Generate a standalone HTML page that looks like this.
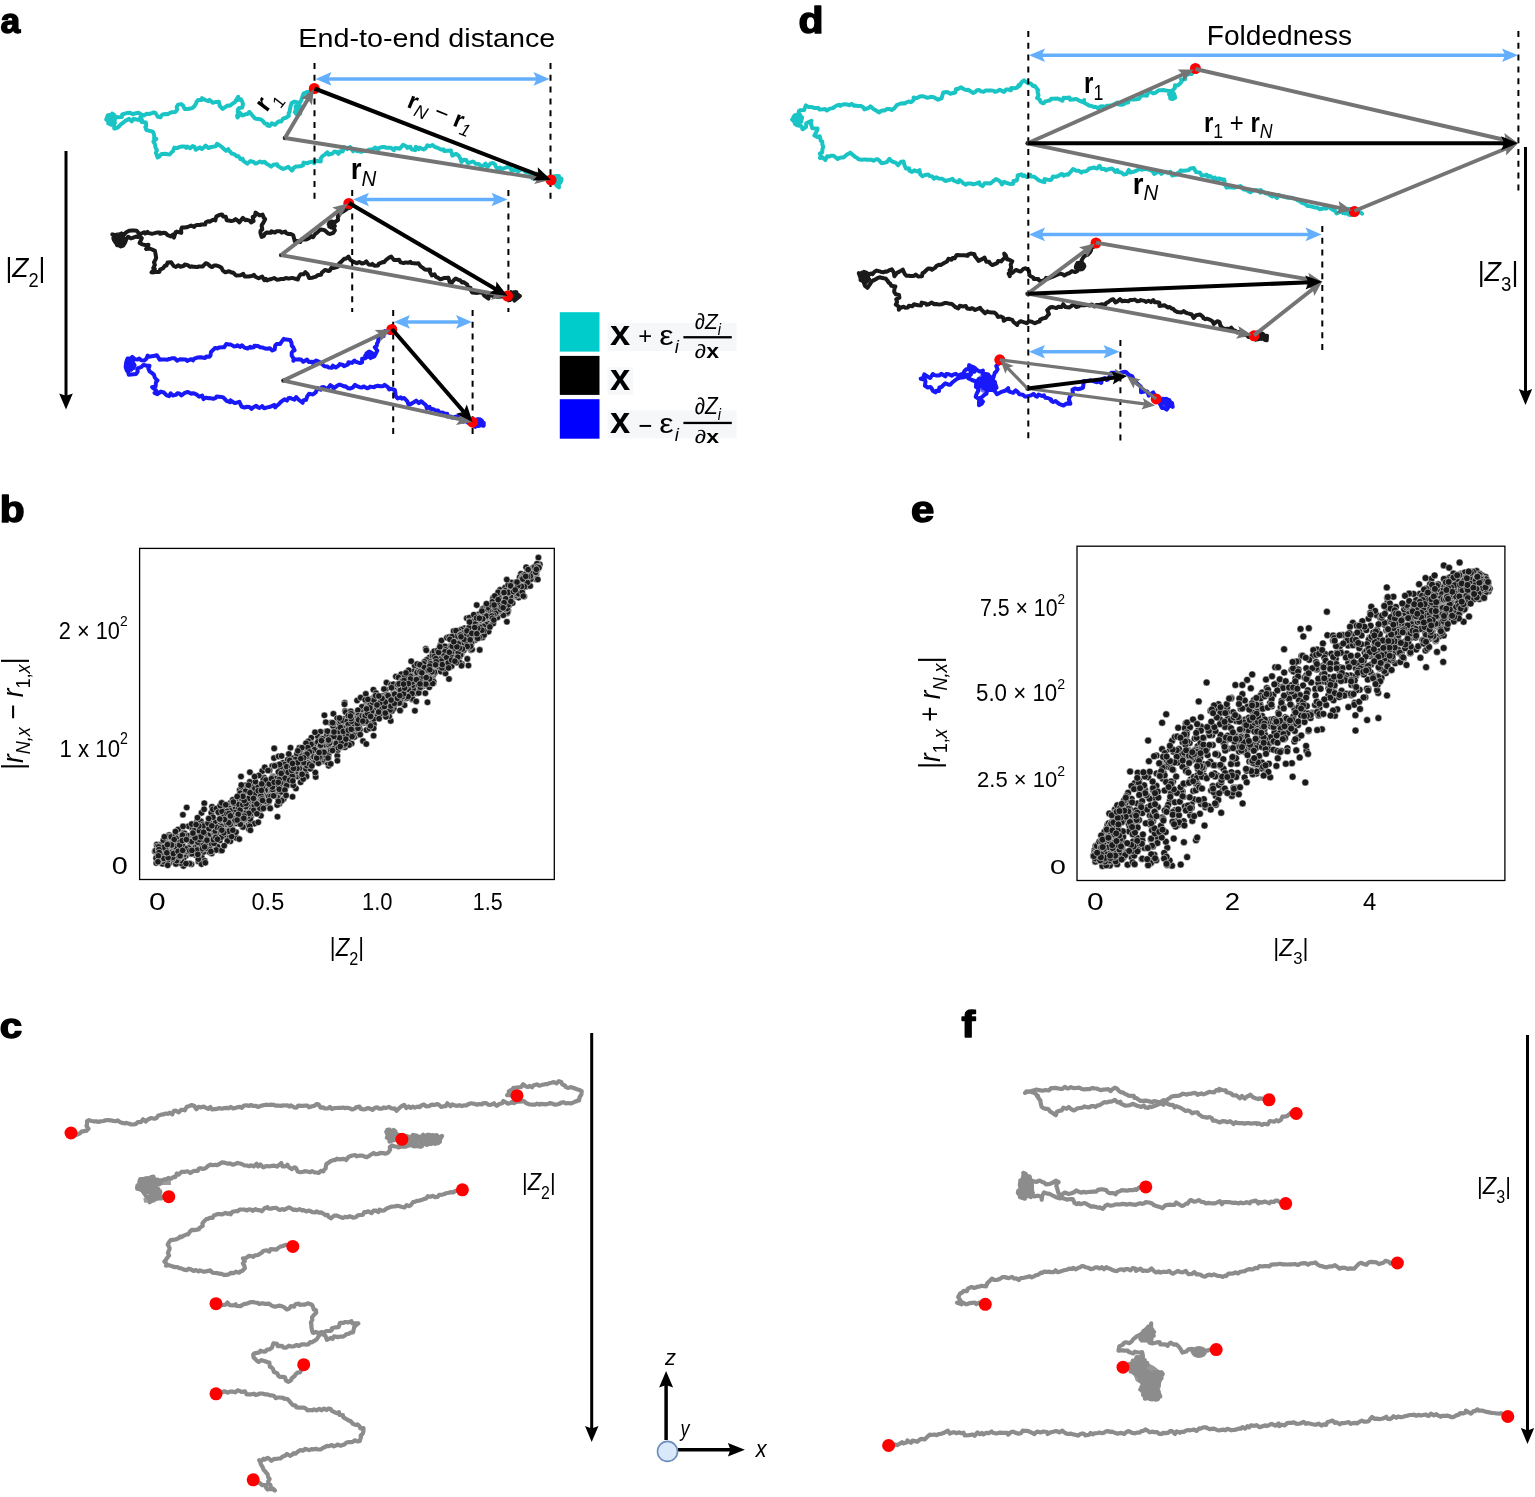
<!DOCTYPE html>
<html><head><meta charset="utf-8"><title>Figure</title>
<style>html,body{margin:0;padding:0;background:#fff;}body{width:1535px;height:1497px;overflow:hidden;}svg{display:block;}</style>
</head><body><svg width="1535" height="1497" viewBox="0 0 1535 1497" font-family="'Liberation Sans', Arial, sans-serif"><path d="M314,88 312.9,90.5 310.5,91.7 307.5,91.9 305.9,92.6 303.5,93.6 302.5,96.2 301.9,98.5 300.7,101.6 299.7,102.9 294.5,101.6 291.7,103 290.8,105.5 290.4,107.1 289.9,109.7 289.6,111.5 288.6,113.7 288.8,115.9 286,117.7 283.9,118.2 282.8,118.9 281.3,121.6 279.2,121.2 277.2,122.5 275.2,124.8 271.8,123.3 269.8,125.9 267.2,125.5 267.2,123.7 264.8,123.5 263.1,121.2 261.1,119.4 258.2,119 256,118.8 254.5,118.1 251.8,114.8 249.3,111.9 247.3,114.1 245.4,114.3 242.6,115.5 239.8,112.7 240.1,114.3 237.5,117.5 237.1,115.9 238,113.2 237.7,110.3 238.6,108.3 242.2,107.6 243,104.1 242.2,101.5 240.9,99.3 238.2,99.9 238.2,96.7 236.5,99.5 234.7,102.4 233,103.2 229.9,105.8 227.4,105.5 225.3,107.1 222.6,108.9 219.7,105.8 218.9,101.8 215.3,102.1 212.7,102.7 209.6,99.9 208.4,101.2 205.3,100 202,98.2 201.8,99.9 198.2,99.9 196.7,101.5 196,103.5 194.6,106 192.6,107.8 190.8,108.5 187.4,108.9 184.8,109 183,105.5 181.2,104.1 178.1,104.6 176.7,106.8 177.2,109.5 175.3,112.1 172.1,112.2 169.5,113.1 167.7,114.2 165.6,114 162.4,114.4 160.8,116.4 160.6,117.2 157.8,116.8 155.6,113.2 153.7,112.4 151.9,113.2 149.1,114 146.7,113.7 143.8,115.6 142,114.7 139.7,113.5 138.5,112.8 134.8,113.5 132.8,114.2 130.1,112.7 127.4,112.9 124.9,113.6 122.2,114.5 121.8,117 118.1,117.2 115.6,116.7 113.5,117.8 111.2,115.9 109.4,117.8 107.7,115.4 106.2,119.6 108.8,121.4 108.2,123.3 111.1,124.8 114.2,125 114.2,128.5 114.9,128.6 117.9,127.4 118.8,126.6 120.4,124.7 123.6,122.4 125.2,120.9 126.8,120.2 129.1,118.8 131.7,121.4 133.6,118.8 136.8,119.6 139.4,120 140.3,117.4 141.9,119.7 141.7,122.1 145.9,122.6 146.2,126 145.3,126.9 146.4,130 150.9,131.1 153,131.9 153.7,133.6 154.3,136 154.1,138.9 156.4,139 153.4,141.5 155.1,144.6 155.4,147.2 156.9,150.4 155.9,152.8 157.6,157.5 159.5,156.4 161,154.3 164.8,153.7 167.6,154.3 169.7,154.4 171.1,152.8 172.9,151.2 174.4,147.6 177.1,148.1 179.4,147 181.3,146.6 184.8,146.6 186.2,147.9 187.1,146.6 190.1,148.3 192.7,146.1 194.6,146.9 195.8,149.8 199.8,147.4 201.7,149 203.4,147.9 205.6,145.6 208.6,148.1 211.4,146.9 214.3,146.5 215.8,146.2 217,143.8 220.2,145.7 222.1,147.3 225.9,150.7 228.2,149.2 229,150.9 230.3,151.7 231.5,153.5 234.2,154.1 236.6,156.2 238.6,156.3 240.5,159.2 242.6,158.7 243.3,160.8 247.3,163.7 248.4,162.8 250.4,161.1 253.7,162 255.1,163.5 256.8,163.3 260,161.5 262,162.5 264.5,161.8 266.8,164 269.4,165.3 271.2,166.6 273.3,164.8 277.2,164.3 277.5,165.7 280.5,167.6 283.3,169 285.3,168.2 288.3,166.8 292,170.5 294.1,167.5 295.9,166.6 297.4,166.4 300.2,166.3 303,165.3 303.5,162.6 307.5,163.3 308.6,162.5 311.3,161.9 314.6,161.2 314.2,163.2 315.5,160.8 320.8,161.4 320.7,158.7 322.2,156.4 324.5,154.8 327.4,152.4 328.7,154.7 332.6,153.5 334.4,151.5 336.8,152 338.4,153.8 340,151.3 342.7,151.4 343.9,147.1 347.2,149.1 350.3,147 353,151.3 354.4,149.6 356.8,151 360.4,151.5 361.4,151.8 363.3,151 367.2,151 368.4,149.8 371.2,149.5 372.3,149.9 375.1,147.5 378.3,149.5 379.1,147.9 382.6,147 384.3,146.9 386,147.7 388.9,147.7 391,147.7 393.9,150.2 395.1,148.1 397.9,148.2 399.7,148.7 403.1,144.7 406.4,146.5 407.3,147.9 410.4,146.7 411.5,149.2 415.3,150.1 415.8,146.7 418.8,149.1 419.5,147.6 423.6,149.5 425.7,148.3 427.4,145.2 429.7,146.3 432.5,145 434.6,146.8 436.7,147.5 438.8,148.4 440.9,149.5 443.7,149.6 444.2,151.1 447.5,150.8 450.9,150.5 452,154 452.3,155.6 456.1,153.8 458.7,155.7 460,157.9 461.4,161.9 463.7,159.8 466.3,160.1 467.8,163.1 469,162.9 472.7,161.5 474.2,162.3 475.7,163.8 478.7,163.9 481.3,166.6 484.6,164.7 485.5,163.6 487.3,167.1 490.7,163.4 493,162.9 495,164.6 495.6,166.1 497.5,169 500,167.6 501.8,169.1 506,167.5 508,167 510.7,168.1 511.3,170.4 513.6,170.4 515.5,169.2 518.2,171.4 521.1,169.3 523.2,169.5 525.4,172 526.8,172.4 529.5,172.9 531.8,174.9 532.4,178.3 535.2,177.2 538.7,175.5 540,176.7 542.2,177.3 545,176.6 547.7,178.8 548.1,181.7 552.7,180.7 556.1,180.6 557.3,179.3 557.8,180.5 558.6,182.6 559,187.4 556.9,185.9 554.8,182.4 552,182" fill="none" stroke="#1ac4c4" stroke-width="4.0" stroke-linejoin="round" stroke-linecap="round"/><path d="M348.8,202.9 350.3,207.5 347.5,208.4 345.7,209.8 342.7,211.8 341.5,212.4 338.8,214.9 337.9,216.4 338,220 335.9,221.5 333.7,223 330.9,223.2 329.5,224.3 331.5,227.3 333.2,227 334.9,230.4 333.2,232.8 330.2,234 328.2,233.4 325,230.5 322.6,229.7 320.6,229.4 317.4,232.4 317.5,232.3 315.2,234 313.1,237.2 311.2,236.1 309.8,237.8 307.4,239 305.7,239.5 301.5,239.5 300.3,242 297.7,241.1 294.8,241.3 294.5,240 293.2,235.3 290.8,234 288.5,234 286.2,233.2 285.2,231.6 281.7,232.7 280.2,231.2 276.8,231.2 274.9,232.5 271.5,231.3 271.2,232.7 266.8,232.4 264.8,233.9 263.7,236.1 261.6,236.9 260.4,232.8 260.5,230.8 262.3,229.4 261.7,226.2 261.8,224.9 263.4,222.7 265.2,219.1 263.6,217.5 262.6,214.6 259.5,215.4 255.6,212.5 254.8,216.1 252.7,216.9 253.6,221.1 251.1,222.4 249.6,220.6 246.3,219.8 245.3,220.2 242.9,217.8 239.4,222.4 237.4,220.4 235.6,219.1 233.4,220.6 231.4,221 226.7,220.3 225.8,216.8 223.2,216.4 222,214.4 219.3,214.9 216.3,216.6 215.3,220.4 213.1,219.7 209.6,221.8 208,221.2 205.8,222.2 205.2,224.6 201.4,224.5 200,225 196.7,225.1 195.6,225.4 194.2,227 191.1,225.5 187.7,227 185.1,227.5 181.9,227.4 181.1,229.6 181.3,232.9 176.7,231.6 175.6,232.3 173.9,237.6 172.8,234.6 170.9,236.4 167.6,235.2 165.9,233.3 163.7,232.7 160.1,233.7 160.1,232.6 156.8,232.6 153.7,233.4 152,233.7 148.6,233.1 147.5,231.9 145.2,233.5 144.2,232.2 139.9,234.3 139.1,233.6 136.7,230.7 134.3,230.6 131.9,230.6 129.1,230.8 126.3,232.2 124.6,234.1 122.9,234.1 120.1,237.7 116.7,236 116.1,235.3 112.3,234.4 114.6,236.2 116.1,240.2 115.4,241.4 117.1,245.3 118.5,245.3 120.8,246.4 123.3,245.5 125,242.7 126.4,239.1 128.2,236.8 130.8,238.4 132.7,237.8 136,236.5 137.7,237.1 139.4,236.3 141.8,238.1 139.6,243 142.4,244.4 146,245.2 148.5,244.8 146.1,248.9 149.8,248.6 152.1,249.5 154.9,250.9 155.5,253.9 156.2,257.8 155.3,260.1 154,262.3 154.9,264.9 153.3,268 154.8,269 151.5,272.3 153.7,272.4 156.4,271.9 159.4,271.9 160.1,269.6 163.1,268.2 164.9,265.8 166.5,265.5 167.6,262.4 171.2,262.3 173.7,266 175.9,267 178.1,265.2 180.5,266.7 184.1,265.7 184.8,264.4 187.7,265.1 190.2,266.9 191.8,266.3 193.3,266.8 197.3,267.1 199,266.4 201,266.6 202.8,266.4 205.6,263.2 207.8,264 210.2,266.2 212,267.1 214.3,265.4 216,265.4 219.7,266.7 221.5,267.8 222.8,270.5 225,272.2 225.5,272.3 229.1,271.3 231.3,272.4 233,272.5 235.7,275.2 236.3,275.5 240.6,275.3 243.3,273.9 244.7,276.4 248.2,276.4 248.9,276.5 252.7,275.8 253.9,274.8 255.4,276.7 258.6,278.3 262.2,276.6 264.4,280.2 265.9,278.9 267.1,280.4 269.2,279.5 271.6,279 274.1,278 277.2,279.7 278.8,279.5 281.1,279 283.8,279 285.7,278 288.4,278.4 289.8,278.4 292.1,277.9 297.9,279.5 298.3,277.9 299.9,275.3 300.7,274.3 303.5,274.3 305.4,272.2 307.6,274.2 309.1,278 312.4,277.7 316.1,276.6 317.6,275.3 319.2,274.9 320.9,274.8 322,272.4 324.9,269.9 328.5,271 329.9,270.5 331.4,267.7 334.1,267.9 337.8,266.8 337.6,266.4 339.2,263.6 340.9,262.1 344.1,258.8 345.9,258.7 348.5,256.6 350.3,259.9 352.7,261.4 355.5,262.6 356.8,263.2 359.2,261.9 361.9,263.5 364.3,263 366.3,261.4 368.5,264.4 371.5,264.7 372.4,263.9 374.5,265.7 378.1,265.4 378.6,263.9 382.7,262.1 384.1,262.2 385.9,260 389.4,257.4 391.3,256.6 394,260.1 396.2,259.9 399.1,259.8 400.5,262.4 403.7,263.1 405.7,262.4 408,262.8 410.4,261.9 411.5,263.1 416.5,263.6 418.5,263.3 419.2,264.4 420.6,266.4 423,267.9 424.9,269.6 426.7,269.8 430.1,269.5 429.8,271.8 431.9,275.5 434.6,274.3 435.8,276.7 438.2,277.9 440.2,279.3 442.4,278.7 443.7,278.1 448.4,277.8 449.8,282.3 450.9,284 453.4,280.6 455.7,278.5 458.7,280.1 460.1,280.2 462,282.5 463.6,282.1 467.3,284.7 467.9,287.6 470.5,287.7 470.9,290.3 472.2,292.5 475.1,292.7 477.5,292.9 480.7,292.3 482.9,293.2 484.3,295.7 488.5,298.7 488.7,293.7 492.2,295.8 493.5,292.9 496.5,294 497.1,296.7 501.7,296.6 502.8,294.1 504.4,296.5 507.8,298.6 510.5,294.2 512,293.8 515,294.1 516.7,295.8 514.5,300.6 519.9,296 516.4,295.2 514.1,298.1 511.8,297.8 510,300" fill="none" stroke="#1a1a1a" stroke-width="4.0" stroke-linejoin="round" stroke-linecap="round"/><path d="M391.8,329 389.2,329.6 389.7,332.9 385,331.1 383.8,333.2 383.6,336 380.6,337 378.5,337.6 378.1,341.7 377,343.5 376.7,346.1 374.8,347.2 377.3,350.6 374.4,356.4 371.1,356.1 370,356.6 367.3,356.1 365.2,358.3 362.1,358.7 362.1,362.3 360,363.1 355.4,361.7 354.5,360.5 352.1,362.9 348.4,362.2 348.1,364.3 344,366.1 343,365 339.8,364.1 339,365.4 335.8,367.5 332.8,365.7 332,367.7 328.9,367.6 327.2,366.5 324.5,366.2 323.9,365.7 319.6,362 318.2,361.4 316.3,360.4 312.6,362.9 312.1,361.7 308.7,361.9 307.1,359.5 303.3,361.8 301.4,359.8 298.8,359.2 298.3,359.3 293.7,359.7 293.4,360.8 293.7,358.6 291.7,355.7 291.7,352.7 293.3,350.7 294.6,350.3 293,346.8 291.8,345.9 291.5,342.9 290.1,339.9 284.4,339.2 283.9,338.8 281.5,341.9 280.2,343.9 276.6,344 275.2,345.6 274.7,349.4 272.3,350.5 269.8,348.3 267.4,348.8 265,348.5 262.2,347.4 260.2,347.2 257.9,345.9 254.4,345.7 253.8,347.3 250.5,347.7 250.1,346.9 247.6,348.5 244.4,347.6 241.9,345.3 240,346.9 237.4,345.3 237.2,346.1 233.9,346.4 230.5,344.4 229.2,344.5 226.2,344.1 224.1,347.3 222.7,347.3 219.5,347.4 217.3,348.4 215,347.9 213.9,349.1 211,352 210.4,355.7 209.2,356.8 206.3,356.6 205.1,358 200.5,357.3 197.2,357.6 195.8,358.1 194.3,358.6 192.9,360.4 191.2,359.2 187.2,360.9 186,359.6 183.8,359.6 180.6,359.2 178.5,359.8 177,360.7 174.6,358.2 172.4,358.2 168.6,359.3 169.1,359 166.8,359.8 164.7,359.4 161.7,359.4 159.7,359.8 156.9,355.2 154.6,355.8 153.4,356.1 148.9,356.8 147.7,355.5 146.4,358.7 144.3,360.6 141.2,360.2 139.2,358.5 137.6,359.4 135,359.2 132.3,356.9 130.6,358.6 127.6,358.4 126.7,360.7 126.4,362.8 126.2,365.5 126.7,370.4 128.2,372.1 128.7,374.7 136,373.9 136.8,373 137.7,371.5 137.2,369 138,368.1 141.2,367.1 143.4,364.9 146.9,365.8 149.5,365.7 148.4,368.7 149.6,371.4 152.1,373.2 153.9,374.6 154.7,377.2 156,379.3 157.5,380.3 156,382.3 155.6,386.3 152.1,387.1 156,390.3 157.1,392 154.5,392.9 157.4,394.2 159.2,392.9 160.8,391.6 163.8,392.5 166.7,395.4 169,396.2 170.7,393.3 172.7,395.5 175.9,394.9 177.3,393.3 179.3,393.5 181.5,395.4 184.3,393.2 185.9,392.5 188,391.9 191.3,393.7 193,393.3 195,393.8 196.7,394.6 199.2,396.7 202.2,395.6 203.5,399.1 206,397.6 208,398.2 210,398.1 213.3,398.8 215.8,397.8 216.6,396.5 221.3,396.9 223.2,397.4 225.3,399.5 226.5,400.8 230.1,402.2 230.5,400.3 234.3,402.9 235.7,402.9 239.4,401.8 240.8,404.9 241.5,406.5 244.6,407.6 246.4,406.7 249.4,407 251.4,408.9 253.5,407.2 256.2,405.7 258.1,407.4 259.5,408 262.2,406 264.1,408.3 267.2,407.4 269.2,407 271.9,406.1 274.1,404.9 275.2,407.3 276.3,406.1 279,404 280.4,402.4 282.3,400.8 284.4,399.3 286.9,400.6 288.4,398.2 289.8,397.8 294.4,399.6 296.1,397 298.1,399.2 302.6,402.8 303.6,400.3 306.1,399.8 307.2,396.4 309,393.8 312.1,394.4 313,394.3 315.7,392.4 317.5,388.1 320.8,389.6 321.9,387.2 323.9,387.1 327.3,389.2 330.3,385.1 332.9,386.9 333.4,388.6 336.4,386.3 339.1,384.6 340.9,385 344.2,386.4 345.6,386.2 348,388.3 349.9,388.5 352.7,387.6 355,384.9 356.4,385.9 359.6,387.2 362.1,387.4 363.5,386.4 367.2,388.3 369.5,387.3 370.1,386.6 374.3,387.3 375,386.5 377.7,385.7 380.2,386.3 383,386.2 384.6,384.9 387.9,387.2 389.2,389.5 390.4,388.7 394.8,390 395.3,392.4 395.7,396.1 397.7,398.5 400.7,397.3 401.9,398.7 404.2,398 407.3,401.3 408.7,405 410,404.4 412.9,402.8 416.2,400.6 418.8,403.1 421.3,401.2 423.5,403.2 426,405.3 426.7,408.1 429.6,406.9 430.2,408.8 433.4,409.3 435.6,410.6 438.1,410.5 439.4,412.9 442.6,412.6 444.6,413.5 447.2,413.7 447.2,416.4 450.4,416.4 451.9,417.6 454,417.2 457.8,416.2 459.7,418 461.9,418.8 463.4,421.6 466.6,420.7 467,421.9 469.5,423.7 473.5,422 474.7,420.5 477.3,420.1 480.1,419.6 479.8,420.8 482.3,425.3 483.5,425.8 481.4,425.1 479.7,425.4 478.2,425.9 475,425" fill="none" stroke="#1818f8" stroke-width="4.0" stroke-linejoin="round" stroke-linecap="round"/><path d="M563,180 L562.8,181.2 L562.1,182.2 L560.9,183.2 L559.5,183.9 L557.8,184.3 L556,184.5 L554.2,184.3 L552.5,183.9 L551.1,183.2 L549.9,182.2 L549.2,181.2 L549,180 L549.2,178.8 L549.9,177.8 L551.1,176.8 L552.5,176.1 L554.2,175.7 L556,175.5 L557.8,175.7 L559.5,176.1 L560.9,176.8 L562.1,177.8 L562.8,178.8 Z" fill="#1ac4c4" fill-opacity="0.6" stroke="none"/><path d="M556,180 554.2,178.4 553.7,176 552.3,177.9 549.9,178.3 552.2,177.7 554.6,177.1 552.2,177.7 550,178.5 552.2,179.3 553.4,177.2 555.4,175.9 557.8,175.8 558.5,178 556.3,179 554,178.2 553.5,180.6 555.7,181.4 557.5,179.8 559.7,178.8 557.3,178.7 555.1,177.7 556.2,179.8 554,178.9 554.7,176.6 557,177.2 559.1,176 558.1,178.2 555.8,177.4 557.7,175.9 555.4,176.5 557.5,177.6 559.3,179.2 561.6,179.7 559.7,178.2 557.3,178.1 555.2,177.1 554.4,179.4 556.7,178.7 554.6,177.7 557,177.6 559.4,177.7 561.7,178.4 561.5,180.8 560.4,182.9 558,183.2 558.8,180.9 559.3,178.6 558.2,176.5 555.9,177.2 553.6,176.6 553.5,179 555.8,179.8" fill="none" stroke="#1ac4c4" stroke-width="3.6" stroke-linejoin="round" stroke-linecap="round"/><path d="M117,119 L116.8,120.6 L116.3,122 L115.5,123.2 L114.5,124.2 L113.3,124.8 L112,125 L110.7,124.8 L109.5,124.2 L108.5,123.2 L107.7,122 L107.2,120.6 L107,119 L107.2,117.4 L107.7,116 L108.5,114.8 L109.5,113.8 L110.7,113.2 L112,113 L113.3,113.2 L114.5,113.8 L115.5,114.8 L116.3,116 L116.8,117.4 Z" fill="#1ac4c4" fill-opacity="0.6" stroke="none"/><path d="M112,119 109.6,118.9 108.3,116.9 109.3,114.8 109.2,117.2 111,115.5 112.1,113.4 114.2,114.6 113.7,117 111.3,116.9 109.1,117.7 109.6,115.3 110.8,117.4 110.5,119.8 110.1,122.1 112.4,121.5 114.5,120.4 112.5,119 112.3,116.6 114.7,117.2 114.2,119.5 113.1,121.7 111.1,122.9 112.6,121.1 114.3,119.4 112,120.2 109.6,120.2 107.6,119 109.4,120.5 111.8,120.3 112.2,117.9 111,115.8 108.6,116.2 108.7,118.6 109.7,120.8 110.7,122.9 113.1,122.8 114.4,120.8 115.4,118.6 115.4,116.2 113.5,117.6 111.1,117.7 111.3,120.1 112.8,122 113.3,124.4 111.6,122.7 113.3,124.4 115.2,123 113.9,120.9 112.4,119.1 111.4,116.9 110.1,114.9" fill="none" stroke="#1ac4c4" stroke-width="3.6" stroke-linejoin="round" stroke-linecap="round"/><path d="M302,110 L301.9,111.6 L301.5,113 L300.8,114.2 L300,115.2 L299,115.8 L298,116 L297,115.8 L296,115.2 L295.2,114.2 L294.5,113 L294.1,111.6 L294,110 L294.1,108.4 L294.5,107 L295.2,105.8 L296,104.8 L297,104.2 L298,104 L299,104.2 L300,104.8 L300.8,105.8 L301.5,107 L301.9,108.4 Z" fill="#1ac4c4" fill-opacity="0.6" stroke="none"/><path d="M298,110 299.9,111.5 300.4,113.8 298.6,112.3 296.2,112.4 297.4,110.3 295.4,109 296,111.4 295.6,113.7 297.5,115.2 298.3,113 298.5,110.6 298.7,108.2 301,108.8 300.3,111.1 299.4,113.3 297.5,114.8 297.1,112.4 298.2,110.3 299,108 301.3,107.7 299,108.3 296.6,108.1 295.4,106 295.6,108.4 296.2,110.8 297.7,112.6 299.8,113.8 298.9,111.6 296.6,110.9 298.9,110.1 300.6,111.7 299.9,109.4 299.8,107 297.6,106 297.7,108.4 296.1,110.1 294.6,112 296.8,112.8 298.2,110.8 300.4,109.9 300.5,107.5 299.9,105.1 297.5,105.6 295.5,106.9" fill="none" stroke="#1ac4c4" stroke-width="3.6" stroke-linejoin="round" stroke-linecap="round"/><path d="M521,296 L520.7,297.2 L519.9,298.2 L518.7,299.2 L517,299.9 L515.1,300.3 L513,300.5 L510.9,300.3 L509,299.9 L507.3,299.2 L506.1,298.2 L505.3,297.2 L505,296 L505.3,294.8 L506.1,293.8 L507.3,292.8 L509,292.1 L510.9,291.7 L513,291.5 L515.1,291.7 L517,292.1 L518.7,292.8 L519.9,293.8 L520.7,294.8 Z" fill="#1a1a1a" fill-opacity="0.6" stroke="none"/><path d="M513,296 515.2,294.9 516.3,292.8 514.5,294.4 514.2,292 516.6,292 514.5,293.2 512.2,293.7 513.4,295.8 513.6,298.2 511.3,298.9 509.1,299.6 507.1,298.2 508.5,296.2 506.8,294.5 508.1,292.6 510.5,293 512.8,292.4 510.6,293.4 509.4,295.4 507.2,296.3 506,294.2 508.3,294.8 510.6,294.2 513,294.8 515.3,295.1 515.8,292.8 515.6,295.1 517.9,295.8 515.7,296.7 514.6,294.5 516.4,293 518.1,294.7 515.7,295.1 513.3,294.7 511,294 508.8,294.8 508,292.6 508.3,295 509.6,296.9 510.2,299.3 508,298.3 506.1,296.9 505.6,294.5 507.7,295.6 506.6,297.7 506.6,295.3 508.4,293.7 509.2,296 507.7,297.9 510.1,297.8 511.5,295.8 510,294 511,291.8 512.4,293.8 514.8,293.9 517.2,294 515.9,291.9" fill="none" stroke="#1a1a1a" stroke-width="3.6" stroke-linejoin="round" stroke-linecap="round"/><path d="M125,238 L124.8,239.6 L124.2,241 L123.2,242.2 L122,243.2 L120.6,243.8 L119,244 L117.4,243.8 L116,243.2 L114.8,242.2 L113.8,241 L113.2,239.6 L113,238 L113.2,236.4 L113.8,235 L114.8,233.8 L116,232.8 L117.4,232.2 L119,232 L120.6,232.2 L122,232.8 L123.2,233.8 L124.2,235 L124.8,236.4 Z" fill="#1a1a1a" fill-opacity="0.6" stroke="none"/><path d="M119,238 120.2,235.9 121.6,237.9 123.1,239.8 123.8,237.5 124.7,239.7 123.3,241.6 120.9,241.6 120.6,239.2 120.5,236.8 118.2,236.3 116.4,234.7 114.6,236.4 113.1,238.2 113.9,240.5 115.6,242.2 118,242.3 120.2,241.3 120,238.9 118,237.7 115.6,237.8 113.3,238.5 114.4,236.4 115.5,238.6 117.8,238.1 119.4,239.9 121.5,241.1 119.2,240.2 117.2,239 116.9,236.6 119.2,237.1 120.7,239 122.5,240.6 121.6,242.8 119.3,242.1 117.2,241.1 114.9,241.9 116.5,240.1 118.6,239 121,238.5 118.9,237.3 117.5,235.3 115.2,234.8 116.3,236.9 118.7,236.8 119.6,234.6 121.5,233.2 121.9,235.5 122.4,237.9 121.7,240.2 123.7,241.4 121.7,242.7 123.3,241 121,241.6 119.4,243.4 118.4,241.2 119.4,239 120.6,237" fill="none" stroke="#1a1a1a" stroke-width="3.6" stroke-linejoin="round" stroke-linecap="round"/><path d="M336,224 L335.9,225 L335.5,226 L334.8,226.8 L334,227.5 L333,227.9 L332,228 L331,227.9 L330,227.5 L329.2,226.8 L328.5,226 L328.1,225 L328,224 L328.1,223 L328.5,222 L329.2,221.2 L330,220.5 L331,220.1 L332,220 L333,220.1 L334,220.5 L334.8,221.2 L335.5,222 L335.9,223 Z" fill="#1a1a1a" fill-opacity="0.6" stroke="none"/><path d="M332,224 334.3,224.5 333.7,226.8 331.4,227.3 332.5,225.2 331.2,223.2 333,224.8 335.1,226 333.7,224.1 332.9,221.8 334.3,223.7 333,225.7 330.6,225.8 328.7,224.3 330.2,226.2 332.2,227.5 331.9,225.1 331,222.9 329.2,224.5 329.5,222.1 328.4,224.3 329.5,222.1 331.8,221.3 334.1,221.9 331.7,221.4 332.2,223.8 334.5,224.5 333.4,226.6 331.2,227.6 329,226.6 330.4,224.6 331.9,222.7 334.3,222.5 332.1,221.4 331.7,223.8 333.7,225.1 331.5,226" fill="none" stroke="#1a1a1a" stroke-width="3.6" stroke-linejoin="round" stroke-linecap="round"/><path d="M485,423 L484.8,424.2 L484.1,425.2 L482.9,426.2 L481.5,426.9 L479.8,427.3 L478,427.5 L476.2,427.3 L474.5,426.9 L473.1,426.2 L471.9,425.2 L471.2,424.2 L471,423 L471.2,421.8 L471.9,420.8 L473.1,419.8 L474.5,419.1 L476.2,418.7 L478,418.5 L479.8,418.7 L481.5,419.1 L482.9,419.8 L484.1,420.8 L484.8,421.8 Z" fill="#1818f8" fill-opacity="0.6" stroke="none"/><path d="M478,423 476.6,425 475.3,427 473.6,425.3 476,425 478.2,426.1 479.5,424.1 481.6,422.9 484,422.9 483.7,425.2 481.6,424.1 479.5,425.4 477.3,426.3 474.9,426 476.8,424.5 479.1,423.8 479.4,421.5 479.4,419.1 479.1,421.4 480.3,423.5 482.4,424.7 480.6,423.1 482.4,421.6 483.8,423.6 482.3,421.7 479.9,421.9 481.9,420.4 479.7,421.5 478.2,423.4 476.2,424.6 474.4,426.2 476.8,425.9 479.2,425.7 479.9,423.4 478.8,421.2 477.3,419.4 475,420.1 472.8,421.1 472.5,423.5 474.9,423.6 477.2,424.2 479.5,423.6 478.6,421.4 479.9,419.3 481.4,421.2 479.7,423 477.4,422.3 475,422.8 473.5,424.7 474.4,422.4 474.9,420.1 477.1,419.1 479.5,419.1" fill="none" stroke="#1818f8" stroke-width="3.6" stroke-linejoin="round" stroke-linecap="round"/><path d="M135,365 L134.8,366.6 L134.3,368 L133.5,369.2 L132.5,370.2 L131.3,370.8 L130,371 L128.7,370.8 L127.5,370.2 L126.5,369.2 L125.7,368 L125.2,366.6 L125,365 L125.2,363.4 L125.7,362 L126.5,360.8 L127.5,359.8 L128.7,359.2 L130,359 L131.3,359.2 L132.5,359.8 L133.5,360.8 L134.3,362 L134.8,363.4 Z" fill="#1818f8" fill-opacity="0.6" stroke="none"/><path d="M130,365 131.6,363.2 132.5,365.4 134.9,365.3 132.7,364.4 132.2,362.1 130.4,360.4 132.3,361.8 131.6,364.1 130.7,366.4 129.3,368.3 127.9,370.3 129.7,368.6 127.8,367.1 126.1,365.5 127.9,367 130.3,366.8 132.3,365.5 134.3,364.2 134.4,366.6 133.3,364.4 132,362.4 132.7,360.1 132.9,362.5 132.1,364.7 129.9,363.6 129.6,361.2 127.3,361.9 127,364.2 128.4,366.1 129.3,368.4 131,370.1 132.7,368.4 132,366.1 130.7,368.1 128.4,367.3 126.9,365.5 126.5,363.1 128.8,362.4 130.9,361.3 133.2,361.6 130.8,361.8 128.6,360.9 126.4,362 125.8,364.3 125.5,366.7 126.3,369 125.4,366.8 127.7,366 129.9,365.2 132,366.4 133.6,368.1" fill="none" stroke="#1818f8" stroke-width="3.6" stroke-linejoin="round" stroke-linecap="round"/><path d="M374,355 L373.8,356 L373.3,357 L372.5,357.8 L371.5,358.5 L370.3,358.9 L369,359 L367.7,358.9 L366.5,358.5 L365.5,357.8 L364.7,357 L364.2,356 L364,355 L364.2,354 L364.7,353 L365.5,352.2 L366.5,351.5 L367.7,351.1 L369,351 L370.3,351.1 L371.5,351.5 L372.5,352.2 L373.3,353 L373.8,354 Z" fill="#1818f8" fill-opacity="0.6" stroke="none"/><path d="M369,355 368.6,352.6 366.3,353.4 367.8,355.2 369.7,356.7 367.3,356.4 364.9,355.8 367.2,355 369.2,356.3 370.6,358.3 370.6,355.9 373,355.6 371.5,353.6 369.2,353 366.8,352.8 367.7,355 369.6,356.5 371.7,357.5 371.1,355.2 369,354 371.3,353.3 373.1,354.9 372.8,357.3 373.5,355 371.6,353.6 369.2,354 366.9,353.4 368.4,351.6 368.9,353.9 370.6,355.6 372.2,357.4 373.8,355.7 371.5,356.4 372.7,354.3 371.3,352.3 369.4,353.7 371.6,354.8 373.4,356.3 373.4,353.9 371.5,352.4 369.3,351.4" fill="none" stroke="#1818f8" stroke-width="3.6" stroke-linejoin="round" stroke-linecap="round"/><line x1="314.5" y1="63" x2="314.5" y2="200" stroke="#000" stroke-width="2" stroke-dasharray="6,5.8"/><line x1="550.5" y1="63" x2="550.5" y2="200" stroke="#000" stroke-width="2" stroke-dasharray="6,5.8"/><line x1="352.2" y1="190" x2="352.2" y2="312" stroke="#000" stroke-width="2" stroke-dasharray="6,5.8"/><line x1="508.4" y1="190" x2="508.4" y2="312" stroke="#000" stroke-width="2" stroke-dasharray="6,5.8"/><line x1="393.2" y1="310" x2="393.2" y2="434" stroke="#000" stroke-width="2" stroke-dasharray="6,5.8"/><line x1="472.6" y1="310" x2="472.6" y2="434" stroke="#000" stroke-width="2" stroke-dasharray="6,5.8"/><line x1="326.7" y1="78.9" x2="538.3" y2="78.9" stroke="#64affd" stroke-width="3.5"/><path d="M549.5,78.9 L533.5,85.7 L536.7,78.9 L533.5,72.1 Z" fill="#64affd"/><path d="M315.5,78.9 L331.5,85.7 L328.3,78.9 L331.5,72.1 Z" fill="#64affd"/><line x1="364.2" y1="199.5" x2="496.3" y2="199.5" stroke="#64affd" stroke-width="3.5"/><path d="M507.5,199.5 L491.5,206.3 L494.7,199.5 L491.5,192.7 Z" fill="#64affd"/><path d="M353,199.5 L369,206.3 L365.8,199.5 L369,192.7 Z" fill="#64affd"/><line x1="405.2" y1="321.9" x2="460.8" y2="321.9" stroke="#64affd" stroke-width="3.5"/><path d="M472,321.9 L456,328.7 L459.2,321.9 L456,315.1 Z" fill="#64affd"/><path d="M394,321.9 L410,328.7 L406.8,321.9 L410,315.1 Z" fill="#64affd"/><circle cx="314.3" cy="88.5" r="5.5" fill="#ff0000"/><circle cx="551" cy="180" r="5.5" fill="#ff0000"/><circle cx="348.8" cy="203.5" r="5.5" fill="#ff0000"/><circle cx="507.5" cy="296" r="5.5" fill="#ff0000"/><circle cx="391.8" cy="329.5" r="5.5" fill="#ff0000"/><circle cx="472.6" cy="422.2" r="5.5" fill="#ff0000"/><circle cx="284.9" cy="138" r="2.2" fill="#222"/><circle cx="281.1" cy="255.1" r="2.2" fill="#222"/><circle cx="283.4" cy="380.6" r="2.2" fill="#222"/><line x1="284.9" y1="138" x2="308.6" y2="98" stroke="#747474" stroke-width="3.9"/><path d="M314,89 L311.9,105.2 L307.9,99.3 L300.8,98.6 Z" fill="#747474"/><line x1="284.9" y1="138" x2="539.6" y2="178.4" stroke="#747474" stroke-width="3.9"/><path d="M550,180 L534.2,184.1 L538.1,178.1 L536.2,171.2 Z" fill="#747474"/><line x1="281.1" y1="255.1" x2="339.7" y2="209.9" stroke="#747474" stroke-width="3.9"/><path d="M348,203.5 L340.1,217.8 L338.5,210.8 L332.2,207.5 Z" fill="#747474"/><line x1="281.1" y1="255.1" x2="496.7" y2="294.1" stroke="#747474" stroke-width="3.9"/><path d="M507,296 L491.1,299.7 L495.2,293.9 L493.4,286.9 Z" fill="#747474"/><line x1="283.4" y1="380.6" x2="381.5" y2="334" stroke="#747474" stroke-width="3.9"/><path d="M391,329.5 L380.2,341.8 L380.2,334.6 L374.7,330.1 Z" fill="#747474"/><line x1="283.4" y1="380.6" x2="461.7" y2="419.7" stroke="#747474" stroke-width="3.9"/><path d="M472,422 L456,425.1 L460.3,419.4 L458.7,412.4 Z" fill="#747474"/><line x1="314.5" y1="88.5" x2="539.9" y2="175.7" stroke="#000" stroke-width="4.1"/><path d="M551,180 L532.6,180.4 L538.3,175.1 L537.7,167.3 Z" fill="#000"/><line x1="349" y1="203" x2="497.2" y2="290" stroke="#000" stroke-width="4.1"/><path d="M507.5,296 L489.3,293.4 L495.8,289.1 L496.4,281.4 Z" fill="#000"/><line x1="392" y1="329" x2="464.8" y2="413" stroke="#000" stroke-width="4.1"/><path d="M472.6,422 L456.2,413.7 L463.7,411.7 L466.8,404.6 Z" fill="#000"/><line x1="66" y1="151" x2="66" y2="398.2" stroke="#000" stroke-width="3"/><path d="M66,409.4 L59.2,393.4 L66,395.8 L72.8,393.4 Z" fill="#000"/><path d="M1195.4,67.3 1192.8,69.1 1193.3,70.5 1191.6,74.1 1190.1,73.9 1185.2,75 1185.1,76.5 1185.1,79.3 1181,79.6 1182,81.1 1180.3,83.3 1177.8,85.4 1174.9,85.2 1174.8,88.3 1173.1,89.7 1172.1,92.1 1169.9,90.9 1167.4,90.8 1166.1,90.6 1163.4,90 1161.8,90.2 1159.1,90.2 1157.4,91.2 1155.5,92.8 1153.1,93.4 1149.6,91.1 1147.7,93.4 1147,95.8 1145.3,95.6 1141.5,95.5 1139.7,97.6 1139.2,98.8 1136.6,99.2 1133.7,99.4 1131.4,99.2 1128.3,99.7 1128.2,102.4 1125.5,102.8 1123.9,104.1 1121.7,104.8 1118.6,104.5 1117.4,102.5 1114.5,104.1 1111.7,105.3 1109.8,105.5 1106.8,105.7 1105.8,107.1 1103.1,106.3 1100.3,106.5 1098,108.3 1095.8,106.8 1093.6,106.9 1091.6,106 1088.9,105.5 1087.7,104.7 1083.8,102.5 1084.1,100.1 1082.2,101.9 1079.8,100.9 1076.4,99 1074.5,99.2 1070.1,99.8 1069.3,97.5 1066,98 1063.6,97.8 1062.4,100.7 1059.2,99.1 1057.7,98.5 1052.9,98.7 1051.1,98.8 1050.2,100.3 1046.6,101.1 1045,101.6 1043.7,103.3 1042.1,103 1040.3,101.6 1039.8,99.6 1037.1,98 1038.5,95.4 1037.5,91.4 1038.2,90.2 1036.4,88 1034.6,85.8 1032.7,85.9 1030.8,83.4 1028.2,83.3 1024,80.4 1022,81.8 1019.7,85.8 1019,84.7 1017,87.8 1013.9,88.2 1011.2,87.9 1010.8,90.3 1007.3,89.4 1006,89.6 1004,92 1003.8,91.9 999.8,89.8 996.3,91.6 994.8,91.8 993.9,90.9 990.9,90.4 988.7,90.4 985.4,90.5 983.6,91.9 981.1,91.4 979.2,90 977,90.3 975.5,91.7 973.3,92.9 970,91 969.1,90.1 968,89.8 966,90 963.6,89 961.1,87.3 957.6,89.1 956,88.9 955.3,92.5 953.2,93 950.3,93.8 947.3,92 943.2,92.6 942.7,94.4 941.5,98.3 938.1,99.7 936.4,98.7 933.8,97.2 930.9,96.8 929.9,97.3 927.4,97.8 925.6,97.1 922.7,96.3 921.4,96.3 919.2,96.8 917,98.1 913.6,97.5 913.7,100 911,102.2 908.6,101.5 906.1,102.5 905,103.4 903.2,103.2 900.8,103.5 896.6,105.1 896,106.3 894.1,108.6 891.7,110 889.9,109 886.9,109 884.5,110.6 882.1,110.4 881,111 878.9,112.5 876.4,110.6 873.8,109.3 872.3,108 870.4,106.4 868.5,108 864.3,109.4 863.6,107.4 861.1,106.1 858.3,106.1 855.5,105.5 854.1,105.8 851.6,103.9 849.4,105.3 847.7,104.6 844.5,104.3 842.8,104.4 840.3,105.9 839.4,104.8 836.5,105.6 834.1,107.1 832.9,108.1 830.1,108.6 826.8,110.5 825.1,108.9 823.1,109.2 819.4,109.6 818.5,108 814.8,108 812.5,107.3 810.5,106.9 808.3,106.9 805.9,105.3 804.1,109.9 800.2,110.2 799,110.9 798.5,113.6 796.4,116 794.5,115.5 792.1,119.7 795.2,119.6 794.8,123.7 796.7,125.1 798.1,125.5 801.2,126 802.6,129.3 806.1,126.8 806.2,123.4 811.5,120.8 810.7,123.6 811.6,125.8 812.4,128.3 817.6,128.5 817,130.7 814.4,135.5 817.3,137 819.8,136.3 820.7,140.6 822.2,141.7 822.5,145 823.3,146.4 822.5,148.8 822.1,152.5 819.8,153.6 821.8,157.7 819.8,157.9 822,157.1 823.7,158.5 825.4,159.9 827.1,156.3 829.8,156.4 830.9,155.7 833.7,155.8 837.6,159 839.3,157.9 841.3,157.6 843.5,157.4 847,154.4 848.5,153.8 850.3,152.6 852.1,154.4 855.2,156.9 857.4,158.1 858.4,159.2 861.7,159.7 864.4,159.5 864.9,159.6 867.9,159.7 871.1,159.7 873.5,160.7 876.4,159.2 877.8,159.3 879.4,160.6 881.6,163.2 884.9,162.6 886.9,162 889.5,158.8 891.4,161 893.3,162 895.7,162.6 898,165.3 901,161.7 903.5,161.5 904.5,165.3 905.9,168.5 909,168.2 909.4,170.6 912.1,171.9 914.3,170.3 917.1,171.5 919.5,170.2 920.3,174.3 922.5,176.4 925,174.9 928.4,174.6 929.8,176.1 932.2,176.4 933.8,178.7 936.2,177.3 938.7,178.5 942.3,178.8 943.1,179.4 945.3,181 948.1,180.3 949.6,179.8 952.5,178.8 953.5,180.5 958.2,182.3 959.3,180 961.4,181.4 963.3,183.2 965.9,184.7 967.6,183.4 970.9,183.5 973.5,184.3 975.8,183.6 979.2,182.4 979.5,184.2 982.6,186.1 984.7,183.2 986.9,183.3 989.9,183.6 991.3,182.9 992.9,181.4 995.9,179.1 997.4,179.6 1000.3,181.6 1001.9,184.4 1003.9,181.9 1006.9,183 1010.6,184.1 1013.3,183.8 1013.4,181 1016.6,180.5 1017.6,177.7 1017.6,175.5 1021.3,174.3 1022.9,176.1 1024.4,175.3 1026.8,177.1 1030.3,174.9 1030.9,176.6 1034.3,176.7 1036.9,178.8 1038.3,179.9 1040.5,181.1 1044.4,182.2 1044.5,179.1 1048,179.8 1051,179.9 1051.9,178.6 1052.9,176.6 1055.9,176.8 1058.5,175.8 1061,174.2 1062.1,173.9 1063.6,175.6 1066.8,174.3 1067.9,174.8 1071.5,170.8 1073,169 1076.4,170.7 1079,170.8 1081.4,172.7 1082.9,171.5 1086,171.3 1088.2,169.9 1088.7,168.7 1094.3,167.5 1094.7,167.9 1097.2,168.6 1099.5,165.8 1101.5,168.9 1104.9,169.1 1106.1,170.4 1108.1,169.2 1112.1,168.6 1112.9,169.1 1115.4,171.9 1117.3,170 1118.6,172.1 1121.4,172.5 1124,174.6 1126.7,173.8 1128.8,169.9 1130.3,172.5 1133.3,171.9 1135.2,171.2 1138.2,169.7 1139.2,169 1141.5,169.7 1144.4,169.1 1145.1,169 1145.9,169.1 1149.8,169.9 1152.5,171.2 1154.2,173.9 1157.6,172.3 1160,171.6 1161.4,173.9 1164.6,171.9 1166.9,172.5 1168.5,172.7 1170.4,171.9 1172.2,175.5 1177.1,174.6 1177.9,172.8 1179.4,173.2 1180.4,170.6 1183.7,170.7 1186,170.6 1188.9,170 1190.3,168.4 1193.8,168 1196,171.9 1198.1,172.2 1199.8,172.4 1201.7,175.4 1205.2,175.2 1206.7,174.7 1207.8,176.8 1210.2,176 1213.1,178.3 1214.9,177.5 1216.4,180.3 1218.8,178.3 1222.7,179.5 1224.3,179.6 1224.8,184.4 1226.6,187.6 1228.1,187.1 1232,187.6 1234.8,187.5 1237.2,186.9 1240.5,186.1 1241.4,186.8 1243.6,189.6 1245.2,189.4 1248.6,191.2 1250.5,192.3 1252.3,190.8 1254.3,190.3 1257.6,190.3 1260.5,192.6 1260.7,189.9 1262.7,191.7 1266.5,193.6 1267.6,193 1269.4,195 1272.3,196.4 1274.1,195.6 1277,197.9 1278.3,195 1281.9,196.3 1282.9,196.6 1285.6,197 1285.8,197.4 1288.3,197.8 1291.7,197.8 1293.4,198.4 1296,199.2 1297.7,200.4 1300.2,201.3 1301.2,202.7 1305.1,203.8 1306.7,205.5 1308.3,206 1311,206.3 1313.4,207 1314.7,207.5 1316.9,207.4 1319.6,209.2 1321.9,208.8 1324.2,208 1326.1,208.7 1328.7,206.5 1331,208.7 1332.8,209.9 1334.5,210.1 1336.6,213.5 1338.9,212.5 1340.5,211.5 1342.2,209 1345,209.4 1346.9,209.1 1350.1,208.9 1352.7,209.3 1355.3,208.6 1356.4,210.5 1360.9,212.6 1362,213.7" fill="none" stroke="#1ac4c4" stroke-width="4.0" stroke-linejoin="round" stroke-linecap="round"/><path d="M1096,242.6 1095.3,244.6 1093.1,247.2 1090.5,246.5 1091.1,250.3 1089.7,252.7 1087.6,254.8 1085.1,255.6 1083.7,256.9 1081.6,260.2 1082.1,263.3 1080,265.2 1078,269.3 1077.4,271 1075.1,272.1 1072,271.1 1069.3,273.2 1067.8,273.5 1064.3,275.5 1063.4,274.6 1059.8,273.3 1058,274.5 1055,275.7 1052.9,276.7 1050.2,277.6 1048.3,278.5 1046.1,277.8 1044.8,279.8 1041.3,281.4 1039.1,280.4 1038.2,278.9 1033.8,279 1033.3,277.5 1030.7,276.3 1029.3,275 1029,270.6 1025.7,268.3 1023.4,268.9 1020.9,271.4 1019,271.2 1016,269.9 1014.2,271.1 1013,272.4 1011.1,273.6 1008.6,273.4 1009.8,276.2 1009.4,273.6 1011,272.6 1009.6,270.3 1011.2,268 1010.7,264.5 1012.3,261.2 1009.3,259.8 1007.1,259.3 1005.8,255.3 1004.2,253.5 1005.1,257.4 1002.8,259.4 1001.2,261.4 998.2,260.9 997.1,263.1 992.3,265.1 990.1,263.5 989.1,261.8 986.3,261.8 984.5,257.5 982.6,258.9 978.5,260.9 976.6,258.3 974.8,256.1 974.5,254.3 970.7,253.5 967.5,254.9 967.7,255.9 964.3,255.2 959.9,255.2 957.6,254.9 956.6,255.2 954.6,258.3 952.6,258 951.6,259.7 948.4,258.8 947,261.5 944,263 942.8,263.8 940.8,264.9 938.9,264.7 936.4,266.1 934.9,267.9 931.9,269.7 931.2,268.8 928.2,268.5 926.2,270.3 923.7,272.7 922.5,273.1 922,276.3 918.1,276.6 915.7,274.5 913.8,276 910.5,276.1 909.7,275.8 906.3,275.8 904.6,273.8 902.8,269.6 899.5,271.6 897.1,272.8 894.4,276.2 893.7,272.4 891.8,269.3 889,270.4 886.5,271.8 885.2,271.4 883.5,272.4 880.6,271.7 876.7,270.6 874.5,271.7 872.5,274.1 870.8,273.4 868.7,274.5 866.4,275 864.5,273.8 862.4,275.2 858.8,273.2 860.7,278.2 860.5,280 863.2,280.8 864.2,283.7 865.1,285.9 867.4,287.8 869.5,284.8 871.5,281.9 873,280.3 873.9,280.3 877.4,278.2 879.7,277.3 881.4,277.7 883.8,278.3 885.5,278.4 887.8,281.1 888.7,282.6 890.1,283.5 891.3,285.8 895.4,286.4 894.4,288.7 894.2,291.9 895.8,294.3 899,295 899.4,297.6 896.2,299.2 897.1,302 895.8,304.6 898.9,306.6 898.8,309.8 900.3,307.8 903.9,306.8 905.4,307.8 908,307.5 908.8,305.8 912.2,306.3 914.1,304.2 915.9,304.8 918.4,305.3 921.1,305.5 921.6,302.6 926.2,303.6 926.6,304.7 928.7,304.3 931.8,302.5 934,304.2 936.4,304 938.1,304.4 941.4,304.2 942,304.2 945.2,302.9 946.3,303 948.4,303.4 951.9,303.9 954.8,306.4 955.4,307.1 958.4,308.4 959.8,305.8 962.7,306.4 965.9,306 967.1,308.5 970.4,308.9 972.1,308.2 972.7,308.4 975.1,310 980.1,307.8 980.9,309.3 982.8,311 985.1,313.3 987.5,311.4 988.3,312.1 991.5,312.4 994.3,312.4 996.7,314.5 997.9,317 1000.8,316.4 1003.2,317.8 1003.8,320.8 1006.4,319.1 1009.2,318.8 1012.2,319.8 1013.5,322 1017.2,324.9 1017.3,323.7 1020.7,321.2 1024.2,322.3 1025.2,322.6 1026.7,323.3 1028.9,321.1 1031.7,321.7 1034.8,323.3 1037.9,321.9 1039.7,321.5 1040.1,319.7 1043.1,318.4 1045.8,317.7 1047.8,315.1 1049,314.2 1047.2,310 1049.5,308.1 1050.4,307.2 1052.9,307.1 1056.4,308.1 1058.4,306.7 1059.6,307 1061.6,306.9 1063.2,304.2 1065.6,307.1 1069.5,307.4 1071.3,306.1 1074,304.2 1076.2,307 1078.9,306.3 1079.6,305.4 1082.7,305.1 1085.6,305.2 1086.5,304.9 1089.8,305.6 1091.6,304.5 1094.8,306.5 1096.3,304.9 1099.6,305.1 1101.3,304.3 1105.2,304.7 1106.2,303.1 1108.4,301.9 1111,300 1113.2,299.2 1115.4,302.4 1117.1,301.6 1120,299.2 1122.2,301.3 1124.6,300.7 1126.2,300.9 1128.3,301.3 1129.9,300.1 1131.9,300.1 1134.5,299.6 1137.3,301.2 1139.3,300.9 1140.7,300.1 1144.3,300.9 1145.9,301.9 1148.5,300.7 1151,302.1 1153.3,300 1154.6,302.2 1157.2,302.2 1159.4,302.8 1159.4,306 1163,305.6 1164.4,305.2 1168,307.5 1169.7,306.9 1171.9,308.8 1173.2,308.8 1174.8,310.7 1177.2,311.9 1181.6,312.5 1183.6,311 1185.3,312.4 1187.7,313.4 1188.9,313.6 1191.7,314.5 1193.7,318 1196.2,315.2 1200.1,314.4 1203.1,317.1 1203.4,318.2 1205.5,319.2 1206.9,318.7 1210.2,319.8 1212.6,321.4 1213.8,324 1217.4,321.2 1219.5,322.1 1220.3,325.3 1222.1,327.7 1224.5,329.1 1227.1,328.8 1229.6,329 1231.3,327.7 1233.2,330.1 1235.5,330.9 1237.2,332.6 1239.3,331.9 1241.7,334.5 1245.5,334.7 1246.7,335.2 1248.1,336.6 1251.7,335.6 1255.1,338.2 1256.3,335.3 1259.8,333 1262.6,333.6 1264.4,335.8 1267,335.7 1266.7,340.3 1265,340.1 1262.1,337.5 1259.8,337.4 1258,339" fill="none" stroke="#1a1a1a" stroke-width="4.0" stroke-linejoin="round" stroke-linecap="round"/><path d="M999.8,359.8 999,362.8 998,364.5 996.2,366 997.6,369.2 996,371.9 994.9,372.7 993.7,376.5 992.7,379.9 992.8,378 992.8,380.9 994.8,381.8 995.3,384 996.5,387.7 995.2,388.5 991.4,387.9 989,389.8 987.2,390 986.4,393.8 984.2,395 982.5,396.7 979.3,398.2 983,401.6 981.7,403.8 979,405.2 979,403 979.2,400.1 978.2,398.5 975.7,396.8 976.4,394.3 978.1,391 978.2,388 975.9,387 976.1,385.1 976.1,381.5 971.9,380 968.6,378.4 967.6,377.5 971,374.3 970.6,371.7 974.5,371.7 972.3,369.9 971,374.2 968,374.7 965,374.7 964,377.3 959.7,377.8 957.4,378.6 954.8,380.5 952,382.7 950.3,384.7 948.6,384.7 945.3,383.3 944.3,384.1 941.5,387 939.4,387.5 938.9,391.1 936.1,390.8 935.4,392.3 932.6,390.7 932,389 930.5,386.9 927.8,387.5 924.9,385.7 925.5,381.5 924.4,377.8 920.7,378.7 922.8,379.2 924.3,374.4 928.9,377.4 930.2,378 932.8,374 934.4,375.1 936.7,375.5 939.4,375.4 941.3,373.8 945.3,376.4 946.4,373.9 948.8,374.2 951.9,375.7 953.2,374.7 955.8,373.8 959.7,376.6 960.4,374.4 963.2,373.9 964.2,371.4 966.1,369.3 968.9,369.3 969.1,365.1 971.4,366.5 974.1,367.4 975.5,368.6 976.9,370 980,371.6 982.9,370.6 982.7,373.1 982.7,373.8 987.3,376 986.9,378.9 986.2,380.4 989.2,382.6 987.8,385.7 986.8,388.7 989.2,389.8 992.3,390 994.7,390.9 996.9,394.2 1000.3,392.4 1001.4,391.8 1005.8,390.5 1008.2,388.2 1008.7,391.3 1013.2,392.8 1015.6,390.4 1018.3,392.6 1019.4,394.3 1022.9,394.7 1024.9,396.5 1026.7,396.4 1031.1,395.4 1033.5,393.9 1035.2,395.7 1037.1,396.7 1038.5,394.5 1041.8,396 1043.9,395.3 1045.5,397.8 1047.7,398 1051.1,399.4 1050.9,400.4 1052.9,402.1 1055.6,401 1057.9,403 1059.6,404.2 1063.5,405.5 1066.3,403.6 1070.4,403.7 1068.9,399.5 1069.9,396.3 1071.2,395.2 1073,393.5 1072.4,389.7 1074.7,388.4 1078,389.2 1080.1,388.8 1083.1,387.6 1083.3,385.3 1083.8,381.1 1085.7,381.2 1089.7,380.5 1090.5,380.3 1093.9,381.4 1097,382.2 1098.9,381.6 1101.3,382.9 1102.1,379.2 1104.9,378.1 1106.7,380 1108.3,379.3 1110.1,375.3 1111.3,372.7 1114.4,372.8 1117.2,377.6 1119.5,373.7 1121.3,372.4 1125.1,371.8 1126.1,372.2 1129.2,375.2 1132.1,376.1 1133.7,379.6 1134.4,380.3 1136.3,382.5 1137.2,383.5 1141,386.7 1141,388.9 1141,392.3 1145.1,391.4 1147.4,391.5 1148.7,395.6 1153.2,392.3 1154.9,395.7 1155.9,398 1158.1,398.1 1160.5,399.8 1163.3,402 1164.2,399.2 1166.3,401.6 1168.1,402.1 1172,402.9 1172.7,406.9 1170.4,404.3 1166.7,409.6 1164.2,408.1 1161.9,408 1160,404" fill="none" stroke="#1818f8" stroke-width="4.0" stroke-linejoin="round" stroke-linecap="round"/><path d="M1359,212 L1358.7,212.9 L1357.8,213.8 L1356.4,214.5 L1354.5,215 L1352.3,215.4 L1350,215.5 L1347.7,215.4 L1345.5,215 L1343.6,214.5 L1342.2,213.8 L1341.3,212.9 L1341,212 L1341.3,211.1 L1342.2,210.2 L1343.6,209.5 L1345.5,209 L1347.7,208.6 L1350,208.5 L1352.3,208.6 L1354.5,209 L1356.4,209.5 L1357.8,210.2 L1358.7,211.1 Z" fill="#1ac4c4" fill-opacity="0.6" stroke="none"/><path d="M1350,212 1352.4,212.3 1354.7,212.9 1356.9,211.9 1355.8,214.1 1353.4,214.1 1355,212.3 1356.9,210.8 1356.1,213.1 1353.9,213.8 1351.6,214.6 1349.8,213.1 1350.4,210.8 1352.8,210.8 1355.1,211.3 1355.3,213.7 1353.1,214.5 1351.1,213.2 1348.7,213.6 1349.8,211.5 1348.7,209.4 1347.1,211.2 1344.8,211.8 1342.9,213.3 1344,211.2 1345.3,209.2 1346.4,211.3 1345.7,213.6 1343.9,212 1341.5,212.1 1343.8,212.8 1345,210.8 1347.3,211.4 1349.3,210.1 1349.4,212.5 1348.2,214.5 1350.5,215.4 1352.7,214.6 1355.1,214.2 1355.3,211.8 1357.7,211.6 1355.3,211.3 1354.5,209.1 1352.1,208.8 1352.5,211.1 1354.4,212.6 1352.1,213.4 1349.8,214 1348.1,212.3 1345.9,211.4 1344.7,213.5 1343.2,211.6 1345.6,212.1" fill="none" stroke="#1ac4c4" stroke-width="3.6" stroke-linejoin="round" stroke-linecap="round"/><path d="M803,119 L802.8,120.3 L802.3,121.5 L801.5,122.5 L800.5,123.3 L799.3,123.8 L798,124 L796.7,123.8 L795.5,123.3 L794.5,122.5 L793.7,121.5 L793.2,120.3 L793,119 L793.2,117.7 L793.7,116.5 L794.5,115.5 L795.5,114.7 L796.7,114.2 L798,114 L799.3,114.2 L800.5,114.7 L801.5,115.5 L802.3,116.5 L802.8,117.7 Z" fill="#1ac4c4" fill-opacity="0.6" stroke="none"/><path d="M798,119 797.8,121.4 798.9,123.5 800.3,121.6 801.1,119.3 802.3,117.3 801.8,119.6 799.8,121 801.6,119.4 801.4,121.8 799.3,122.8 796.9,122.5 794.5,122.4 794.2,120 795.4,117.9 795.9,115.6 796.9,117.7 799.2,118.6 799.8,120.9 801.6,119.3 801.3,116.9 800.3,114.7 800.6,117.1 799.1,119 797.4,120.7 795.8,122.4 793.6,121.3 796,121.4 797.7,123.2 796.8,121 794.6,119.9 795.2,117.6 797.6,117.5 800,118 799.8,115.6 797.7,116.8 797.1,119.1 799.2,120.3 800.5,118.3 798.2,117.5 796.1,118.6 794.1,117.2 795.1,115 796.4,117 797.2,119.3 798.7,121.2" fill="none" stroke="#1ac4c4" stroke-width="3.6" stroke-linejoin="round" stroke-linecap="round"/><path d="M1176,96 L1175.9,97 L1175.5,98 L1174.8,98.8 L1174,99.5 L1173,99.9 L1172,100 L1171,99.9 L1170,99.5 L1169.2,98.8 L1168.5,98 L1168.1,97 L1168,96 L1168.1,95 L1168.5,94 L1169.2,93.2 L1170,92.5 L1171,92.1 L1172,92 L1173,92.1 L1174,92.5 L1174.8,93.2 L1175.5,94 L1175.9,95 Z" fill="#1ac4c4" fill-opacity="0.6" stroke="none"/><path d="M1172,96 1173.4,98 1173.6,95.6 1174.9,97.6 1172.7,96.8 1171,95 1168.7,94.5 1171,95.1 1170.8,92.7 1172.2,94.7 1174.5,94.3 1172.1,94 1172.7,96.3 1174.5,97.9 1174.8,95.5 1172.9,97 1172.4,99.3 1170.1,98.8 1170,96.4 1169.9,94 1171.6,92.3 1173.1,94.1 1173.2,96.5 1173.8,98.8 1171.8,97.5 1171.1,95.2 1172,93 1172,95.4 1170.6,97.3 1173,97.6 1175.4,97.9 1174.8,95.5 1173.9,93.3 1171.6,93.7 1173.9,94.4 1172.6,96.4 1170.4,97.4" fill="none" stroke="#1ac4c4" stroke-width="3.6" stroke-linejoin="round" stroke-linecap="round"/><path d="M1266,336 L1265.7,337 L1264.8,338 L1263.4,338.8 L1261.5,339.5 L1259.3,339.9 L1257,340 L1254.7,339.9 L1252.5,339.5 L1250.6,338.8 L1249.2,338 L1248.3,337 L1248,336 L1248.3,335 L1249.2,334 L1250.6,333.2 L1252.5,332.5 L1254.7,332.1 L1257,332 L1259.3,332.1 L1261.5,332.5 L1263.4,333.2 L1264.8,334 L1265.7,335 Z" fill="#1a1a1a" fill-opacity="0.6" stroke="none"/><path d="M1257,336 1257.2,333.6 1259.1,332.1 1256.7,332.8 1254.7,333.9 1253.8,336.2 1253.8,338.6 1252.1,336.9 1249.7,336.9 1249.5,334.5 1251.1,336.3 1248.8,337.1 1250.6,335.4 1251.6,337.6 1253.9,338.2 1255.7,339.9 1257.5,338.3 1259.8,337.5 1261.5,335.9 1261,333.5 1259.2,335.1 1257.6,333.4 1258.3,335.7 1256,335.2 1254,333.8 1256.1,332.6 1256.3,335 1257.3,337.1 1258.9,339 1261.3,338.7 1263.6,338.3 1265.1,336.3 1263.4,338.1 1261.2,339.1 1262,336.8 1260.6,334.9 1258.3,334.2 1256,334.9 1255.9,332.5 1257.8,334 1259.2,335.9 1256.9,336.6 1258.1,338.7 1255.8,339.5 1255.8,337.1 1258.2,336.8 1259,339 1260.2,336.9 1258.7,335.1 1256.5,333.9 1254.1,333.7 1256.5,334.3 1258.7,333.4 1258.6,335.8 1256.8,337.4 1257.7,339.6 1260,339.1 1257.9,338" fill="none" stroke="#1a1a1a" stroke-width="3.6" stroke-linejoin="round" stroke-linecap="round"/><path d="M870,277 L869.8,278.6 L869.3,280 L868.5,281.2 L867.5,282.2 L866.3,282.8 L865,283 L863.7,282.8 L862.5,282.2 L861.5,281.2 L860.7,280 L860.2,278.6 L860,277 L860.2,275.4 L860.7,274 L861.5,272.8 L862.5,271.8 L863.7,271.2 L865,271 L866.3,271.2 L867.5,271.8 L868.5,272.8 L869.3,274 L869.8,275.4 Z" fill="#1a1a1a" fill-opacity="0.6" stroke="none"/><path d="M865,277 863.2,278.5 862.8,280.9 864.3,279 865.8,277.2 866.8,275 866.3,272.7 864.1,271.7 866.4,272.4 864,272 861.7,272.6 863.7,273.9 865.7,275.3 867.3,277 868.2,279.3 866,280.3 866.1,282.7 864.1,281.4 862.8,279.4 860.8,278.1 860.5,275.7 862.8,276 863.2,278.4 862.5,280.7 861.9,278.4 861.6,276 863,278 865.1,279 865.7,281.3 865.7,278.9 865.3,276.6 866,274.2 868.1,275.4 866.1,276.8 865.7,279.2 863.8,280.6 862.7,278.5 862.2,276.2 862.2,273.8 864.4,272.8 866.8,272.8 868.8,274.2 868.5,276.5 867.1,278.5 869.4,279.2 867.5,280.7 865.7,282.3 863.3,282 865.7,281.9 867.9,281 865.5,281.2 864.7,278.9" fill="none" stroke="#1a1a1a" stroke-width="3.6" stroke-linejoin="round" stroke-linecap="round"/><path d="M1085,266 L1084.8,267 L1084.3,268 L1083.5,268.8 L1082.5,269.5 L1081.3,269.9 L1080,270 L1078.7,269.9 L1077.5,269.5 L1076.5,268.8 L1075.7,268 L1075.2,267 L1075,266 L1075.2,265 L1075.7,264 L1076.5,263.2 L1077.5,262.5 L1078.7,262.1 L1080,262 L1081.3,262.1 L1082.5,262.5 L1083.5,263.2 L1084.3,264 L1084.8,265 Z" fill="#1a1a1a" fill-opacity="0.6" stroke="none"/><path d="M1080,266 1081.1,268.2 1083.3,267.2 1082.2,269.4 1079.9,268.7 1077.5,269.1 1075.9,267.4 1078.2,266.8 1080.4,267.9 1082.3,269.4 1079.9,269.2 1080.5,266.8 1081.8,264.8 1079.4,264.4 1077.4,263.1 1077.2,265.5 1075.9,267.5 1078.2,268.4 1080.3,269.6 1078,268.7 1075.7,268 1076.2,265.6 1077.1,263.4 1078.9,265 1079.8,267.2 1081.9,268.5 1083,266.4 1083.9,264.2 1084.6,266.4 1083.3,268.5 1081.9,266.6 1080.4,264.6 1078.1,264 1076.5,265.8 1077.6,263.7 1079.7,262.5 1077.3,262.8 1077.1,265.2 1075.6,267.1 1076.3,264.8 1077.6,262.8" fill="none" stroke="#1a1a1a" stroke-width="3.6" stroke-linejoin="round" stroke-linecap="round"/><path d="M993,383 L992.7,385.6 L991.9,388 L990.7,390.1 L989,391.7 L987.1,392.7 L985,393 L982.9,392.7 L981,391.7 L979.3,390.1 L978.1,388 L977.3,385.6 L977,383 L977.3,380.4 L978.1,378 L979.3,375.9 L981,374.3 L982.9,373.3 L985,373 L987.1,373.3 L989,374.3 L990.7,375.9 L991.9,378 L992.7,380.4 Z" fill="#1818f8" fill-opacity="0.6" stroke="none"/><path d="M985,383 987.4,383.3 988.2,381 990.5,381.8 992.9,381.9 992.7,384.3 991.7,386.5 990.5,388.6 990.9,386.2 988.7,385.2 988.3,387.6 986.9,385.6 984.8,384.4 982.7,383.4 980.3,383.2 977.9,383 977.3,385.3 978.3,387.4 980.3,386.1 982.5,385.1 984.9,385.1 987.2,384.6 988.3,386.7 988.3,389.1 986.7,390.9 985.4,388.9 983.1,388.2 984.5,386.3 985.4,384.1 984.9,381.7 985.8,379.5 984.1,377.8 983.3,375.6 984.9,373.8 982.5,373.8 984.8,374.6 986.9,375.8 989.3,375.6 987.9,377.6 985.8,378.8 983.9,380.2 981.7,381.3 980.3,383.2 978.1,384.2 980.4,384.8 982.1,386.5 984,388 986.3,387.3 987.8,385.5 990.2,386.1 991.3,388.2 989.8,390 989.4,387.7 988.3,385.5 990.3,384.1 992.7,384.6 990.4,383.8 988.1,384.4 986.7,382.5 987.3,380.2 988.6,378.1 990.8,379.2 990.8,376.8 991.6,379 991.3,381.4 992.7,383.4 992.6,385.8 990.2,385.3 987.8,384.9 986.2,386.7 983.8,386.3 981.6,385.5 981,383.2 981.8,381 981.2,378.6 978.8,378.6 977.4,380.6 977.7,382.9 978.3,385.3 980.6,384.5 983,384.1 985.4,384.2 987.8,384.2 990.1,384 992.5,383.5 990.4,382.4 988,382.5 986.2,380.9 985.6,378.6 987.9,377.9 987.6,375.5 986,373.7 988.3,374.3 988.5,376.7 987.5,378.9 985.1,379.1 984.2,376.9 984.6,374.5 983.4,376.6 982.2,378.7 983.2,380.9 984,383.1 982,384.6" fill="none" stroke="#1818f8" stroke-width="3.6" stroke-linejoin="round" stroke-linecap="round"/><path d="M1171,402 L1170.8,403 L1170.2,404 L1169.2,404.8 L1168,405.5 L1166.6,405.9 L1165,406 L1163.4,405.9 L1162,405.5 L1160.8,404.8 L1159.8,404 L1159.2,403 L1159,402 L1159.2,401 L1159.8,400 L1160.8,399.2 L1162,398.5 L1163.4,398.1 L1165,398 L1166.6,398.1 L1168,398.5 L1169.2,399.2 L1170.2,400 L1170.8,401 Z" fill="#1818f8" fill-opacity="0.6" stroke="none"/><path d="M1165,402 1167.4,402.1 1169.8,402.5 1169.1,400.2 1168.7,402.5 1168.3,400.2 1166.5,401.8 1164.6,400.4 1166.9,400 1169.3,399.9 1170.5,402 1169.5,404.2 1167.2,404.9 1166.6,402.5 1168,400.6 1168.5,403 1168.2,405.3 1165.8,405.3 1168.2,405.2 1167.8,402.9 1169.1,400.8 1167.4,399.1 1165,399 1162.6,398.6 1164.9,399.3 1167,400.5 1168.8,402.1 1169.8,404.3 1168.7,402.2 1166.6,401 1166.5,398.6 1164.2,399.1 1162.6,400.9 1160.2,400.7 1162.3,399.6 1161.1,401.7 1162.7,403.6 1162.8,401.2 1161.4,399.2 1159.8,401 1161.9,402.1 1160.2,403.8 1159.3,401.5 1161,399.8 1159.8,401.9" fill="none" stroke="#1818f8" stroke-width="3.6" stroke-linejoin="round" stroke-linecap="round"/><line x1="1028.3" y1="31" x2="1028.3" y2="441" stroke="#000" stroke-width="2" stroke-dasharray="6,5.8"/><line x1="1518.4" y1="31" x2="1518.4" y2="191" stroke="#000" stroke-width="2" stroke-dasharray="6,5.8"/><line x1="1322.3" y1="226" x2="1322.3" y2="352" stroke="#000" stroke-width="2" stroke-dasharray="6,5.8"/><line x1="1120.4" y1="340" x2="1120.4" y2="441" stroke="#000" stroke-width="2" stroke-dasharray="6,5.8"/><line x1="1040.2" y1="55.3" x2="1506.8" y2="55.3" stroke="#64affd" stroke-width="3.5"/><path d="M1518,55.3 L1502,62.1 L1505.2,55.3 L1502,48.5 Z" fill="#64affd"/><path d="M1029,55.3 L1045,62.1 L1041.8,55.3 L1045,48.5 Z" fill="#64affd"/><line x1="1040.2" y1="234.4" x2="1310.3" y2="234.4" stroke="#64affd" stroke-width="3.5"/><path d="M1321.5,234.4 L1305.5,241.2 L1308.7,234.4 L1305.5,227.6 Z" fill="#64affd"/><path d="M1029,234.4 L1045,241.2 L1041.8,234.4 L1045,227.6 Z" fill="#64affd"/><line x1="1040.2" y1="351.7" x2="1108.3" y2="351.7" stroke="#64affd" stroke-width="3.5"/><path d="M1119.5,351.7 L1103.5,358.5 L1106.7,351.7 L1103.5,344.9 Z" fill="#64affd"/><path d="M1029,351.7 L1045,358.5 L1041.8,351.7 L1045,344.9 Z" fill="#64affd"/><circle cx="1195.4" cy="68.5" r="5.5" fill="#ff0000"/><circle cx="1354.3" cy="211.5" r="5.5" fill="#ff0000"/><circle cx="1096" cy="243" r="5.5" fill="#ff0000"/><circle cx="1254" cy="335.8" r="5.5" fill="#ff0000"/><circle cx="999.8" cy="359.8" r="5.5" fill="#ff0000"/><circle cx="1156.2" cy="398.9" r="5.5" fill="#ff0000"/><circle cx="1027.6" cy="143.3" r="2.2" fill="#222"/><circle cx="1027.5" cy="293.7" r="2.2" fill="#222"/><circle cx="1027.5" cy="388.5" r="2.2" fill="#222"/><line x1="1027.6" y1="143.3" x2="1184.4" y2="73.8" stroke="#747474" stroke-width="3.9"/><path d="M1194,69.5 L1182.9,81.5 L1183,74.4 L1177.7,69.6 Z" fill="#747474"/><line x1="1027.6" y1="143.3" x2="1341.7" y2="208.4" stroke="#747474" stroke-width="3.9"/><path d="M1352,210.5 L1336,213.8 L1340.2,208.1 L1338.6,201.1 Z" fill="#747474"/><line x1="1195.4" y1="69" x2="1507.3" y2="140.5" stroke="#747474" stroke-width="3.9"/><path d="M1517.5,142.8 L1501.4,145.8 L1505.8,140.1 L1504.3,133.1 Z" fill="#747474"/><line x1="1354.3" y1="211" x2="1507.8" y2="147.8" stroke="#747474" stroke-width="3.9"/><path d="M1517.5,143.8 L1506.1,155.5 L1506.4,148.4 L1501.2,143.5 Z" fill="#747474"/><line x1="1027.6" y1="143.3" x2="1506.1" y2="143.3" stroke="#000" stroke-width="4.1"/><path d="M1518,143.3 L1501,150.3 L1504.4,143.3 L1501,136.3 Z" fill="#000"/><line x1="1027.5" y1="293.7" x2="1086.6" y2="249.8" stroke="#747474" stroke-width="3.9"/><path d="M1095,243.5 L1086.8,257.7 L1085.4,250.7 L1079.1,247.2 Z" fill="#747474"/><line x1="1027.5" y1="293.7" x2="1241.7" y2="333.1" stroke="#747474" stroke-width="3.9"/><path d="M1252,335 L1236.1,338.7 L1240.2,332.8 L1238.4,325.9 Z" fill="#747474"/><line x1="1096" y1="242.6" x2="1311.7" y2="279.9" stroke="#747474" stroke-width="3.9"/><path d="M1322,281.7 L1306.1,285.5 L1310.2,279.7 L1308.3,272.7 Z" fill="#747474"/><line x1="1254" y1="335.4" x2="1313.8" y2="288.2" stroke="#747474" stroke-width="3.9"/><path d="M1322,281.7 L1314.3,296.1 L1312.6,289.1 L1306.2,285.9 Z" fill="#747474"/><line x1="1027.5" y1="293.7" x2="1310.4" y2="282.2" stroke="#000" stroke-width="4.1"/><path d="M1322.3,281.7 L1305.6,289.4 L1308.7,282.3 L1305,275.4 Z" fill="#000"/><line x1="1027.5" y1="388.5" x2="1006.8" y2="367.1" stroke="#747474" stroke-width="3.2"/><path d="M1000.5,360.5 L1013.7,365.9 L1007.7,368 L1005.4,373.8 Z" fill="#747474"/><line x1="1027.5" y1="388.5" x2="1146" y2="404.2" stroke="#747474" stroke-width="3.2"/><path d="M1155,405.4 L1141.4,409.4 L1144.7,404 L1142.9,398 Z" fill="#747474"/><line x1="999.8" y1="359.8" x2="1117.9" y2="374.9" stroke="#747474" stroke-width="3.2"/><path d="M1126.9,376.1 L1113.3,380.1 L1116.6,374.8 L1114.7,368.7 Z" fill="#747474"/><line x1="1156.2" y1="398.9" x2="1134.1" y2="381.7" stroke="#747474" stroke-width="3.2"/><path d="M1126.9,376.1 L1140.7,379.5 L1135.1,382.5 L1133.6,388.6 Z" fill="#747474"/><line x1="1027.5" y1="388.5" x2="1116.5" y2="377.4" stroke="#000" stroke-width="3.8"/><path d="M1126.9,376.1 L1112.8,384.4 L1115,377.6 L1111.2,371.5 Z" fill="#000"/><line x1="1525.5" y1="147" x2="1525.5" y2="393.8" stroke="#000" stroke-width="3"/><path d="M1525.5,405 L1518.8,389 L1525.5,391.4 L1532.2,389 Z" fill="#000"/><rect x="559.8" y="312.2" width="39.7" height="39.4" fill="#00cccc"/><rect x="559.8" y="355.9" width="39.7" height="39" fill="#000"/><rect x="559.8" y="399.2" width="39.7" height="39.5" fill="#0000ff"/><rect x="607.6" y="323" width="129" height="27.9" fill="#f6f7f9"/><rect x="607.6" y="367.4" width="25.6" height="27.2" fill="#f6f7f9"/><rect x="607.6" y="410.4" width="129" height="27.9" fill="#f6f7f9"/><path d="M71,1133 73.2,1133.4 75.8,1135 77.4,1134.5 79.7,1133.4 81.7,1131.4 83.9,1131.3 85.2,1130.8 86.2,1130.9 88.5,1128.7 86.5,1126 87.1,1124.1 87,1121.1 88.9,1120.2 91.9,1121 94.1,1121.4 96.3,1121.4 98.6,1121.9 100,1121.4 103.6,1121 105.4,1120.3 107.5,1120 110.4,1120.3 113.3,1120.9 115.6,1121.2 117.8,1120.4 119.7,1122 122,1122.9 125.4,1123.5 126.5,1122.9 129.3,1123.7 130.7,1124.3 133.5,1124.5 136,1123.9 137.7,1122.1 140.8,1122.1 143.1,1119.3 145.9,1121.5 147,1120.1 150.7,1118.1 152,1118.2 154.6,1118.7 156.5,1118 158.1,1115.8 160.5,1114.9 163.1,1114.4 165.7,1113.5 168.1,1113.8 169.7,1112.6 172.2,1114.4 173.9,1110.8 176,1110.7 178.8,1112.4 181,1109.9 183.4,1109.9 184.7,1110.4 186.8,1106.7 189.7,1105.9 191.7,1105 194.3,1105.9 196.3,1109.3 198.5,1106.9 200.9,1107.4 203.6,1106.6 205.6,1107.7 208.2,1108.9 210.3,1107 212.2,1109.5 214.5,1109.1 217.1,1108.9 219.1,1108.1 221.9,1108.7 223.7,1108.2 226.8,1107.9 228.8,1108.3 230.8,1106.9 233.1,1108.4 234.4,1108.2 238.3,1107.1 240.1,1106.8 241.9,1107.8 244,1105.5 246.6,1105.4 249.2,1105.9 251,1105 253.3,1106 256,1105.9 257.8,1106.9 260.7,1105.9 262.2,1105.5 265.2,1104.9 266.3,1104.7 268.4,1105 271.1,1104.6 273.4,1104.8 275.9,1105.7 277.7,1105.5 280.4,1105.9 283.9,1105.4 284.9,1105.5 287.4,1105.4 289.3,1106.5 290.7,1105.4 294,1107.3 296.5,1107.6 298.1,1105.7 301.7,1105.8 302.9,1105.9 305.6,1105.5 307.3,1105.6 309,1107.3 312.2,1106.3 314.7,1105.7 316.8,1104 318.7,1104.6 320.6,1107.6 323.3,1107.4 324.7,1108.5 328.1,1108.3 329.9,1106.9 331.9,1109 334.6,1108.1 336.6,1108 339,1107.8 341.8,1107.8 343.2,1107.5 344.7,1108.1 347,1107.7 349.8,1108.3 352.3,1109.5 355.3,1108.4 355.8,1107.4 359.5,1106.6 360.8,1108.9 363.6,1109.3 365.6,1109.1 367.9,1108 369.4,1108.5 372.5,1109.8 374.8,1107.8 377.1,1107.4 379.1,1108.6 382.1,1108.6 383.7,1107.4 385.7,1108.1 388.9,1106.9 390.6,1107.9 393.2,1108.7 394.7,1108.4 396.5,1110.8 400,1107.5 401.6,1106.1 404.2,1104.8 406.3,1108 408.7,1106.5 410.6,1107.9 412.9,1106.5 414.8,1107.6 417.5,1106.6 419.9,1107.1 421.4,1105.5 423.9,1104.5 426.1,1106.3 429,1106.1 430,1105.5 431.9,1104.6 434.4,1105 437.5,1104.1 439.5,1105.3 441.3,1107 443.9,1106.2 445.7,1106.1 447.3,1103.3 450.5,1106.2 452.2,1104.4 455.8,1105.7 457.3,1105.8 459.3,1105.2 461.8,1106.1 464,1105.4 466.4,1105.5 468.1,1104.3 471.1,1103.3 473.2,1103.7 474.9,1103.9 477.2,1104.7 479,1104 482.1,1104.5 482.7,1103.4 486.2,1103 488.1,1104.6 490.6,1104.8 494,1103.3 494.2,1104 496.8,1105.8 499.8,1103.7 502.2,1103.3 503.4,1101 505.2,1102 507.9,1103.6 510.7,1103 511.7,1102 513.8,1103.1 517.1,1101.5 519.7,1101.7 521.7,1101.4 524.2,1101.1 526,1103 528.4,1104 530,1104.5 533.1,1104.7 535.1,1104.6 537.1,1103.6 539.3,1104.6 540.7,1103.9 543.4,1104.1 545.8,1104.4 548.5,1103.8 550.1,1103 552.5,1103.8 555,1104.7 556.9,1104.4 558.8,1104 561.8,1102.5 563.3,1102.2 565.8,1103.4 568.2,1103 570.8,1103.5 573.1,1102.6 575.7,1101.4 576.9,1101.1 577.6,1100.3 579.1,1100.5 579.4,1097.6 581.4,1094.3 581.7,1091.1 579.3,1090 576.9,1089.3 575.7,1088.8 572.9,1087.7 570.6,1087.1 568.5,1087.9 565.6,1086.9 564.9,1085.5 562.2,1084.3 561.3,1081.9 558.9,1081.2 556.5,1083.3 553.9,1082.1 551.5,1082.8 549.4,1083.2 547.4,1084.2 545,1084.2 542.5,1084.8 539.3,1085.7 537.3,1084.4 533.7,1085.2 532.1,1087.3 529.9,1085.9 528.2,1086.8 526.3,1086.6 523.1,1084.3 521.2,1087 518.3,1087.3 516.3,1087.6 513.4,1087.8 512.4,1089.5 508.8,1091.3 508.8,1094 507.2,1095.2 510.1,1094.9 512,1095.9 513.9,1096.9 517,1095.7" fill="none" stroke="#8c8c8c" stroke-width="4.2" stroke-linejoin="round" stroke-linecap="round"/><path d="M401.9,1139.3 399.6,1138.5 397.9,1137.7 396.1,1137.8 393.6,1135.8 392.2,1134.6 390.1,1133.5 388.1,1131.5 389.9,1130.9 391.9,1131.4 394.4,1133 397,1134.2 399.3,1135.2 401.3,1135 402.6,1136 404.7,1136 407.4,1137.5 410.3,1138 411.6,1138.6 413.7,1138.5 417.2,1137.5 419.3,1137.1 421.4,1138.1 424.3,1137.5 426.3,1137.7 427.5,1139 430.5,1138 432.2,1139.3 434.3,1139.3 437.5,1138.4 438.8,1138.9 442,1135.9 439.9,1137.7 437.5,1139.1 435.8,1139.6 434.1,1142.3 431.6,1143.2 431.1,1142.8 427.4,1144.7 424.8,1142.7 422.9,1143.9 421.8,1146.3 420.5,1146.7 416.6,1145.9 415.1,1146.3 413.7,1146.2 410.7,1144.9 408,1145.6 405.8,1146.7 402.6,1146.6 401.7,1146.4 398.4,1147.5 397.4,1146.6 394.3,1146.3 392,1145.4 389.8,1147.2 390.2,1149.4 389,1151.5 387.7,1152.9 385.1,1153.7 383.3,1153.1 380.2,1152.9 378,1154 375.4,1154.1 373.6,1153 370.4,1155 369.2,1155.9 366.8,1157.2 364.4,1156.4 362,1155.6 359,1155.6 356.8,1156.4 355.3,1155 352.4,1155.5 349.4,1156.5 348.2,1157.3 346.2,1160 344,1158.8 341,1159.2 339.5,1159.4 337,1158.7 335.2,1160.1 333.9,1159.9 330.5,1161.2 328.1,1163 326.5,1163.8 325.8,1166.6 325.6,1168.5 323.4,1170.5 323.4,1171.5 320.8,1170.9 318.7,1172.9 316.4,1172.5 314.6,1172.3 312.1,1171.2 310.3,1172.2 307.4,1171.5 304.7,1171.2 303.3,1171.7 300.2,1172.2 297.6,1171.4 295.8,1167.7 294.2,1167.3 291.9,1169.1 289.2,1167.5 287.3,1164.8 285.2,1166.4 282.4,1166.3 281.3,1163.1 277.9,1165.8 277,1166.6 273.9,1165.6 272.2,1165.9 269.9,1166.3 266.6,1166 263.3,1167.3 262.4,1166.6 260.4,1164.4 258.2,1166.6 256.5,1163.7 253.7,1166.4 251.2,1165.3 249.1,1166.2 246.9,1165.5 244.5,1165.5 242,1164.2 240,1163.6 237.5,1162.9 235.7,1163.8 232.9,1164.7 229.9,1163.4 229,1163.6 227.3,1163.6 224.5,1162.7 221.7,1162.4 219.5,1164 217.1,1165.2 215.5,1164.7 212.5,1165.2 210.4,1164.6 207.4,1166.4 205.5,1168.2 203,1168.9 200.3,1168.2 198.8,1168.8 197.7,1171 194.7,1170.8 193,1171.2 190.3,1173.1 187.5,1171.3 185.3,1171.8 184,1171.9 181.4,1171.9 178.5,1174.7 176.8,1173.5 175.4,1177.1 173.2,1177.2 171.3,1178.7 168.4,1177.9 166.4,1179.3 164.8,1179.3 161.9,1180.4 158.9,1180.3 157.5,1179.6 155.6,1179.9 152.1,1180.4 150.2,1179.1 147.7,1179.6 146.1,1179.2 144,1179.2 140.3,1179.2 139.4,1181.6 140.3,1183.5 137.9,1186.2 137.3,1188.8 139.2,1188.8 142.2,1190.5 143.3,1192 144.7,1194.1 146.6,1196.7 148.4,1197.3 148.8,1198.5 152.3,1199.2 154.7,1198.5 157.3,1198.6 159,1198.2 161.6,1198.3 163.3,1196.4 165.4,1195 168.8,1196.7" fill="none" stroke="#8c8c8c" stroke-width="4.2" stroke-linejoin="round" stroke-linecap="round"/><path d="M462.4,1189.8 460.8,1189.1 457.2,1190.9 455.3,1190.9 453.5,1192.4 451.2,1192.1 448.8,1192.8 446.1,1193.3 443.8,1194.2 442.4,1194.6 439.2,1194.9 437.6,1196.8 435,1197.1 432.8,1195.9 430.2,1196.8 427.8,1196.2 426.3,1198.4 424.3,1198.9 422.2,1199.7 419.6,1200.6 416.9,1200.9 414.3,1202 413,1202.1 410.9,1205.1 409,1206.1 406.6,1205.1 404.4,1207.5 402.2,1207 398.7,1206 397.6,1205.9 394.8,1206.4 393.2,1206.5 390.6,1206.9 387.5,1208.2 386.1,1208.9 384.3,1210.4 382,1210.7 379.5,1209.6 378.5,1212 375.4,1210.5 373.6,1210.7 371.6,1213.1 368.4,1211.3 365.9,1212.3 364.3,1212 362.8,1214.8 360.1,1215 357.7,1215.4 355.7,1217.3 353.5,1217.7 351.8,1217 349.5,1216.2 348,1217.1 345,1216.9 342.9,1218 340,1216.9 339.1,1216.6 337.1,1215.7 334.3,1215.5 330.9,1218.3 328.4,1216.8 327.7,1214.9 325.5,1215.1 323.4,1213.8 321.3,1212.4 318.9,1212.7 316.6,1211.3 315.3,1212.4 312.3,1212.2 310,1210.9 308.3,1210.7 306.3,1211.4 303.5,1210.1 302,1210.5 299.5,1209.1 297,1210.2 294.9,1209.6 293.2,1209.9 290.7,1208.1 289,1207.3 286.5,1208.6 284.1,1209.8 282.7,1209 279.8,1209.9 278.4,1209.4 276.1,1207.8 273.3,1208 271,1208.6 267.8,1208.3 267.4,1207.1 264.4,1208.3 261.7,1211.3 259.5,1210 258.5,1210.4 255.6,1209.2 252.6,1210.8 251.7,1209.9 248.9,1209.3 247,1210.4 245,1209.7 241.3,1209.5 239.9,1209.5 237.5,1211.3 236.4,1211 232.5,1211.8 230.7,1214.2 229.7,1213.2 227.5,1213.8 225.4,1212.9 222.4,1214.4 220,1214.2 217.9,1214 215.1,1215 213.9,1215.2 212.8,1217.8 209.5,1217.9 207.8,1219 206.5,1218.9 203.9,1221.4 202.5,1223.3 202.7,1226 199.2,1228 199.1,1229.1 196.8,1229.7 194.2,1230.1 191.9,1229.8 189.8,1231.8 188.1,1234.4 186.8,1234.4 183.8,1235.6 181.2,1237.2 180.2,1236.5 178.6,1238.2 175.5,1239.5 174.4,1239.7 170.6,1240.2 169.4,1241.6 167.7,1244.5 169.4,1247.6 169.6,1249 168.7,1250.9 167.9,1253 169.1,1255.4 167.6,1257.3 165.6,1260.2 164.4,1261.5 166.8,1264.2 166.1,1265.7 167.5,1265.2 169.8,1265.4 172.2,1266.4 175.1,1267.1 177.4,1267 179.4,1268.2 181.2,1268.4 183.4,1269.4 186.5,1270.2 188.7,1268.7 191.3,1269.6 193.6,1271 195.8,1270 198.4,1271.4 200,1270.4 203.3,1271.6 204.3,1271.7 208.3,1270.9 210.1,1270.3 212.2,1272.4 214.2,1273 217.6,1273.2 218.7,1273.6 222,1273.9 223.4,1274.9 226.4,1274.9 229,1274.2 231,1272.8 233.6,1273.2 235.9,1271.6 237.4,1272.2 239.1,1272.7 240.5,1271.4 242.2,1271 244.9,1268.2 244.3,1265.6 242.9,1263.3 244.7,1261.1 243,1258.4 244.9,1258.7 247,1257.3 248.8,1255.9 251.1,1256.1 253.2,1256.9 255,1255.4 258,1255 260,1253.7 261.6,1252.9 263.3,1251 266.6,1250.3 269.2,1251.6 270.6,1249.1 274.2,1249.3 276.4,1249.6 278.4,1247.9 280.2,1246.6 282.9,1246 285.6,1244.8 287.9,1245 289.8,1246.6 292.8,1246.4" fill="none" stroke="#8c8c8c" stroke-width="4.2" stroke-linejoin="round" stroke-linecap="round"/><path d="M216,1303.7 219,1304.8 220.8,1305.3 223.3,1305 225.7,1304.6 227.5,1302.5 229.7,1305.2 233.3,1305.4 235.6,1304.3 236.5,1305.9 240.5,1306.1 242.1,1305.1 244.5,1303.9 246.1,1303.9 249.1,1302.8 251.1,1302.1 253.9,1302.2 254.9,1302.5 257.8,1302.9 259.3,1304 262.5,1303.2 265.2,1303.9 265.7,1303.8 269.1,1303.7 271.7,1305.6 274.2,1306.7 276.8,1306.4 278.8,1305.6 281.5,1306.1 283.6,1306.9 286.9,1309.5 289.2,1308.6 290.9,1306.2 294.2,1306.6 295.3,1304.3 298.7,1303.5 299.8,1304.8 302.6,1304.5 304.5,1304.7 307.7,1303.4 310,1304 312.1,1304.9 312.8,1306.4 313.8,1309.5 315.9,1310.1 316.2,1312.7 313.7,1315.2 312,1317.3 312.3,1320 310.9,1322.4 311.4,1325 311.4,1327.3 312.6,1332.6 313.9,1332.8 316.2,1331.9 318,1333.2 321.7,1332 323.9,1332.7 326,1331.1 329.9,1331 331.9,1330 331.8,1328.2 335.7,1327.3 338.4,1327.2 339,1326.1 339.9,1322.9 343.5,1322.8 345.2,1322 347.9,1322.4 351.5,1321.2 352.4,1323.4 355.5,1323.4 358.4,1323.4 355.8,1325.4 354.2,1327.2 353.6,1329.9 353,1332.4 350.3,1332.7 349.2,1333.6 346.1,1334.2 344.9,1335.7 342.8,1336.7 340.5,1336.5 337.9,1337.1 334.1,1336.3 332.6,1338.8 330.9,1337.9 326.9,1339.9 325.4,1335.7 322.1,1334.2 320,1333.7 318.7,1336.2 316.8,1339.2 314.2,1340.9 311.6,1342.5 310.1,1342.1 308.3,1344.5 305.8,1344.6 304.3,1344.3 301.7,1344.4 299.1,1346 296.8,1345 293.8,1346.3 291.2,1346.5 288.9,1345.7 286.3,1347.6 283.6,1347.6 282.1,1345.9 277.7,1346.1 277.1,1343.9 273.4,1343.4 271.9,1347.7 269.3,1349.5 267.2,1349.5 265.4,1351.5 264.2,1351.7 260.5,1350.7 259.4,1352.4 256.9,1352.9 254.4,1353.4 253.2,1354.6 253.6,1357.4 255,1358.8 257,1360.9 258.6,1361.8 261.5,1360.2 264.3,1361 267.8,1362.3 269.4,1362.6 269.8,1366.6 271.6,1367.5 272.9,1368.7 274,1372.1 277.2,1373.2 278.4,1375.9 280,1376.9 283,1376.9 285,1377.4 285.9,1380.5 288.5,1381.8 289.5,1381.2 291.2,1380 291.6,1378.4 294.6,1376 295.7,1374.3 297.3,1372.6 299.7,1372.5 301.7,1369.6 301.7,1366.8 303.9,1364.9" fill="none" stroke="#8c8c8c" stroke-width="4.2" stroke-linejoin="round" stroke-linecap="round"/><path d="M216,1393.8 218.1,1392.3 220.9,1392.7 224.4,1391.3 226.9,1392.3 227.7,1392.7 229.9,1391.6 232.5,1391.6 235.2,1392.3 237.7,1390.3 239.9,1391.1 241.8,1392 245,1391.4 246.5,1394.3 248.3,1394.4 251.4,1394.3 253.9,1393.7 255.8,1395.1 258.3,1394.3 259.9,1393.5 262.1,1393.5 264.8,1394.3 266.9,1394.3 269.9,1395.3 271.4,1395.3 274.1,1396.1 275.6,1398.1 277.8,1397.5 279.7,1397.5 283.3,1397.9 283.8,1398.7 287.6,1399.1 289.2,1400.9 290.9,1403 292.9,1405.1 295.4,1405.4 296.1,1407.1 298.5,1407.6 300.9,1407.7 303.9,1407.5 306.2,1408.8 307.5,1410.3 310.5,1410 312.5,1410.3 314,1409.4 316.5,1410.3 319.2,1408.8 321.5,1410.3 324,1408.6 326.5,1410 328.6,1408.5 330.6,1409.1 331.9,1410.9 333.9,1411.9 336.6,1413.2 339,1412.1 339.6,1415 343,1415.1 343.1,1417.1 344.7,1418.2 347.8,1419.8 349.2,1420.8 350.6,1421.1 352.9,1423.9 355.9,1425 357.4,1424.3 359.7,1426.6 360.4,1428.5 363.5,1428.2 363.4,1431.2 362.7,1433.8 360.7,1435.4 360.9,1437.2 359.8,1441 357.8,1441.5 354.7,1440.3 352.8,1441.9 350.8,1442.1 349.1,1442.1 346.5,1442.5 344.4,1444.4 341.9,1445.2 340.7,1445.7 337.5,1444.5 336.4,1445.4 333.9,1446.4 331.9,1445.1 328.6,1446.2 326.7,1445.9 325.1,1447 322.9,1447.9 320.9,1449.4 318.2,1449.5 315.9,1448.9 313.6,1449.3 311.6,1449.1 309.2,1450.1 308.1,1449.7 305,1448.9 303.3,1450.6 300.4,1450.1 298.2,1451.3 295.6,1453.6 293.5,1453.2 291.8,1454.9 290,1455.8 287,1454 284.4,1456.1 282.6,1456.6 280.5,1458.5 278.4,1458.5 276.2,1459 274.1,1458.9 271.3,1460.8 269.4,1459 267.6,1457.8 264.6,1459.7 263.6,1458.8 261.3,1460.8 259.2,1460.2 260.2,1461.9 260.8,1464.2 262.6,1467.1 263.6,1469.8 265.1,1471.3 265.8,1472.3 267.6,1474.2 268.1,1477.1 269.6,1479.1 268.2,1481.3 268.4,1483.7 270.4,1484.9 271,1487.8 273.4,1488.9 274.9,1490.5 272.6,1489.1 269.8,1488.9 267.5,1489.4 266,1487.4 265.8,1485 261.9,1485.1 260.4,1483.6 256.7,1481.2 255.1,1480.9 253.2,1479.8" fill="none" stroke="#8c8c8c" stroke-width="4.2" stroke-linejoin="round" stroke-linecap="round"/><path d="M1129,1364 L1136,1357 L1143,1355 L1146,1362 L1153.8,1366 L1163.2,1373.2 L1161.6,1379.4 L1158.5,1384.9 L1160,1390.4 L1161.6,1395.1 L1158.5,1399.7 L1145.2,1399.7 L1141.3,1394.3 L1138.9,1388.8 L1141.3,1384.1 L1135.8,1381 L1133.5,1374.7 L1129,1370 Z" fill="#8c8c8c" fill-opacity="0.9" stroke="none"/><path d="M1146.5,1378.8 1148.2,1377.2 1150.6,1377.3 1152.6,1378.6 1154.8,1377.7 1156.7,1379.2 1157.1,1381.6 1156,1383.6 1153.7,1384.4 1152,1382.7 1154.4,1382.4 1156.2,1380.8 1158.1,1379.4 1159.2,1381.5 1157.1,1382.6 1154.9,1383.7 1152.5,1383.7 1153.4,1386 1155.8,1386.5 1156.6,1384.2 1157,1381.8 1155.7,1379.8 1157.7,1378.4 1158.5,1376.2 1160.6,1377.3 1158.7,1378.8 1156.8,1380.2 1157.3,1382.6 1157,1385 1155.8,1387.1 1154.1,1388.8 1151.8,1389.3 1150.5,1391.3 1149.9,1393.6 1150.8,1395.8 1152.9,1394.6 1155.2,1394.2 1156.9,1392.5 1158.4,1390.6 1158.9,1393 1158.8,1395.4 1158.5,1397.8 1156.3,1398.6 1154.7,1396.7 1156.9,1395.7 1158.3,1393.8 1159.9,1395.5 1157.9,1396.8 1155.8,1395.5 1155.2,1393.2 1157.3,1392 1157.5,1389.6 1157,1387.2 1154.6,1386.9 1155.2,1389.2 1155.9,1391.5 1153.6,1392.2 1152,1390.4 1149.6,1390.2 1148.8,1388 1146.9,1386.5 1145.5,1384.5 1146,1382.2 1145.6,1379.8 1143.5,1378.7 1142.5,1376.5 1141.2,1374.5 1139,1373.5 1137.8,1371.4 1136.2,1369.6 1135.4,1367.4 1133.1,1366.8 1131.7,1364.8 1129.3,1364.7 1131.2,1366.2 1132.7,1364.3 1134.7,1363 1136.9,1364.1 1138.7,1362.6 1140.7,1361.3 1140.5,1358.9 1140.3,1356.5 1142.7,1356.3 1142.8,1358.7 1140.5,1359.3 1138.1,1359.5 1135.7,1359.2 1136.8,1357.1 1136.6,1359.5 1138.9,1360.1 1138.4,1362.5 1136.4,1363.8 1134.5,1362.5 1132.7,1360.8 1132.7,1363.2 1135.1,1363 1137.5,1362.6 1139.9,1362.9 1142.2,1362.4 1144.6,1362.4 1144.7,1360 1142.4,1359.3 1142.3,1357 1143.2,1359.2 1140.9,1359.8 1139.5,1357.8 1141.9,1357.6 1140.7,1359.7 1138.5,1358.7 1136.3,1357.6 1138.7,1357.4 1138.7,1359.8 1140.3,1361.6 1140.8,1363.9 1138.7,1365 1140.9,1365.9 1138.7,1367 1138.8,1369.4 1141,1370.3 1141.5,1372.7 1141,1375 1138.7,1375.4 1136.5,1374.3 1134.9,1372.6 1133,1371.1 1130.6,1371.4 1131,1369 1133,1367.7 1135.2,1368.7 1137.3,1369.9 1139.6,1370.7 1141.1,1372.6 1141.1,1375 1141.7,1377.3 1139.4,1376.8 1139.8,1374.4 1142,1373.5 1143.3,1375.6 1141.7,1377.3 1143.1,1379.3 1140.8,1378.5 1139.7,1380.6 1141,1378.5 1143,1377.2 1145.3,1376.4 1142.9,1376.6 1141.1,1375 1139.8,1372.9 1138.6,1375 1136.5,1374 1134.2,1373.2 1132.3,1371.8 1133.2,1369.6 1134.4,1367.5 1133.9,1365.2 1132.1,1363.5 1129.7,1363.8 1129.5,1366.2 1131.5,1367.5 1133.6,1366.2 1135.9,1366.7 1138.3,1366.4 1140.5,1365.5 1142.9,1365.7 1145,1366.8 1146.9,1365.4 1147.3,1363 1145,1362.3 1143.6,1364.2 1141.7,1365.7 1140.8,1367.9 1142.1,1369.9 1144.3,1369 1145.9,1370.8 1148.1,1371.7 1150.1,1373.1 1152.2,1374.2 1154.3,1373 1156.7,1372.7 1159.1,1372.6 1159.9,1374.9 1159.4,1377.2 1161.5,1378.3 1161.4,1375.9 1162.8,1374 1161.3,1372.1 1160,1374.1 1158.3,1375.8 1157.9,1378.2 1157.3,1380.5 1159.4,1381.8 1157,1382.3 1154.8,1381.3 1152.4,1381.6 1152.9,1379.2 1155.2,1379.1 1154.8,1376.7 1154.7,1374.3 1154.2,1372 1156.4,1372.7 1158.8,1372.1 1157.1,1373.8 1157.4,1376.2 1157.2,1378.6 1158.4,1380.7 1156.4,1379.3 1154.3,1380.4 1155,1382.7 1156.6,1384.5 1158.8,1383.6 1158.4,1381.3 1160.3,1379.8 1158.9,1381.8 1158.9,1384.2 1158.7,1386.6 1156.4,1385.9 1154.1,1385.3 1151.9,1386.3 1151.8,1388.7 1150.5,1390.6 1149.5,1392.8 1147.8,1394.5 1149.6,1396.1 1151.8,1396.9 1154.1,1397.8 1155.6,1399.7 1157.9,1399.2 1158.3,1396.9 1159.6,1394.8 1157.2,1394.7 1154.8,1394.5 1153,1396.1 1150.9,1394.9 1150.9,1392.5 1153.2,1392.8 1155.2,1394.2 1157,1395.8 1158.2,1397.8 1155.9,1398.2 1153.7,1399.2 1151.3,1399.3 1149.1,1398.4 1146.7,1398 1145.2,1396.2 1143.1,1395 1145.2,1396.2 1145.7,1398.6 1146,1396.2 1148.3,1396.9 1149.6,1398.9 1149.8,1396.5 1147.6,1395.6 1145.3,1396.3 1144.9,1398.6 1146.6,1396.9 1147.9,1394.9 1150.3,1394.4 1152.5,1395.1 1154.7,1394.1 1154.9,1391.7 1152.7,1392.6 1150.6,1391.4 1148.2,1391 1147,1388.9 1145.7,1386.9 1143.5,1388 1142.5,1390.2 1140.2,1389.5 1142.6,1389.2 1141.4,1387.1 1142.6,1385 1142.5,1382.6 1140.9,1380.7 1142.5,1378.9 1143,1376.6 1145.3,1375.9 1147.1,1374.4 1149.4,1373.7 1151.1,1375.3 1150.4,1377.6 1150.1,1380 1152.1,1378.7 1153,1380.9 1154.9,1382.4 1153.8,1384.6 1154.6,1386.9 1156.1,1388.7 1157.4,1390.8 1158.6,1392.8 1156.2,1393 1156.6,1395.3 1158,1397.2 1160.3,1396.5 1157.9,1396.1 1155.7,1396.8 1153.4,1397.8 1151.2,1396.9 1150,1399 1148.5,1397.1 1146.5,1395.8 1144.1,1395.8 1143.9,1393.4 1145.4,1391.5 1146.1,1389.2 1146.2,1386.8 1147.4,1384.7 1145,1384.2 1142.6,1384.1 1141.7,1381.9 1144,1381.2 1146.1,1380.1 1145.4,1377.7 1143.6,1376.2 1144.6,1374 1146.1,1375.9 1147.8,1377.5 1149.6,1375.9 1151.6,1374.7 1154,1375.3 1154.8,1377.6 1154.8,1380 1153.4,1378 1152,1376 1153.8,1377.6 1156.1,1376.9 1157,1379.1 1155.4,1380.8 1153,1380.7 1151.2,1382.3 1149.5,1384" fill="none" stroke="#8c8c8c" stroke-width="4.2" stroke-linejoin="round" stroke-linecap="round"/><path d="M1139,1339 L1150,1323 L1155,1330 L1153,1342 L1144,1343 Z" fill="#8c8c8c" fill-opacity="0.55" stroke="none"/><path d="M1148.2,1335.4 1150,1333.8 1152.4,1333.8 1153.8,1335.7 1151.5,1335 1149.3,1335.8 1147,1336.4 1146.7,1334 1144.4,1333.7 1146.8,1333.6 1149,1334.5 1149.1,1332.1 1147.2,1330.7 1145.5,1332.4 1144.1,1334.4 1144.4,1336.8 1142,1337.2 1140.3,1338.8 1141.9,1340.6 1144.2,1339.9 1146.6,1340 1148.8,1341 1148.1,1338.7 1146.8,1336.7 1144.5,1336 1144.1,1338.3 1142.8,1340.4 1144.4,1338.6 1146.3,1337.1 1148.4,1335.9 1150.4,1337.2 1149.9,1339.5 1147.7,1338.5 1145.3,1338.6 1145.7,1336.2 1145.8,1333.8 1143.7,1332.8 1145.3,1334.6 1146.3,1332.4 1147.3,1330.2 1149.4,1331.2 1149.5,1333.6 1151.2,1335.3 1150.4,1337.5 1150.9,1339.9 1150.7,1342.2 1149.2,1340.3 1149.2,1337.9 1148.7,1335.6 1147.1,1333.8 1146.9,1331.4 1146.1,1329.1 1145.3,1331.4 1146.6,1333.4 1148.6,1334.7 1149.3,1332.4 1151.7,1332.2 1154.1,1332.1 1152.5,1330.3 1150.4,1329.2 1150.6,1326.8 1148.2,1326.5 1147,1328.6 1145.7,1330.6 1143.8,1332.1 1144.9,1334.2 1144.6,1336.6 1144.4,1339 1142.2,1339.9 1142.2,1337.5 1142.9,1335.2 1145.1,1334.4 1146.8,1332.7 1147.3,1330.3 1148.9,1328.5 1150.3,1326.6 1150.1,1329 1152.4,1329.7 1151.9,1332 1149.9,1333.4 1148,1332.1 1146.2,1330.4 1146.2,1332.8" fill="none" stroke="#8c8c8c" stroke-width="4.2" stroke-linejoin="round" stroke-linecap="round"/><ellipse cx="1199" cy="1352" rx="8" ry="6" fill="#8c8c8c"/><path d="M1017.8,1192.2 L1021.7,1172.7 L1029.5,1176.6 L1033.5,1184.4 L1032.5,1197.1 L1024.7,1199.1 L1017.8,1196.2 Z" fill="#8c8c8c" fill-opacity="0.85" stroke="none"/><path d="M1025.4,1188.3 1027.1,1186.7 1029.5,1186.8 1031.5,1188.1 1030.9,1185.8 1031.9,1183.6 1029.6,1182.9 1027.3,1183.6 1025,1184.3 1024.8,1181.9 1022.4,1181.5 1020.3,1180.4 1022.5,1179.6 1023.7,1177.5 1025.9,1178.5 1028.3,1178.2 1028.3,1180.6 1029.2,1182.8 1029.5,1185.2 1029.8,1187.6 1030,1190 1032.2,1190.8 1031.4,1188.5 1032,1186.2 1030.8,1184.2 1029,1182.6 1026.6,1182.5 1026.8,1184.9 1026.1,1187.2 1026.9,1189.4 1027.8,1191.6 1025.5,1191 1023.4,1189.9 1021.4,1188.5 1021.7,1186.1 1024,1185.6 1024,1188 1025.1,1190.1 1022.8,1190.8 1020.6,1191.7 1020.6,1194.1 1022.5,1195.6 1022.1,1197.9 1019.9,1197 1020.5,1194.7 1021.1,1192.3 1023.4,1193 1023.9,1195.3 1025.9,1196.7 1024.4,1198.6 1023,1196.7 1022.9,1194.3 1022.5,1191.9 1020.9,1190.2 1020.6,1187.8 1019.9,1185.5 1020,1183.1 1022.4,1182.8 1023.6,1184.9 1024.7,1187 1024.6,1189.4 1027,1189.2 1029.4,1189.3 1031.6,1188.4 1029.5,1189.5 1027.5,1188.2 1025.5,1189.6 1023.4,1190.8 1023.5,1193.2 1023.4,1195.6 1022.6,1197.8 1024.8,1198.7 1024.5,1196.3 1023.1,1194.4 1022.8,1192 1022.4,1189.6 1022,1187.3 1020.7,1185.2 1020.5,1187.6 1022.8,1188.3 1022.3,1190.6 1020.3,1192 1018.3,1190.6 1017.9,1193 1019.6,1194.7 1021.1,1192.9 1022.6,1191 1024.4,1189.5 1025.8,1187.5 1027.6,1185.9 1025.9,1184.1 1026.7,1181.8 1027,1179.4 1027.5,1177.1 1026.2,1179.1 1023.8,1178.5 1023.7,1176.1 1024.6,1178.3 1026.7,1179.3 1028.6,1180.8 1030.1,1182.8 1028.7,1184.8 1026.7,1186 1024.5,1186.9 1023.2,1184.9 1021.6,1183.1 1021,1185.4 1023.4,1185.1 1024.3,1182.9 1025.9,1181 1028.2,1180.3 1028.6,1182.7 1030.5,1184.2 1031.4,1186.4 1029.5,1187.9 1031.9,1188.3 1030,1189.8 1030.5,1192.1 1032.8,1192.7 1031.7,1194.8 1030.9,1197.1 1029.4,1195.2" fill="none" stroke="#8c8c8c" stroke-width="4.2" stroke-linejoin="round" stroke-linecap="round"/><path d="M135.4,1184.5 L140.6,1179.8 L146.9,1176.7 L155.2,1176.7 L156.3,1179.8 L170.9,1179.8 L170.9,1185 L156.3,1185 L156.3,1188.1 L161,1190.7 L161,1197.5 L154.2,1202.7 L144.3,1202.7 L143.2,1198.6 L151.1,1194.4 L148.4,1192.3 L139.1,1191.3 L135.4,1188.1 Z" fill="#8c8c8c" fill-opacity="0.85" stroke="none"/><path d="M151.5,1188.5 153.2,1186.9 155.6,1187 157.1,1188.9 157,1191.3 155.4,1193 153,1193.2 151.8,1191.2 154.2,1191.5 156.3,1190.4 158.4,1189.3 159.1,1191.6 156.9,1192.7 154.8,1193.8 152.4,1193.9 153.3,1196.1 155.6,1196.6 156.5,1194.4 156.8,1192 155.6,1189.9 157.7,1191 160.1,1191.1 158,1192.3 159.5,1194.2 160.1,1196.5 159,1194.4 160.4,1192.4 158,1192.3 158.6,1190 156.6,1191.2 154.5,1190 153.9,1187.6 156,1186.4 156.2,1184 155.7,1181.7 153.3,1181.3 153.9,1183.7 154.6,1186 152.3,1186.6 150.7,1184.8 148.3,1184.7 147.5,1182.4 145.6,1180.9 144.2,1179 146.5,1178.3 144.4,1179.4 142.8,1181.3 145,1182.2 145.1,1184.6 144.8,1187 143.6,1189.1 145.8,1190 147.8,1191.3 150.1,1191.8 147.7,1191.8 145.4,1191.5 143.1,1190.7 143.4,1188.3 144,1186 143,1183.8 143.4,1181.4 143.8,1179.1 146.1,1178.3 148.3,1179 150.7,1178.5 152.5,1176.9 152.3,1179.3 154.6,1180 154.1,1182.3 152.1,1183.7 150.1,1182.4 148.4,1180.7 146,1180.6 143.6,1181 142.5,1183.1 144.7,1184 147,1184.7 149.1,1186 151.4,1186.7 153.5,1187.7 154.6,1185.6 156.6,1184.2 158.9,1184.4 161.1,1183.2 158.9,1182.3 156.8,1181 154.5,1181.4 152.2,1180.6 150,1181.5 147.6,1181.8 145.2,1181.6 144.6,1179.3 147,1179.1 149.4,1178.7 151.2,1177.1 153.5,1176.7 151.6,1178.2 154,1178.7 152.1,1180.1 152.5,1182.4 154.9,1183 155.8,1185.2 155.8,1187.6 153.5,1188.4 151.2,1187.7 149.3,1186.3 147.2,1185.2 144.9,1185.9 142.6,1185.2 142.7,1187.6 143.2,1189.9 145.5,1189.2 147.4,1190.7 149.1,1192.4 151.1,1193.7 152.1,1195.9 151.5,1198.3 151.5,1200.7 149.4,1199.6 150.4,1197.4 152.8,1197.1 153.5,1199.4 151.5,1200.7 149.7,1202.3 150.9,1200.2 152.9,1198.9 155.2,1198.1 152.8,1198.3 151,1196.6 148.7,1197.1 150.8,1196 150.6,1193.6 152.2,1191.8 153.9,1190.2 154.1,1187.8 152.9,1185.7 150.6,1185.2 152.3,1183.5 154.4,1182.5 156.8,1182 157.4,1184.3 155.6,1182.7 153.4,1181.9 151.3,1180.7 148.9,1180.6 147.7,1182.6 145.4,1183.4 143.4,1184.7 141.9,1186.6 139.7,1187.5 137.3,1187.5 139.6,1186.8 139.7,1184.4 140.5,1182.2 141.2,1179.9 143.6,1180 145.7,1181.1 147.8,1182.4 147.2,1184.7 145.5,1186.3 146.6,1188.5 148.1,1190.3 149.9,1191.9 151.9,1193.3 153.7,1191.8 151.9,1190.2 149.8,1189 148.2,1187.2 146,1188.2 145.6,1185.9 146.6,1183.7 146.3,1181.3 148.5,1182 149.3,1179.8 147.6,1178 145.3,1178.8 144,1180.8 142.3,1182.5 142,1184.9 141.4,1187.2 143.4,1188.5 143.9,1190.8 146.2,1191.6 148.2,1190.3 150.6,1190.4 152.7,1189.3" fill="none" stroke="#8c8c8c" stroke-width="4.2" stroke-linejoin="round" stroke-linecap="round"/><path d="M402,1135 L420,1134.5 L443.5,1135 L443,1139 L438,1144 L420,1145 L404,1145 Z" fill="#8c8c8c" fill-opacity="0.85" stroke="none"/><path d="M424.4,1139.6 426.1,1138 428.5,1138.1 430.5,1139.4 432.7,1138.5 434.6,1140 435,1142.4 436.6,1140.5 437.1,1142.9 439.1,1141.6 438.3,1139.3 438.2,1136.9 436.7,1135.1 434.3,1135.7 433.5,1137.9 435.6,1139.1 437.9,1139.8 440.1,1138.8 437.8,1139.5 435.5,1140.2 433.2,1140.8 432.7,1143.1 431.9,1140.9 432.5,1138.6 431.3,1136.5 429.5,1134.9 427.1,1134.8 427.2,1137.2 426.5,1139.5 427.4,1141.7 428.3,1143.9 426,1143.3 423.9,1142.2 421.9,1140.8 422.1,1138.4 424.5,1137.9 424.4,1140.3 425.6,1142.4 423.3,1143.1 421.1,1144 420.9,1141.6 422.5,1139.8 424.7,1140.7 426.8,1139.6 428.3,1137.7 427.2,1135.6 425.7,1137.5 424.2,1139.4 422.4,1137.9 422.9,1135.5 424.5,1137.3 425.5,1139.5 424.6,1141.7 424.6,1144.1 423.1,1142.2 420.8,1141.4 419.5,1139.4 417.7,1137.8 416.7,1135.6 414.4,1135.2 412.7,1136.9 414.8,1138 414.6,1140.4 414.2,1142.8 412.7,1144.7 412,1142.4 413.8,1140.9 412.2,1139 411.4,1136.8 413,1135 411.7,1137 410.4,1139 408.5,1140.5 406.6,1139 405,1137.2 402.6,1136.9 403.7,1139 405.9,1140.1 405.3,1142.4 404.3,1144.6 404.1,1142.3 405,1140.1 405.2,1137.7 407.2,1136.3 407.7,1138.6 410.1,1138.6 410.3,1141 408.9,1142.9 406.6,1142.2 404.4,1141.1 404.4,1143.5 406.8,1143.3 409.1,1142.9 411.5,1143.1 413.9,1142.7 416.3,1142.7 416.4,1140.3 418.5,1139.2 420.4,1137.8 422.4,1136.4 424.8,1136.7 426.9,1135.6 425.6,1137.6 423.3,1137 423.1,1134.7 424,1136.9 426.2,1137.9 428,1139.4 429.5,1141.3 428.2,1143.3 426.1,1144.6 427.4,1142.6 427.6,1140.2 426.5,1138 428.5,1136.7 430.5,1135.5 432.9,1135.2 432.9,1137.6 434.5,1139.5 435,1141.8 432.9,1142.9 435.1,1143.8 434.1,1141.6 435.3,1139.5 437.2,1138.1 439.2,1139.4 440,1141.7 438.2,1143.2 435.8,1143.4 433.4,1143.1 431,1143.3 428.9,1142.3 427.8,1140.1 426.2,1138.3 428.6,1137.8 429.2,1140.1 427.6,1141.9 425.5,1140.6 426.3,1138.3 424.2,1137.1 426.6,1136.9 428.9,1137.5 430.4,1139.4 430.9,1141.7 430.9,1144.1 431.6,1141.8 433.7,1140.7 436,1140.2 434.5,1138.4" fill="none" stroke="#8c8c8c" stroke-width="4.2" stroke-linejoin="round" stroke-linecap="round"/><path d="M386,1129.5 L396,1129.5 L397,1140 L389,1142 L386,1137 Z" fill="#8c8c8c" fill-opacity="0.55" stroke="none"/><path d="M390.8,1135.6 392.6,1134 395,1134 396.4,1135.9 396.4,1138.3 394.7,1140.1 392.4,1140.3 391.1,1138.3 393.5,1138.5 395.6,1137.4 394,1139.2 391.9,1140.3 389.8,1139.2 389.5,1141.6 391.7,1140.7 392.9,1138.7 395,1139.7 393.3,1138 392.2,1135.9 391.1,1133.8 390,1131.6 387.6,1131.6 387.1,1134 388.1,1136.2 389.2,1138.3 386.8,1137.8 388.5,1136.1 389.8,1134.1 388.6,1132 386.2,1131.8 388.6,1132.1 389.7,1129.9 387.3,1129.8 386.6,1132.1 387.3,1129.8 389.7,1129.6 387.8,1131 387.8,1133.4 390.1,1134.2 390.7,1136.5 392.3,1138.3 394.6,1139 394.9,1136.6 394.3,1134.3 393,1132.3 393.6,1130 395.5,1131.5 395.1,1133.8 394.5,1131.5 392.3,1132.5 393.2,1134.7 391.7,1136.6 390.5,1138.7 389.3,1140.7 391.7,1140.5 394,1140.1 395.8,1138.5 393.9,1139.8 392,1138.3" fill="none" stroke="#8c8c8c" stroke-width="4.2" stroke-linejoin="round" stroke-linecap="round"/><circle cx="71" cy="1133" r="6.5" fill="#ff0000"/><circle cx="517" cy="1095.7" r="6.5" fill="#ff0000"/><circle cx="401.9" cy="1139.3" r="6.5" fill="#ff0000"/><circle cx="168.8" cy="1196.7" r="6.5" fill="#ff0000"/><circle cx="462.4" cy="1189.8" r="6.5" fill="#ff0000"/><circle cx="292.8" cy="1246.4" r="6.5" fill="#ff0000"/><circle cx="216" cy="1303.7" r="6.5" fill="#ff0000"/><circle cx="303.7" cy="1364.7" r="6.5" fill="#ff0000"/><circle cx="216" cy="1393.8" r="6.5" fill="#ff0000"/><circle cx="253.2" cy="1479.8" r="6.5" fill="#ff0000"/><line x1="591.7" y1="1033" x2="591.7" y2="1430.8" stroke="#000" stroke-width="3"/><path d="M591.7,1442 L585,1426 L591.7,1428.4 L598.5,1426 Z" fill="#000"/><path d="M1269,1099.8 1267,1099.2 1264.1,1099.4 1262.4,1098.6 1259.6,1098.3 1258.2,1099.1 1255.5,1098.2 1253,1097.3 1250.4,1094.7 1249.4,1095.5 1247,1096.5 1244.7,1098.6 1242,1096 1240,1098.3 1236.4,1095.4 1235.5,1095.3 1233,1095.5 1231.6,1093.8 1228.9,1092.8 1226.3,1092.2 1225.8,1090.4 1221.8,1090 1219.2,1088.9 1219,1090.7 1216.3,1090 1214.2,1092.5 1211.8,1092.2 1209.6,1091.8 1206.3,1093.2 1205.7,1093.6 1203.5,1094.4 1201.4,1093.4 1197.5,1094.8 1197.4,1093.7 1193.9,1092.9 1191.6,1093.6 1189,1093.8 1186.9,1094.6 1184.7,1094 1182.9,1093.7 1179.9,1095.4 1177.5,1096 1176.1,1095.9 1174,1096.1 1171.5,1096.5 1170,1097.9 1168,1099 1166.3,1100.6 1163.3,1100.2 1160.8,1101.7 1158.4,1102.4 1157.5,1101.8 1154.3,1101 1152.7,1102.1 1150.2,1101.6 1147.3,1100.9 1145.7,1100.6 1143.1,1100.8 1140.2,1100.8 1139.1,1099.9 1136.3,1098 1134.5,1098 1133.8,1095.8 1129.8,1095.9 1128.1,1095.5 1126.7,1094.6 1124.5,1093.6 1122.8,1092.3 1121,1092.4 1118.9,1090.8 1116.8,1088.4 1114.8,1087.7 1112.1,1089.5 1110.7,1091 1108.2,1089.1 1104.9,1089.5 1103,1089.6 1100.6,1090.2 1098.6,1089.3 1096.3,1088.5 1094.4,1088.5 1092.5,1087.9 1089.2,1089.2 1087.4,1089.2 1084,1089.3 1081.8,1089 1079.6,1087.7 1077.4,1087.8 1075.4,1088 1074.1,1088.2 1070.9,1087.2 1068.5,1088.4 1067,1088.4 1064.8,1086.8 1062.4,1088.8 1059.9,1088.8 1057.8,1088.4 1056.1,1087.9 1052.5,1088.2 1051,1088.2 1048.8,1090.5 1045.5,1090 1045.6,1089.9 1042.8,1090.7 1040.5,1090.4 1037.4,1089.8 1036.4,1089.6 1034.1,1090.4 1031.2,1091.1 1028.9,1091.6 1027.2,1091.9 1025,1092.9 1026.6,1091.3 1030.1,1091.6 1032.7,1092.5 1034.2,1092.7 1036.2,1094.2 1037.4,1096.7 1037.8,1095.7 1038.7,1098.5 1040.4,1100.4 1040.6,1102.7 1041.5,1106.6 1043.2,1108 1045.5,1108.8 1047.5,1108.8 1048.6,1109.4 1050.2,1111.6 1051.8,1112.5 1055.9,1115.2 1056.9,1111.7 1060.4,1110.6 1061.7,1110.4 1063.3,1107.7 1066.7,1108.7 1068.7,1107 1071.2,1109.1 1073.6,1110.5 1074.9,1110 1077.5,1108.3 1080,1108 1082.3,1107.7 1084.5,1106.4 1086.3,1107.1 1089.1,1107.4 1091.4,1106.1 1093.4,1106 1095.3,1106.9 1097.8,1105.3 1099.8,1105.1 1101.8,1103.8 1104.2,1102.1 1106.9,1102.5 1108.9,1101.7 1110.6,1101.7 1113.1,1100.9 1115,1099.8 1117.4,1102.4 1120.4,1101.7 1120.6,1103.6 1122.8,1104.5 1125.2,1105.7 1128.4,1105.5 1130.2,1105 1133.2,1103.8 1133.7,1104.3 1137,1105.7 1139.1,1106.2 1141.2,1106.9 1143.7,1105.5 1145.5,1107.5 1148.1,1108 1149.7,1106.6 1151.5,1107.1 1155,1105.7 1156.9,1105.1 1158.6,1104.4 1161,1103.3 1163.3,1104.7 1165.5,1102 1167.8,1104.1 1170.6,1105 1172.9,1104.9 1174.7,1107.4 1176.2,1106.1 1179.5,1107.4 1181.2,1108.2 1183.4,1109.5 1185.7,1111.1 1187.6,1110.4 1189.7,1111 1192.1,1113.3 1194.3,1112.5 1197.6,1112.3 1198.9,1114.5 1201.5,1116 1202.2,1116.7 1204.7,1117.1 1207.2,1117.6 1209.5,1117 1211.8,1118.2 1212.9,1120.6 1215.3,1120.6 1218.5,1121.9 1219.5,1122.5 1222.5,1121.1 1225,1121.3 1227.4,1122.2 1230.1,1121.2 1231.9,1122.4 1233.6,1124 1235.6,1122.2 1238.3,1123.2 1241.2,1123.1 1242.3,1123 1244.3,1123.7 1246.8,1123.1 1248.8,1123 1251.3,1123.7 1253.3,1123.3 1256.2,1123 1256.8,1124.1 1258.9,1123.3 1262,1125 1264,1123.8 1267.8,1124.5 1269.4,1121.4 1270.3,1121 1274.2,1121.7 1276.5,1120.1 1278.3,1121.4 1280.9,1119.9 1282.4,1116.7 1284.4,1116.6 1287,1116.2 1289.5,1114.1 1291.1,1112.6 1293.8,1113.1 1296.2,1113.5" fill="none" stroke="#8c8c8c" stroke-width="4.2" stroke-linejoin="round" stroke-linecap="round"/><path d="M1146.3,1186.4 1143.6,1185 1141,1186.9 1139.4,1187.3 1136.4,1189.8 1135.6,1189.1 1132.9,1190.2 1129.4,1190 1127.8,1190.6 1124.2,1190.3 1121.8,1190.2 1120,1191.1 1117.1,1192.3 1115.7,1194.3 1113.3,1193 1109.6,1193.1 1107.6,1192.2 1106.2,1190.1 1102.3,1189.3 1100.7,1189.4 1098,1189.9 1096,1191.7 1093.2,1191.6 1090.5,1191.8 1088.2,1192 1086,1192.4 1083.1,1191.9 1081.4,1192.7 1078.3,1191.6 1076.1,1190.5 1074,1192.3 1071.6,1193.3 1068.7,1194 1065.3,1192.7 1064.5,1192.6 1060.9,1195.7 1058.7,1193.5 1057.8,1191 1057.5,1189.2 1056.4,1186.3 1056.7,1183.5 1058.6,1182.2 1055.8,1180.7 1052.3,1182.9 1050.1,1183.8 1045.8,1184.3 1044.3,1182.8 1041.8,1181.8 1039.6,1180.5 1036.2,1182 1034,1181.3 1031.9,1181.3 1030.1,1178.7 1029.7,1176.6 1027.1,1176.1 1025.6,1174 1023.4,1172.9 1025.4,1175.1 1026.7,1177.2 1028.4,1179.4 1029,1182.2 1029,1183.8 1028.4,1186.4 1029.4,1190.6 1026.2,1189.5 1024.9,1190.1 1022.5,1190.8 1021.3,1190.2 1021.8,1193 1021.8,1195.3 1024.5,1194.9 1025.7,1195.3 1029.1,1195.7 1032.4,1195.9 1034.7,1196.4 1036.8,1195.8 1038.8,1195.9 1042,1197.3 1041.7,1199.7 1041.9,1196.2 1044.1,1192.4 1047.2,1193.6 1049.5,1193.9 1051.6,1195 1054.4,1196.4 1056.1,1197.2 1059.4,1198.4 1062,1197.9 1065.4,1199 1066.9,1199.6 1069.7,1199.2 1072.6,1199 1073.8,1201.1 1074.4,1202.9 1076.7,1204.1 1078.7,1203.1 1080.4,1204.2 1084.4,1203 1086,1203.7 1088.5,1205.1 1091,1206.6 1093,1206.4 1095.7,1206.8 1097.8,1207.6 1099.8,1207.4 1102.8,1208.9 1105.6,1205.6 1107.5,1204.7 1110.7,1205.7 1113.5,1205.2 1114.7,1204.5 1117.5,1204.3 1119.8,1204.5 1122.6,1203.9 1124.9,1204.1 1127.1,1204.6 1129.3,1203.9 1131.9,1204.3 1135.7,1204.8 1138.7,1203.6 1140.1,1203.3 1142.5,1203.9 1144.4,1203.2 1145.6,1202.2 1149.1,1202.5 1152.2,1203.6 1153.2,1204.7 1155.6,1205.7 1157.1,1206.2 1159.9,1207.1 1162.4,1208.1 1164.1,1206.5 1165.9,1205.1 1169.9,1204.7 1171.7,1204.9 1174.5,1204.9 1176.2,1202.4 1178.2,1203.9 1181.5,1205.8 1183.4,1205.6 1186.2,1203.6 1187.5,1203.7 1189.6,1200.8 1190.8,1200 1194,1201.6 1195.9,1201.5 1198.7,1200 1201.6,1201.9 1203.7,1202.1 1206,1203.5 1208.2,1202.9 1210.2,1203.2 1212.7,1203.3 1215,1203.3 1216.8,1202.6 1219.9,1201.2 1221.8,1204.2 1223.4,1202 1226.6,1202.1 1229.1,1202 1231.7,1202.7 1233.5,1202.8 1235.6,1202.7 1238.8,1203.4 1240.8,1202.5 1242.7,1203.2 1244.9,1202.9 1246.6,1202.1 1249.8,1203.4 1250.6,1201.8 1253.6,1201.1 1255.9,1200.6 1258.3,1203.5 1259.6,1202 1261.2,1202.6 1264.9,1201.6 1266.5,1202.1 1269.5,1203.3 1270.8,1201.7 1274.3,1202 1275.5,1200.6 1277.6,1200.7 1279.3,1201.7 1282.5,1204.1 1285.7,1203.6" fill="none" stroke="#8c8c8c" stroke-width="4.2" stroke-linejoin="round" stroke-linecap="round"/><path d="M1397.4,1263 1395.7,1263.3 1393.4,1262.5 1390.7,1263.7 1388.7,1261.8 1385.5,1260.8 1383.4,1262.7 1381.6,1263.2 1378.9,1264.1 1376.5,1262.4 1374.1,1262.2 1370.9,1261.9 1369.5,1262.1 1368,1262.9 1366.4,1264.8 1363.8,1264 1361.2,1262.8 1359,1263.6 1356.8,1265.9 1354.3,1268.6 1352.6,1268.6 1350.2,1268.3 1348.1,1268.9 1346,1268.2 1344.2,1267.7 1341.7,1267.8 1339.6,1268.7 1336.8,1266.4 1335,1265.2 1332.5,1266.3 1331.2,1266.3 1328.5,1266.6 1326.7,1267.4 1323.9,1266.9 1322.2,1266.2 1320.1,1265.9 1317.5,1264.5 1315.5,1262.4 1313.4,1263 1310,1263.4 1308,1264.7 1306.2,1263.4 1304.3,1263.1 1301.5,1263.4 1300.2,1263.8 1297.7,1265 1294.9,1264.1 1293.8,1264.2 1291,1264.3 1289.6,1264.3 1287.9,1264.5 1284.4,1264.4 1282.7,1264.4 1279.9,1263.8 1277.2,1264.3 1276,1264.3 1274.2,1264.3 1271.3,1264.6 1269.3,1266.3 1266.6,1266.1 1264.4,1266.1 1262.2,1266.5 1259.5,1266 1257.7,1268.3 1255.2,1267.9 1253.1,1269.3 1251.2,1269.4 1249,1269.1 1246.6,1270 1244.7,1271.1 1242.2,1271.5 1239.8,1272 1237.9,1273.5 1235.4,1272.4 1233.4,1273.4 1230.9,1273.7 1228.4,1273.5 1226.4,1276 1225.4,1275.6 1222.7,1276.9 1220.8,1276.1 1218.2,1276 1215.9,1275.2 1213.9,1274.3 1211.5,1275.4 1209.7,1274.6 1207.6,1275.1 1204.8,1276.7 1202.4,1276 1200.6,1274.8 1198.2,1274.2 1196.4,1274.5 1194.5,1272.1 1191.7,1273.9 1188.6,1274.2 1187.1,1272.8 1185.8,1270.9 1182.6,1272.3 1180.1,1272 1177.7,1270.9 1176,1272 1173,1273.7 1171.1,1272.9 1169.2,1270.8 1167.3,1272 1164.6,1271.9 1162.4,1271.9 1160.5,1272.6 1158.9,1271.6 1155.7,1272.4 1153.5,1270.7 1151.5,1268.5 1148.7,1270.7 1147.3,1270.9 1144.1,1270.5 1142.8,1271 1140.4,1268.6 1136,1270.9 1135.8,1268.8 1132.8,1268 1130.5,1270.4 1128,1269.1 1125.4,1269 1124.2,1270.3 1121.5,1269.3 1119,1269.8 1117,1271.1 1115.6,1271 1112.3,1269.9 1111.2,1269.2 1107.8,1268 1106.2,1267.2 1104,1269.3 1101.7,1267.1 1099.7,1268.5 1096.9,1267.3 1095.5,1267.4 1093.2,1268.6 1090.7,1269.1 1088.1,1267.7 1085.8,1267.3 1084.4,1266.6 1082.1,1265.9 1079.6,1267.5 1078.5,1267.7 1075.9,1269.3 1073.2,1267.8 1071.9,1269 1069.1,1268.6 1066.6,1269.8 1064.1,1270.3 1062.8,1270.6 1059.6,1271.8 1057.7,1272.2 1055.5,1270.3 1053.9,1272.1 1050.3,1272.2 1049.3,1271.6 1047.3,1271.9 1044.2,1271.7 1042.1,1272.8 1040.9,1272.7 1038.8,1274.4 1036,1275.2 1034.4,1276.1 1031.7,1277.3 1029.4,1276.3 1027.4,1276.9 1026.1,1277.2 1022.9,1278 1020.8,1278 1018.8,1280.1 1016.2,1278.3 1014.2,1278.7 1012,1276.9 1008.8,1278.1 1007.8,1277.9 1004.6,1277.1 1002.7,1277.1 999.7,1279 998.7,1279.4 996.4,1280 994.1,1279.9 992,1278.6 989.1,1281.4 987.4,1283.1 986,1286.3 984.1,1286.2 981.3,1285.7 980.1,1286.4 977.1,1286.9 974.2,1287.9 971.7,1287 970.1,1287.5 967.9,1288.7 966.9,1291.1 963.8,1290.9 962,1292.6 960,1293.7 958.2,1297.1 960.3,1300.1 958.6,1302.2 957,1302.7 958.8,1303.3 961.5,1304.3 962.8,1302.5 965.7,1304.1 967.3,1304.1 969.4,1303.2 972.1,1302.8 974.8,1302.5 976.2,1304 979.6,1302.5 981.7,1303.7 982.7,1302.4 985.3,1304.3" fill="none" stroke="#8c8c8c" stroke-width="4.2" stroke-linejoin="round" stroke-linecap="round"/><path d="M1217.1,1349.7 1215.1,1350.5 1212.6,1350.9 1209.9,1349.7 1208.2,1350.4 1204.6,1350.9 1202.8,1351 1200.1,1351.1 1198,1352.4 1195.7,1353.1 1192.6,1351.5 1192.3,1348.8 1188.3,1349.3 1186.3,1351.5 1182.4,1352.6 1180.5,1348.9 1178.7,1346.5 1176.2,1344.3 1173.5,1344.6 1170.9,1342.7 1169.2,1343.6 1167.7,1345.9 1165.1,1344.3 1160.4,1344.5 1159.9,1342.4 1157.8,1342.2 1155.3,1342.8 1152.4,1343.4 1149.5,1342.8 1151.4,1339.4 1151.4,1336.8 1150.6,1334.8 1149.4,1332.7 1150.3,1330 1151.4,1328.6 1151,1326.6 1151.2,1323.4 1150.2,1327.9 1149.2,1328.7 1145.8,1330.1 1143.6,1330.7 1142.3,1333.4 1138.9,1335.4 1137.3,1336 1135.2,1337.7 1133.5,1338.9 1131.6,1341.6 1129.2,1343.2 1126.1,1342.3 1124.1,1342.8 1122.8,1344.7 1119.3,1346.4 1118.5,1350.7 1121.6,1350.4 1122.5,1350.3 1124.8,1350.6 1127.8,1350.6 1129,1352.1 1133.3,1353.5 1134.9,1351.7 1137.9,1352.5 1140,1352.5 1142.1,1352.1 1142.9,1355.8 1141.4,1356.3 1139.8,1359.3 1139.5,1360.1 1138.5,1363.1 1138.5,1365.2 1134.7,1366.8 1133.8,1367.1 1130.6,1367.7 1127.5,1368.4 1126.6,1367.4 1123.7,1367.3" fill="none" stroke="#8c8c8c" stroke-width="4.2" stroke-linejoin="round" stroke-linecap="round"/><path d="M888.6,1445.5 890.7,1445.5 892.5,1446 895,1444.4 897.1,1445.1 899.2,1444.1 902,1442.2 903.1,1443.5 906.9,1442.3 907.4,1440.4 911,1442.8 912.5,1440.6 914.9,1441.1 917.1,1441.8 919.3,1440 921.1,1438.8 924.9,1439.3 926.2,1437.9 927.8,1436.3 929.8,1434.6 931.5,1435 934.4,1434.5 936.6,1435.1 939.1,1434 940.5,1434 944.1,1432.7 944.7,1432.3 947.9,1430.7 949.8,1433.5 952.7,1432.4 954.6,1432.4 956.2,1433.2 959.3,1432.4 961,1433.2 963.5,1432.7 964.7,1435.4 969,1435.1 971.4,1434.7 972.8,1434.5 974.6,1435.8 977.5,1432.4 979.9,1434.2 981.9,1433 983.4,1434.4 986.3,1432.8 988.6,1433.3 991.6,1431.5 991.7,1432.3 995.9,1433.5 997.2,1433.3 999.9,1432.6 1002.3,1432.8 1003.9,1432.8 1007.3,1432.9 1008.1,1434.6 1011,1432.1 1013.1,1431.7 1015.7,1432.9 1018.7,1433.7 1021.2,1432.9 1022.7,1430.6 1024.3,1430.9 1026.9,1430.8 1029.3,1431.6 1031.6,1432.7 1034.4,1434 1036.2,1432.2 1037.3,1431.5 1040.4,1432.5 1042.3,1431.9 1043.2,1431.5 1047.1,1432 1047.6,1434 1051.2,1432.1 1053.3,1431.7 1056,1431 1057.5,1431.5 1059.3,1432.4 1062.4,1430.7 1064.1,1432.2 1066.4,1433.6 1069.2,1433.9 1071.1,1433.7 1073,1434.4 1076.2,1435 1077.9,1435.6 1080.5,1434 1082.5,1433.4 1084.5,1434.2 1085.4,1435.4 1089.2,1434.8 1090.6,1432.9 1092.7,1434.4 1094.2,1433.4 1098.2,1433 1099.4,1432.5 1102.1,1433.2 1104.5,1432.4 1105.9,1431.4 1108.3,1431.1 1110.6,1432.1 1112.1,1431.6 1115.6,1433.1 1117.7,1433.7 1119.8,1433.1 1121.3,1432.9 1124.3,1434 1126.3,1432.1 1128.2,1431.1 1129.4,1431.5 1132.2,1432.9 1135,1433.3 1137.5,1432.6 1140.1,1432.4 1141.3,1431.1 1143.5,1430.9 1145.4,1429.5 1147.6,1430.6 1149.8,1432.3 1152.7,1431.6 1154.2,1432.2 1157.1,1432 1159,1433.8 1162.3,1433.8 1163,1432.9 1166.2,1433.1 1168.4,1432.6 1170,1431.1 1171.9,1431.2 1175,1433.9 1176.6,1431.4 1180,1432.7 1181.3,1431.8 1183.7,1432 1185.6,1430.7 1188.3,1430 1189.4,1430.4 1191.6,1430 1193.7,1429.5 1196.5,1430.9 1199.1,1428.4 1200.5,1428.7 1203.3,1427.4 1206.1,1427.4 1207.8,1428.4 1209.9,1429.2 1211.3,1428.8 1214.1,1428.6 1216.3,1429.6 1218.1,1430.3 1220.3,1430.1 1223.3,1429.6 1225.3,1430.3 1227.2,1428.8 1228.8,1429.3 1231.5,1430.3 1234.6,1429.8 1235.6,1429.7 1238.4,1428.7 1240.8,1428.6 1242.5,1427.1 1245.2,1428.6 1247.4,1426.1 1249.1,1427.4 1250.9,1425.3 1254.4,1425.9 1256.4,1425.1 1257.4,1425.7 1259.6,1427.2 1263.4,1425.9 1265.4,1425.3 1266.4,1426.1 1268.5,1425.4 1271.6,1423.8 1274.7,1425.4 1275.3,1425.7 1278.6,1423.5 1279.3,1426.2 1282.1,1424.7 1284.8,1425.4 1287.1,1423 1289.1,1422.9 1291.2,1422.8 1293.9,1422.4 1296.2,1423.7 1298.3,1423.8 1300.2,1423.5 1303.6,1421.8 1305.7,1423.8 1307.4,1423.2 1309.5,1423.5 1312.5,1424.2 1314.7,1424.6 1316.4,1424.6 1318.5,1423.6 1321.4,1425.6 1323.5,1424.4 1326.1,1424.9 1327.5,1422 1329.8,1421.5 1332.5,1420.6 1335,1422.9 1336.4,1422.3 1339.8,1424.3 1341.4,1423.1 1343.9,1423.1 1345.9,1422.7 1348.7,1422.1 1350.8,1423.9 1353,1423.1 1355.5,1422.9 1356.9,1423.5 1359.3,1421.9 1361.9,1420.7 1364,1421.7 1366.3,1421.7 1368.5,1421.2 1370.1,1419.2 1372,1417 1374.4,1418.8 1376.5,1418.7 1379.7,1419.1 1381.4,1418.8 1383.3,1418.4 1386.3,1416.8 1387.3,1418.6 1390.2,1419.1 1391.8,1418 1393.6,1416.2 1396.3,1417.8 1398.2,1416.5 1400.8,1417.3 1403.6,1416.7 1404.7,1416.2 1407.7,1415.6 1409.8,1415 1412,1415 1414.1,1414.7 1416.4,1415.7 1418.3,1414.9 1421,1415.5 1423.3,1415 1425.8,1414.5 1426.9,1415.4 1428.9,1415.9 1430.9,1413.7 1433.9,1415.3 1436.3,1414.1 1437.8,1415.4 1441,1416.7 1441.6,1415.9 1444.9,1415.9 1447.8,1415.7 1449.5,1416.3 1451.6,1417.2 1453.2,1417.2 1456.3,1415.4 1458.6,1414.8 1460,1413.2 1462.9,1413.4 1465.7,1412.4 1465.8,1410.6 1468.3,1412.1 1471.1,1413.7 1473.4,1411.1 1474.8,1411.2 1477.5,1409.3 1479,1410.7 1482.6,1410.7 1484.5,1411.3 1486.6,1411.9 1489.3,1412.3 1490.9,1412.9 1493.8,1413 1496.8,1413.5 1499.7,1413.6 1501,1413.2 1503.5,1414.6 1505.3,1414.7 1507.8,1416.5" fill="none" stroke="#8c8c8c" stroke-width="4.2" stroke-linejoin="round" stroke-linecap="round"/><circle cx="1269" cy="1099.8" r="6.5" fill="#ff0000"/><circle cx="1296.2" cy="1113.5" r="6.5" fill="#ff0000"/><circle cx="1145.8" cy="1186.9" r="6.5" fill="#ff0000"/><circle cx="1285.7" cy="1203.6" r="6.5" fill="#ff0000"/><circle cx="1397.4" cy="1263" r="6.5" fill="#ff0000"/><circle cx="985.3" cy="1304.3" r="6.5" fill="#ff0000"/><circle cx="1216.2" cy="1349.6" r="6.5" fill="#ff0000"/><circle cx="1123" cy="1367.2" r="6.5" fill="#ff0000"/><circle cx="888.6" cy="1445.5" r="6.5" fill="#ff0000"/><circle cx="1507.8" cy="1416.5" r="6.5" fill="#ff0000"/><line x1="1527.5" y1="1035" x2="1527.5" y2="1432.8" stroke="#000" stroke-width="3"/><path d="M1527.5,1444 L1520.8,1428 L1527.5,1430.4 L1534.2,1428 Z" fill="#000"/><line x1="666.1" y1="1440" x2="666.1" y2="1382.5" stroke="#000" stroke-width="3.5"/><path d="M666.1,1371 L673.1,1387.5 L666.1,1385 L659.1,1387.5 Z" fill="#000"/><line x1="678" y1="1449.8" x2="733" y2="1449.8" stroke="#000" stroke-width="3.5"/><path d="M744.9,1449.8 L727.9,1456.6 L730.4,1449.8 L727.9,1443 Z" fill="#000"/><circle cx="667.5" cy="1451.4" r="10" fill="#dae8fc" stroke="#6c8ebf" stroke-width="1.6"/><g fill="#1a1a1a" stroke="#fff" stroke-width="0.5"><circle cx="453.4" cy="641.3" r="3.3"/><circle cx="191.8" cy="828.3" r="3.3"/><circle cx="205.8" cy="827.1" r="3.3"/><circle cx="401.7" cy="700.1" r="3.3"/><circle cx="368.4" cy="705.7" r="3.3"/><circle cx="446.2" cy="649.3" r="3.3"/><circle cx="454.5" cy="646.2" r="3.3"/><circle cx="214.7" cy="835.3" r="3.3"/><circle cx="281.9" cy="771.2" r="3.3"/><circle cx="206.4" cy="826.7" r="3.3"/><circle cx="323.7" cy="752.3" r="3.3"/><circle cx="304.6" cy="762.6" r="3.3"/><circle cx="233.2" cy="817.6" r="3.3"/><circle cx="425.4" cy="669.8" r="3.3"/><circle cx="210.5" cy="852.5" r="3.3"/><circle cx="373.1" cy="708.4" r="3.3"/><circle cx="369.7" cy="719.9" r="3.3"/><circle cx="237.1" cy="810" r="3.3"/><circle cx="179" cy="851.7" r="3.3"/><circle cx="369" cy="714.9" r="3.3"/><circle cx="467.4" cy="632.7" r="3.3"/><circle cx="432.7" cy="670.8" r="3.3"/><circle cx="214.2" cy="836.1" r="3.3"/><circle cx="270" cy="787.1" r="3.3"/><circle cx="200.3" cy="827.3" r="3.3"/><circle cx="258.6" cy="813.1" r="3.3"/><circle cx="327.8" cy="741.3" r="3.3"/><circle cx="330.8" cy="722.9" r="3.3"/><circle cx="223.2" cy="806.6" r="3.3"/><circle cx="321.3" cy="748" r="3.3"/><circle cx="189.7" cy="845.9" r="3.3"/><circle cx="281.1" cy="782.7" r="3.3"/><circle cx="220" cy="814.5" r="3.3"/><circle cx="381.3" cy="702.5" r="3.3"/><circle cx="458.7" cy="655.8" r="3.3"/><circle cx="515.5" cy="585.6" r="3.3"/><circle cx="282.9" cy="773.7" r="3.3"/><circle cx="471.4" cy="635.7" r="3.3"/><circle cx="197.9" cy="834.9" r="3.3"/><circle cx="433.9" cy="666.2" r="3.3"/><circle cx="246.3" cy="795.3" r="3.3"/><circle cx="474.7" cy="640.3" r="3.3"/><circle cx="266.8" cy="789.4" r="3.3"/><circle cx="217.8" cy="821.7" r="3.3"/><circle cx="497.4" cy="617.5" r="3.3"/><circle cx="354.3" cy="735.2" r="3.3"/><circle cx="299.3" cy="769.4" r="3.3"/><circle cx="516.5" cy="583.7" r="3.3"/><circle cx="213.6" cy="825.8" r="3.3"/><circle cx="274.8" cy="792" r="3.3"/><circle cx="211.2" cy="837.2" r="3.3"/><circle cx="414.7" cy="665.6" r="3.3"/><circle cx="379.5" cy="699.3" r="3.3"/><circle cx="439.5" cy="661.4" r="3.3"/><circle cx="308.8" cy="753.8" r="3.3"/><circle cx="521.8" cy="584.3" r="3.3"/><circle cx="368.7" cy="715.6" r="3.3"/><circle cx="315.7" cy="776.9" r="3.3"/><circle cx="464.4" cy="628.2" r="3.3"/><circle cx="195.7" cy="832" r="3.3"/><circle cx="361.5" cy="711.2" r="3.3"/><circle cx="312.3" cy="743.8" r="3.3"/><circle cx="328.7" cy="765.8" r="3.3"/><circle cx="468.4" cy="665.5" r="3.3"/><circle cx="211.7" cy="853.4" r="3.3"/><circle cx="508.6" cy="599.9" r="3.3"/><circle cx="200.5" cy="836.8" r="3.3"/><circle cx="176.6" cy="851.8" r="3.3"/><circle cx="277.1" cy="783.2" r="3.3"/><circle cx="174.2" cy="847.6" r="3.3"/><circle cx="315.7" cy="744" r="3.3"/><circle cx="195.4" cy="855" r="3.3"/><circle cx="192.8" cy="852.3" r="3.3"/><circle cx="462.9" cy="644.9" r="3.3"/><circle cx="209" cy="832.7" r="3.3"/><circle cx="333.5" cy="737.5" r="3.3"/><circle cx="211.3" cy="812.8" r="3.3"/><circle cx="296.7" cy="776.1" r="3.3"/><circle cx="419.2" cy="676.3" r="3.3"/><circle cx="341.9" cy="747.1" r="3.3"/><circle cx="406" cy="695.3" r="3.3"/><circle cx="267.1" cy="802.6" r="3.3"/><circle cx="486.4" cy="620.6" r="3.3"/><circle cx="433.9" cy="671.8" r="3.3"/><circle cx="523.9" cy="581.1" r="3.3"/><circle cx="459.3" cy="635.1" r="3.3"/><circle cx="193" cy="845.9" r="3.3"/><circle cx="334.9" cy="742.6" r="3.3"/><circle cx="345.1" cy="711" r="3.3"/><circle cx="201.7" cy="857" r="3.3"/><circle cx="452.8" cy="658" r="3.3"/><circle cx="447.9" cy="656.5" r="3.3"/><circle cx="215.3" cy="833.8" r="3.3"/><circle cx="302" cy="777.3" r="3.3"/><circle cx="456.2" cy="656.5" r="3.3"/><circle cx="433.2" cy="675.3" r="3.3"/><circle cx="399.5" cy="676.5" r="3.3"/><circle cx="159.5" cy="860.3" r="3.3"/><circle cx="332.1" cy="732.4" r="3.3"/><circle cx="455.3" cy="635.7" r="3.3"/><circle cx="264.9" cy="798.1" r="3.3"/><circle cx="189.9" cy="845.6" r="3.3"/><circle cx="210.4" cy="835.7" r="3.3"/><circle cx="408.2" cy="684.1" r="3.3"/><circle cx="385.7" cy="689.5" r="3.3"/><circle cx="178.1" cy="854.2" r="3.3"/><circle cx="422.6" cy="685.6" r="3.3"/><circle cx="203.9" cy="837" r="3.3"/><circle cx="481.1" cy="619.2" r="3.3"/><circle cx="258.3" cy="805.8" r="3.3"/><circle cx="176.7" cy="837.9" r="3.3"/><circle cx="427.2" cy="678.7" r="3.3"/><circle cx="531.2" cy="572.7" r="3.3"/><circle cx="374.9" cy="712.6" r="3.3"/><circle cx="378.5" cy="717.3" r="3.3"/><circle cx="214.8" cy="830.2" r="3.3"/><circle cx="202.7" cy="839.9" r="3.3"/><circle cx="320.2" cy="752.3" r="3.3"/><circle cx="311.4" cy="737.7" r="3.3"/><circle cx="170.9" cy="846.7" r="3.3"/><circle cx="375" cy="712.5" r="3.3"/><circle cx="406.9" cy="693.7" r="3.3"/><circle cx="321.5" cy="748.1" r="3.3"/><circle cx="438.1" cy="662.7" r="3.3"/><circle cx="354.4" cy="716.4" r="3.3"/><circle cx="346.3" cy="737" r="3.3"/><circle cx="177" cy="844.7" r="3.3"/><circle cx="274.2" cy="748.4" r="3.3"/><circle cx="483.3" cy="632.5" r="3.3"/><circle cx="204.3" cy="803.2" r="3.3"/><circle cx="450.2" cy="646.2" r="3.3"/><circle cx="305.3" cy="762.1" r="3.3"/><circle cx="358" cy="727.9" r="3.3"/><circle cx="536.2" cy="568.2" r="3.3"/><circle cx="211.7" cy="850.9" r="3.3"/><circle cx="444.9" cy="658.5" r="3.3"/><circle cx="223.7" cy="817.2" r="3.3"/><circle cx="265.5" cy="785" r="3.3"/><circle cx="188.5" cy="826.2" r="3.3"/><circle cx="404.8" cy="687.7" r="3.3"/><circle cx="296.8" cy="774.7" r="3.3"/><circle cx="340.7" cy="737.4" r="3.3"/><circle cx="503.1" cy="596.4" r="3.3"/><circle cx="347" cy="724.6" r="3.3"/><circle cx="508.2" cy="598.8" r="3.3"/><circle cx="229.9" cy="817.4" r="3.3"/><circle cx="274" cy="758.1" r="3.3"/><circle cx="426.6" cy="674.7" r="3.3"/><circle cx="336.5" cy="733.2" r="3.3"/><circle cx="525.6" cy="580.7" r="3.3"/><circle cx="436.7" cy="653.1" r="3.3"/><circle cx="529.3" cy="573.6" r="3.3"/><circle cx="442" cy="654" r="3.3"/><circle cx="454" cy="645" r="3.3"/><circle cx="531.8" cy="578.9" r="3.3"/><circle cx="369.5" cy="708.3" r="3.3"/><circle cx="169.1" cy="835.1" r="3.3"/><circle cx="413.8" cy="671.4" r="3.3"/><circle cx="438.6" cy="667.2" r="3.3"/><circle cx="394.5" cy="690" r="3.3"/><circle cx="415" cy="685.4" r="3.3"/><circle cx="414.8" cy="675.6" r="3.3"/><circle cx="482.5" cy="619.8" r="3.3"/><circle cx="261.8" cy="793.2" r="3.3"/><circle cx="289" cy="758.4" r="3.3"/><circle cx="270.1" cy="786" r="3.3"/><circle cx="538.2" cy="563.5" r="3.3"/><circle cx="508.2" cy="610.7" r="3.3"/><circle cx="180.9" cy="856.7" r="3.3"/><circle cx="397.3" cy="703.3" r="3.3"/><circle cx="443.9" cy="649.1" r="3.3"/><circle cx="245.5" cy="785.4" r="3.3"/><circle cx="439.6" cy="666.9" r="3.3"/><circle cx="250.8" cy="815.1" r="3.3"/><circle cx="371.9" cy="715.7" r="3.3"/><circle cx="338" cy="749.5" r="3.3"/><circle cx="226.5" cy="830.6" r="3.3"/><circle cx="522.9" cy="587" r="3.3"/><circle cx="521.3" cy="579.1" r="3.3"/><circle cx="182.2" cy="837.5" r="3.3"/><circle cx="176.6" cy="838.5" r="3.3"/><circle cx="423.2" cy="667.4" r="3.3"/><circle cx="314.5" cy="751.5" r="3.3"/><circle cx="154.9" cy="851.6" r="3.3"/><circle cx="321.1" cy="744.3" r="3.3"/><circle cx="278.6" cy="756.4" r="3.3"/><circle cx="242.3" cy="811.8" r="3.3"/><circle cx="333" cy="745.6" r="3.3"/><circle cx="209.7" cy="840.8" r="3.3"/><circle cx="169" cy="836.6" r="3.3"/><circle cx="374.1" cy="701.3" r="3.3"/><circle cx="482.5" cy="637.4" r="3.3"/><circle cx="482.6" cy="622.3" r="3.3"/><circle cx="386.2" cy="716.7" r="3.3"/><circle cx="279.2" cy="789.4" r="3.3"/><circle cx="314.9" cy="759.8" r="3.3"/><circle cx="287.4" cy="774.4" r="3.3"/><circle cx="427.5" cy="685.8" r="3.3"/><circle cx="382.3" cy="703.8" r="3.3"/><circle cx="222.2" cy="825.5" r="3.3"/><circle cx="162.4" cy="863.7" r="3.3"/><circle cx="498.6" cy="605.5" r="3.3"/><circle cx="261.1" cy="787.3" r="3.3"/><circle cx="411.2" cy="661.2" r="3.3"/><circle cx="243.7" cy="820.4" r="3.3"/><circle cx="369.3" cy="717.5" r="3.3"/><circle cx="372.8" cy="709.7" r="3.3"/><circle cx="353.3" cy="723.1" r="3.3"/><circle cx="311.8" cy="747.5" r="3.3"/><circle cx="416.9" cy="682.1" r="3.3"/><circle cx="230.6" cy="802.8" r="3.3"/><circle cx="493.6" cy="612.9" r="3.3"/><circle cx="434.9" cy="667.2" r="3.3"/><circle cx="501.9" cy="598.2" r="3.3"/><circle cx="236.2" cy="837.9" r="3.3"/><circle cx="300.6" cy="782.3" r="3.3"/><circle cx="277.5" cy="816.7" r="3.3"/><circle cx="387.4" cy="698.6" r="3.3"/><circle cx="300.8" cy="766.6" r="3.3"/><circle cx="417.2" cy="664" r="3.3"/><circle cx="193.2" cy="841.3" r="3.3"/><circle cx="232.8" cy="799.8" r="3.3"/><circle cx="256.1" cy="802.9" r="3.3"/><circle cx="405.9" cy="673.9" r="3.3"/><circle cx="269.1" cy="789" r="3.3"/><circle cx="532" cy="569.1" r="3.3"/><circle cx="206.3" cy="850.1" r="3.3"/><circle cx="479.5" cy="619.3" r="3.3"/><circle cx="252.3" cy="797.3" r="3.3"/><circle cx="437.9" cy="666.6" r="3.3"/><circle cx="446.5" cy="653.5" r="3.3"/><circle cx="202.3" cy="836.1" r="3.3"/><circle cx="480.8" cy="619.7" r="3.3"/><circle cx="251.4" cy="815.8" r="3.3"/><circle cx="359" cy="732.5" r="3.3"/><circle cx="515.9" cy="591.5" r="3.3"/><circle cx="343.7" cy="730.3" r="3.3"/><circle cx="207.6" cy="836.6" r="3.3"/><circle cx="519.9" cy="587.9" r="3.3"/><circle cx="253.2" cy="812.8" r="3.3"/><circle cx="279.4" cy="786.8" r="3.3"/><circle cx="360.1" cy="723.2" r="3.3"/><circle cx="440.5" cy="645" r="3.3"/><circle cx="286.3" cy="767.3" r="3.3"/><circle cx="396.1" cy="696.4" r="3.3"/><circle cx="509.8" cy="590.1" r="3.3"/><circle cx="537.4" cy="569.2" r="3.3"/><circle cx="205.6" cy="833.8" r="3.3"/><circle cx="510.2" cy="590.8" r="3.3"/><circle cx="409.2" cy="675.9" r="3.3"/><circle cx="287.6" cy="777.3" r="3.3"/><circle cx="171.1" cy="836.9" r="3.3"/><circle cx="410.6" cy="693.7" r="3.3"/><circle cx="439.6" cy="660.3" r="3.3"/><circle cx="350.9" cy="727.8" r="3.3"/><circle cx="287.1" cy="770.2" r="3.3"/><circle cx="191.9" cy="850.3" r="3.3"/><circle cx="163.1" cy="841.5" r="3.3"/><circle cx="485.7" cy="612" r="3.3"/><circle cx="261.7" cy="791.5" r="3.3"/><circle cx="502.5" cy="603.4" r="3.3"/><circle cx="521" cy="573.8" r="3.3"/><circle cx="278.2" cy="794.7" r="3.3"/><circle cx="165.9" cy="846.2" r="3.3"/><circle cx="325.1" cy="753.5" r="3.3"/><circle cx="363.8" cy="723" r="3.3"/><circle cx="248.6" cy="796.7" r="3.3"/><circle cx="530.8" cy="570.7" r="3.3"/><circle cx="340.2" cy="720.6" r="3.3"/><circle cx="266.7" cy="792.8" r="3.3"/><circle cx="239.2" cy="805.4" r="3.3"/><circle cx="160.3" cy="845" r="3.3"/><circle cx="208.8" cy="832.3" r="3.3"/><circle cx="539.8" cy="564.5" r="3.3"/><circle cx="393.6" cy="692.2" r="3.3"/><circle cx="209" cy="840.1" r="3.3"/><circle cx="410.8" cy="675.3" r="3.3"/><circle cx="319" cy="743.8" r="3.3"/><circle cx="405.9" cy="683.6" r="3.3"/><circle cx="193.7" cy="847.9" r="3.3"/><circle cx="333.2" cy="747.4" r="3.3"/><circle cx="290.5" cy="779.1" r="3.3"/><circle cx="315.3" cy="760.2" r="3.3"/><circle cx="344.2" cy="729.4" r="3.3"/><circle cx="191.8" cy="838.4" r="3.3"/><circle cx="176" cy="847.6" r="3.3"/><circle cx="169.2" cy="847" r="3.3"/><circle cx="212" cy="806.8" r="3.3"/><circle cx="471" cy="650.1" r="3.3"/><circle cx="254.6" cy="800.5" r="3.3"/><circle cx="333.4" cy="713.8" r="3.3"/><circle cx="443.4" cy="663.4" r="3.3"/><circle cx="224.1" cy="836.3" r="3.3"/><circle cx="208.7" cy="828.1" r="3.3"/><circle cx="489.7" cy="624.6" r="3.3"/><circle cx="239.1" cy="805.9" r="3.3"/><circle cx="374.7" cy="703.4" r="3.3"/><circle cx="164.3" cy="847.1" r="3.3"/><circle cx="254.1" cy="787.3" r="3.3"/><circle cx="371.4" cy="713.7" r="3.3"/><circle cx="277.2" cy="792.9" r="3.3"/><circle cx="156.8" cy="844.6" r="3.3"/><circle cx="222.9" cy="823.4" r="3.3"/><circle cx="516.3" cy="596.8" r="3.3"/><circle cx="229.8" cy="807" r="3.3"/><circle cx="235.2" cy="808.7" r="3.3"/><circle cx="484.6" cy="615" r="3.3"/><circle cx="292.4" cy="773.3" r="3.3"/><circle cx="494.9" cy="603.8" r="3.3"/><circle cx="201.5" cy="812.9" r="3.3"/><circle cx="445.7" cy="668" r="3.3"/><circle cx="172.3" cy="852.9" r="3.3"/><circle cx="375.8" cy="713.2" r="3.3"/><circle cx="346.2" cy="730.5" r="3.3"/><circle cx="206.6" cy="844.6" r="3.3"/><circle cx="487.2" cy="610.3" r="3.3"/><circle cx="319.5" cy="748.7" r="3.3"/><circle cx="307.5" cy="743" r="3.3"/><circle cx="332.2" cy="743.8" r="3.3"/><circle cx="287.9" cy="773.3" r="3.3"/><circle cx="432.5" cy="667.3" r="3.3"/><circle cx="446" cy="655.1" r="3.3"/><circle cx="386.3" cy="708" r="3.3"/><circle cx="306.3" cy="762.6" r="3.3"/><circle cx="170.5" cy="862.3" r="3.3"/><circle cx="441.5" cy="640.5" r="3.3"/><circle cx="158.1" cy="853.8" r="3.3"/><circle cx="298.4" cy="773.8" r="3.3"/><circle cx="453.6" cy="631.1" r="3.3"/><circle cx="524.1" cy="578.6" r="3.3"/><circle cx="493.1" cy="598.2" r="3.3"/><circle cx="373.4" cy="689.7" r="3.3"/><circle cx="298.5" cy="762.2" r="3.3"/><circle cx="478.7" cy="633" r="3.3"/><circle cx="166.4" cy="853" r="3.3"/><circle cx="217" cy="820.8" r="3.3"/><circle cx="169.8" cy="856.8" r="3.3"/><circle cx="208.4" cy="843.4" r="3.3"/><circle cx="520.7" cy="589.9" r="3.3"/><circle cx="186.7" cy="851.4" r="3.3"/><circle cx="319.8" cy="753.1" r="3.3"/><circle cx="535.8" cy="579.3" r="3.3"/><circle cx="272.1" cy="786.7" r="3.3"/><circle cx="477.2" cy="632.7" r="3.3"/><circle cx="360.6" cy="714.9" r="3.3"/><circle cx="327.3" cy="754.5" r="3.3"/><circle cx="229.9" cy="824.5" r="3.3"/><circle cx="489" cy="624.4" r="3.3"/><circle cx="478.9" cy="614.2" r="3.3"/><circle cx="366.5" cy="718.1" r="3.3"/><circle cx="425.8" cy="648.9" r="3.3"/><circle cx="293.4" cy="769.7" r="3.3"/><circle cx="456.2" cy="640.6" r="3.3"/><circle cx="171.3" cy="852.9" r="3.3"/><circle cx="238.4" cy="808.8" r="3.3"/><circle cx="246" cy="801.6" r="3.3"/><circle cx="231.4" cy="826.6" r="3.3"/><circle cx="398" cy="699.8" r="3.3"/><circle cx="486.1" cy="628.1" r="3.3"/><circle cx="242.6" cy="821.5" r="3.3"/><circle cx="452.6" cy="649.7" r="3.3"/><circle cx="407.1" cy="681.5" r="3.3"/><circle cx="431.6" cy="673.2" r="3.3"/><circle cx="197" cy="821.9" r="3.3"/><circle cx="324.4" cy="715.3" r="3.3"/><circle cx="319" cy="754.1" r="3.3"/><circle cx="401.7" cy="695" r="3.3"/><circle cx="500" cy="601.6" r="3.3"/><circle cx="404.1" cy="686.8" r="3.3"/><circle cx="484.3" cy="622.6" r="3.3"/><circle cx="413.8" cy="678" r="3.3"/><circle cx="465.7" cy="639.9" r="3.3"/><circle cx="239.7" cy="790.1" r="3.3"/><circle cx="395.9" cy="676.6" r="3.3"/><circle cx="200.1" cy="823.2" r="3.3"/><circle cx="267.9" cy="797" r="3.3"/><circle cx="425.9" cy="664.7" r="3.3"/><circle cx="212.4" cy="834.2" r="3.3"/><circle cx="365.6" cy="705.9" r="3.3"/><circle cx="454.4" cy="637.8" r="3.3"/><circle cx="470.6" cy="630.8" r="3.3"/><circle cx="335" cy="744.3" r="3.3"/><circle cx="276.8" cy="785.4" r="3.3"/><circle cx="272.2" cy="766.1" r="3.3"/><circle cx="510.3" cy="602.2" r="3.3"/><circle cx="538.4" cy="557.6" r="3.3"/><circle cx="459" cy="655.5" r="3.3"/><circle cx="339.1" cy="742.5" r="3.3"/><circle cx="366.5" cy="704.5" r="3.3"/><circle cx="461.2" cy="629.6" r="3.3"/><circle cx="496.7" cy="613.4" r="3.3"/><circle cx="387.4" cy="698.5" r="3.3"/><circle cx="268.8" cy="793.8" r="3.3"/><circle cx="519" cy="585.5" r="3.3"/><circle cx="229.4" cy="828.5" r="3.3"/><circle cx="504.6" cy="600.7" r="3.3"/><circle cx="246.3" cy="797.9" r="3.3"/><circle cx="320.5" cy="731.7" r="3.3"/><circle cx="450.4" cy="651.2" r="3.3"/><circle cx="158" cy="858.8" r="3.3"/><circle cx="235" cy="812.5" r="3.3"/><circle cx="308.3" cy="741.3" r="3.3"/><circle cx="229.5" cy="812.7" r="3.3"/><circle cx="402.4" cy="685.6" r="3.3"/><circle cx="309.4" cy="757.7" r="3.3"/><circle cx="443.6" cy="666.5" r="3.3"/><circle cx="227.2" cy="837.3" r="3.3"/><circle cx="503.4" cy="599.4" r="3.3"/><circle cx="254.1" cy="801.7" r="3.3"/><circle cx="241.3" cy="786.8" r="3.3"/><circle cx="219.2" cy="828.5" r="3.3"/><circle cx="509" cy="605.5" r="3.3"/><circle cx="174.5" cy="857.4" r="3.3"/><circle cx="448.2" cy="654.7" r="3.3"/><circle cx="434.8" cy="673" r="3.3"/><circle cx="440.8" cy="663.7" r="3.3"/><circle cx="201" cy="821.4" r="3.3"/><circle cx="378.6" cy="705.1" r="3.3"/><circle cx="250.3" cy="809.7" r="3.3"/><circle cx="229" cy="824.9" r="3.3"/><circle cx="507.4" cy="613.1" r="3.3"/><circle cx="337.7" cy="749.7" r="3.3"/><circle cx="491.2" cy="615.9" r="3.3"/><circle cx="531.1" cy="576.3" r="3.3"/><circle cx="284.3" cy="787.5" r="3.3"/><circle cx="164.8" cy="838.7" r="3.3"/><circle cx="345.3" cy="724.3" r="3.3"/><circle cx="167.3" cy="848.4" r="3.3"/><circle cx="442.6" cy="656.4" r="3.3"/><circle cx="241.1" cy="817.1" r="3.3"/><circle cx="243.9" cy="810.1" r="3.3"/><circle cx="401.3" cy="674.2" r="3.3"/><circle cx="328" cy="746.3" r="3.3"/><circle cx="466.8" cy="618.3" r="3.3"/><circle cx="527.9" cy="579.3" r="3.3"/><circle cx="219.4" cy="809.9" r="3.3"/><circle cx="183.4" cy="865.2" r="3.3"/><circle cx="472.9" cy="629.1" r="3.3"/><circle cx="492.4" cy="610.9" r="3.3"/><circle cx="327.2" cy="753.9" r="3.3"/><circle cx="462.6" cy="645.1" r="3.3"/><circle cx="477.7" cy="616.7" r="3.3"/><circle cx="186.7" cy="848.2" r="3.3"/><circle cx="419.3" cy="672.9" r="3.3"/><circle cx="269.3" cy="798.2" r="3.3"/><circle cx="394" cy="696.8" r="3.3"/><circle cx="417.3" cy="671.7" r="3.3"/><circle cx="192" cy="852.7" r="3.3"/><circle cx="246.9" cy="801.5" r="3.3"/><circle cx="337.3" cy="755.7" r="3.3"/><circle cx="345.8" cy="733.7" r="3.3"/><circle cx="182.5" cy="846.8" r="3.3"/><circle cx="343.4" cy="743.1" r="3.3"/><circle cx="225.3" cy="834.5" r="3.3"/><circle cx="321.1" cy="744.7" r="3.3"/><circle cx="373.9" cy="708.8" r="3.3"/><circle cx="395.6" cy="699.1" r="3.3"/><circle cx="446.9" cy="637.7" r="3.3"/><circle cx="443.6" cy="664.5" r="3.3"/><circle cx="265.4" cy="792.1" r="3.3"/><circle cx="536.3" cy="573.9" r="3.3"/><circle cx="486" cy="626.3" r="3.3"/><circle cx="476.5" cy="637.5" r="3.3"/><circle cx="533.3" cy="572.8" r="3.3"/><circle cx="279" cy="786.2" r="3.3"/><circle cx="398.9" cy="690.7" r="3.3"/><circle cx="281.2" cy="778.7" r="3.3"/><circle cx="325.8" cy="722.2" r="3.3"/><circle cx="164.3" cy="855.3" r="3.3"/><circle cx="260.6" cy="803" r="3.3"/><circle cx="162.9" cy="858.1" r="3.3"/><circle cx="327.3" cy="733" r="3.3"/><circle cx="498.7" cy="607.7" r="3.3"/><circle cx="365.9" cy="717.6" r="3.3"/><circle cx="431.8" cy="655.6" r="3.3"/><circle cx="269.4" cy="807.6" r="3.3"/><circle cx="173.7" cy="860.6" r="3.3"/><circle cx="324.4" cy="748.9" r="3.3"/><circle cx="465.6" cy="645.1" r="3.3"/><circle cx="386.5" cy="682.6" r="3.3"/><circle cx="329.1" cy="747.1" r="3.3"/><circle cx="510.4" cy="602.2" r="3.3"/><circle cx="510.4" cy="583.1" r="3.3"/><circle cx="528.1" cy="581.7" r="3.3"/><circle cx="182.9" cy="814.8" r="3.3"/><circle cx="314.3" cy="762" r="3.3"/><circle cx="185.9" cy="855.8" r="3.3"/><circle cx="350.2" cy="715.4" r="3.3"/><circle cx="296.9" cy="774.2" r="3.3"/><circle cx="518.6" cy="597.6" r="3.3"/><circle cx="300" cy="751" r="3.3"/><circle cx="508.7" cy="595.9" r="3.3"/><circle cx="212.8" cy="809.4" r="3.3"/><circle cx="183.5" cy="866" r="3.3"/><circle cx="283.3" cy="770" r="3.3"/><circle cx="326.4" cy="731.2" r="3.3"/><circle cx="494.8" cy="605.6" r="3.3"/><circle cx="419.2" cy="682.2" r="3.3"/><circle cx="324.6" cy="754.1" r="3.3"/><circle cx="169" cy="863" r="3.3"/><circle cx="198.1" cy="843.1" r="3.3"/><circle cx="306.7" cy="752.5" r="3.3"/><circle cx="382.5" cy="701.2" r="3.3"/><circle cx="317.9" cy="736.5" r="3.3"/><circle cx="164.9" cy="857.5" r="3.3"/><circle cx="459.8" cy="645.9" r="3.3"/><circle cx="172.5" cy="842.8" r="3.3"/><circle cx="283.7" cy="799" r="3.3"/><circle cx="480.5" cy="632.7" r="3.3"/><circle cx="338" cy="736.5" r="3.3"/><circle cx="349.5" cy="721.8" r="3.3"/><circle cx="348.4" cy="721" r="3.3"/><circle cx="482.6" cy="609.1" r="3.3"/><circle cx="304.8" cy="754.6" r="3.3"/><circle cx="272.2" cy="783.7" r="3.3"/><circle cx="416.7" cy="688.7" r="3.3"/><circle cx="291.3" cy="778" r="3.3"/><circle cx="294.9" cy="757.9" r="3.3"/><circle cx="499.5" cy="597.1" r="3.3"/><circle cx="203.5" cy="862.3" r="3.3"/><circle cx="464.5" cy="636.4" r="3.3"/><circle cx="429.6" cy="657.5" r="3.3"/><circle cx="355.8" cy="720.9" r="3.3"/><circle cx="161.1" cy="854.8" r="3.3"/><circle cx="197.5" cy="817.7" r="3.3"/><circle cx="227.7" cy="818.5" r="3.3"/><circle cx="280.4" cy="783.9" r="3.3"/><circle cx="445.7" cy="664.9" r="3.3"/><circle cx="359.9" cy="714.7" r="3.3"/><circle cx="479.5" cy="627.9" r="3.3"/><circle cx="463" cy="649.3" r="3.3"/><circle cx="536.1" cy="570.8" r="3.3"/><circle cx="170.5" cy="847" r="3.3"/><circle cx="484.6" cy="615.3" r="3.3"/><circle cx="172.8" cy="856.3" r="3.3"/><circle cx="319" cy="750.2" r="3.3"/><circle cx="318.3" cy="755.1" r="3.3"/><circle cx="256.8" cy="799.7" r="3.3"/><circle cx="372.8" cy="714.9" r="3.3"/><circle cx="526.6" cy="577.8" r="3.3"/><circle cx="210.7" cy="836.6" r="3.3"/><circle cx="382.4" cy="705.4" r="3.3"/><circle cx="371" cy="705.3" r="3.3"/><circle cx="468.4" cy="635" r="3.3"/><circle cx="410.1" cy="679.7" r="3.3"/><circle cx="227.9" cy="825" r="3.3"/><circle cx="326.8" cy="739.6" r="3.3"/><circle cx="343.6" cy="740.7" r="3.3"/><circle cx="511.2" cy="589.8" r="3.3"/><circle cx="329.6" cy="739.5" r="3.3"/><circle cx="253.6" cy="807.1" r="3.3"/><circle cx="404.5" cy="705.2" r="3.3"/><circle cx="519.7" cy="577.3" r="3.3"/><circle cx="279.3" cy="803.8" r="3.3"/><circle cx="179.4" cy="837.4" r="3.3"/><circle cx="231.2" cy="815.5" r="3.3"/><circle cx="288.4" cy="767.9" r="3.3"/><circle cx="380.6" cy="714.9" r="3.3"/><circle cx="460.8" cy="650.6" r="3.3"/><circle cx="533" cy="578.6" r="3.3"/><circle cx="203.8" cy="838.1" r="3.3"/><circle cx="489.1" cy="617.1" r="3.3"/><circle cx="478.8" cy="618.3" r="3.3"/><circle cx="239.3" cy="839.1" r="3.3"/><circle cx="227.1" cy="805.1" r="3.3"/><circle cx="190.9" cy="842.3" r="3.3"/><circle cx="266.6" cy="803.9" r="3.3"/><circle cx="272.2" cy="791.2" r="3.3"/><circle cx="171.5" cy="848" r="3.3"/><circle cx="446.8" cy="661.9" r="3.3"/><circle cx="281.4" cy="784.1" r="3.3"/><circle cx="500.1" cy="589.8" r="3.3"/><circle cx="225.8" cy="828.2" r="3.3"/><circle cx="449.1" cy="637" r="3.3"/><circle cx="181.8" cy="852.5" r="3.3"/><circle cx="533.1" cy="567.9" r="3.3"/><circle cx="347.8" cy="741.8" r="3.3"/><circle cx="209.8" cy="840.2" r="3.3"/><circle cx="298" cy="776.6" r="3.3"/><circle cx="183.6" cy="858.1" r="3.3"/><circle cx="180.9" cy="863.2" r="3.3"/><circle cx="162.3" cy="846.5" r="3.3"/><circle cx="367.9" cy="719.1" r="3.3"/><circle cx="348.6" cy="741.4" r="3.3"/><circle cx="176.3" cy="860" r="3.3"/><circle cx="420.7" cy="676.8" r="3.3"/><circle cx="356.9" cy="726.7" r="3.3"/><circle cx="249.9" cy="772.2" r="3.3"/><circle cx="385.7" cy="703.1" r="3.3"/><circle cx="246.5" cy="811.5" r="3.3"/><circle cx="449" cy="679" r="3.3"/><circle cx="181.5" cy="860.7" r="3.3"/><circle cx="160" cy="857" r="3.3"/><circle cx="229.2" cy="837.8" r="3.3"/><circle cx="458.3" cy="645" r="3.3"/><circle cx="251.9" cy="804.7" r="3.3"/><circle cx="512.6" cy="603" r="3.3"/><circle cx="363" cy="741.1" r="3.3"/><circle cx="357" cy="713.6" r="3.3"/><circle cx="231.5" cy="816" r="3.3"/><circle cx="434" cy="669.9" r="3.3"/><circle cx="444.5" cy="653.1" r="3.3"/><circle cx="277.9" cy="788.6" r="3.3"/><circle cx="408.5" cy="694.5" r="3.3"/><circle cx="216.5" cy="808.5" r="3.3"/><circle cx="374.3" cy="705.7" r="3.3"/><circle cx="380.4" cy="702.1" r="3.3"/><circle cx="459" cy="638" r="3.3"/><circle cx="357.1" cy="700.5" r="3.3"/><circle cx="384" cy="689.1" r="3.3"/><circle cx="383.9" cy="697.2" r="3.3"/><circle cx="488.5" cy="604.5" r="3.3"/><circle cx="177.4" cy="848.7" r="3.3"/><circle cx="516.1" cy="589.3" r="3.3"/><circle cx="285.3" cy="764.9" r="3.3"/><circle cx="464.4" cy="633.1" r="3.3"/><circle cx="508.7" cy="596.9" r="3.3"/><circle cx="236.7" cy="823.4" r="3.3"/><circle cx="417.1" cy="685.9" r="3.3"/><circle cx="176" cy="852.5" r="3.3"/><circle cx="400.2" cy="699.4" r="3.3"/><circle cx="192.9" cy="828.3" r="3.3"/><circle cx="242.4" cy="799.8" r="3.3"/><circle cx="371.3" cy="717.7" r="3.3"/><circle cx="212.9" cy="835" r="3.3"/><circle cx="398.5" cy="677.5" r="3.3"/><circle cx="162.5" cy="863.8" r="3.3"/><circle cx="300.6" cy="762.6" r="3.3"/><circle cx="323.6" cy="761.2" r="3.3"/><circle cx="300.5" cy="773" r="3.3"/><circle cx="268.5" cy="801.9" r="3.3"/><circle cx="520.4" cy="584.2" r="3.3"/><circle cx="257.7" cy="810.8" r="3.3"/><circle cx="416.7" cy="693.3" r="3.3"/><circle cx="307.9" cy="751.4" r="3.3"/><circle cx="537.3" cy="569.7" r="3.3"/><circle cx="472.4" cy="639.1" r="3.3"/><circle cx="486.9" cy="619.1" r="3.3"/><circle cx="231.6" cy="817.6" r="3.3"/><circle cx="219.8" cy="840.5" r="3.3"/><circle cx="497.2" cy="605.5" r="3.3"/><circle cx="506.4" cy="589.7" r="3.3"/><circle cx="520.9" cy="589.4" r="3.3"/><circle cx="446.6" cy="652.4" r="3.3"/><circle cx="245" cy="813.3" r="3.3"/><circle cx="469.4" cy="617.7" r="3.3"/><circle cx="346.8" cy="739.2" r="3.3"/><circle cx="503.2" cy="603.9" r="3.3"/><circle cx="513.3" cy="587.9" r="3.3"/><circle cx="287.9" cy="780" r="3.3"/><circle cx="346.6" cy="732" r="3.3"/><circle cx="321.5" cy="738.6" r="3.3"/><circle cx="232.3" cy="829" r="3.3"/><circle cx="487.9" cy="626.7" r="3.3"/><circle cx="464.1" cy="649.2" r="3.3"/><circle cx="316.1" cy="758.1" r="3.3"/><circle cx="512.1" cy="597" r="3.3"/><circle cx="242.7" cy="826.9" r="3.3"/><circle cx="250" cy="791.8" r="3.3"/><circle cx="183.7" cy="832.8" r="3.3"/><circle cx="326.6" cy="739.8" r="3.3"/><circle cx="349.5" cy="737.8" r="3.3"/><circle cx="287" cy="767.6" r="3.3"/><circle cx="380.6" cy="705.3" r="3.3"/><circle cx="412.2" cy="683.4" r="3.3"/><circle cx="303.2" cy="762.4" r="3.3"/><circle cx="167.7" cy="847.7" r="3.3"/><circle cx="359.1" cy="719.2" r="3.3"/><circle cx="334.9" cy="736.8" r="3.3"/><circle cx="400.3" cy="710.5" r="3.3"/><circle cx="485" cy="613.7" r="3.3"/><circle cx="161.1" cy="844.8" r="3.3"/><circle cx="290.6" cy="762.9" r="3.3"/><circle cx="456.3" cy="648.6" r="3.3"/><circle cx="158.5" cy="848.6" r="3.3"/><circle cx="260.6" cy="801.7" r="3.3"/><circle cx="427.1" cy="676.1" r="3.3"/><circle cx="222.3" cy="821.6" r="3.3"/><circle cx="234.8" cy="816.6" r="3.3"/><circle cx="241.3" cy="785" r="3.3"/><circle cx="494.8" cy="608.7" r="3.3"/><circle cx="413.3" cy="683.9" r="3.3"/><circle cx="195.7" cy="829.2" r="3.3"/><circle cx="323.7" cy="742.6" r="3.3"/><circle cx="218.7" cy="826.6" r="3.3"/><circle cx="444.9" cy="646.4" r="3.3"/><circle cx="254.4" cy="801.4" r="3.3"/><circle cx="400.5" cy="703" r="3.3"/><circle cx="418.9" cy="675.6" r="3.3"/><circle cx="474.8" cy="619.3" r="3.3"/><circle cx="479.8" cy="622" r="3.3"/><circle cx="417.6" cy="679.2" r="3.3"/><circle cx="177.7" cy="853" r="3.3"/><circle cx="281.5" cy="791.9" r="3.3"/><circle cx="172.8" cy="854.8" r="3.3"/><circle cx="368.8" cy="714.1" r="3.3"/><circle cx="510.5" cy="598.5" r="3.3"/><circle cx="523" cy="576.1" r="3.3"/><circle cx="242" cy="802" r="3.3"/><circle cx="329.4" cy="751.5" r="3.3"/><circle cx="405" cy="689.9" r="3.3"/><circle cx="172.5" cy="844.2" r="3.3"/><circle cx="251" cy="794.9" r="3.3"/><circle cx="180.5" cy="847.5" r="3.3"/><circle cx="321.1" cy="743.3" r="3.3"/><circle cx="516.5" cy="587.9" r="3.3"/><circle cx="314.1" cy="749.6" r="3.3"/><circle cx="313.9" cy="762" r="3.3"/><circle cx="510.5" cy="594.6" r="3.3"/><circle cx="163.4" cy="840.3" r="3.3"/><circle cx="309.2" cy="746.2" r="3.3"/><circle cx="192.7" cy="851.3" r="3.3"/><circle cx="239.9" cy="813.9" r="3.3"/><circle cx="206.5" cy="836.5" r="3.3"/><circle cx="390.7" cy="720.9" r="3.3"/><circle cx="234" cy="803.4" r="3.3"/><circle cx="512.7" cy="595.2" r="3.3"/><circle cx="405.2" cy="698.5" r="3.3"/><circle cx="372.9" cy="701.4" r="3.3"/><circle cx="415.4" cy="690.6" r="3.3"/><circle cx="484.8" cy="624.6" r="3.3"/><circle cx="158" cy="852.8" r="3.3"/><circle cx="384.9" cy="710.4" r="3.3"/><circle cx="424.6" cy="664.9" r="3.3"/><circle cx="493.1" cy="615.2" r="3.3"/><circle cx="186.7" cy="807.5" r="3.3"/><circle cx="241.6" cy="803.2" r="3.3"/><circle cx="317.3" cy="760.4" r="3.3"/><circle cx="491.4" cy="616.1" r="3.3"/><circle cx="506.2" cy="597.7" r="3.3"/><circle cx="159.3" cy="846.8" r="3.3"/><circle cx="383.6" cy="704.8" r="3.3"/><circle cx="264" cy="777.5" r="3.3"/><circle cx="405.3" cy="689.6" r="3.3"/><circle cx="471.8" cy="642.1" r="3.3"/><circle cx="493.1" cy="598.1" r="3.3"/><circle cx="389.1" cy="716.3" r="3.3"/><circle cx="365.6" cy="717.7" r="3.3"/><circle cx="471.1" cy="644.4" r="3.3"/><circle cx="338" cy="733.9" r="3.3"/><circle cx="190.8" cy="853.9" r="3.3"/><circle cx="440.8" cy="671.6" r="3.3"/><circle cx="198.1" cy="855" r="3.3"/><circle cx="497" cy="609.7" r="3.3"/><circle cx="428.3" cy="680.9" r="3.3"/><circle cx="243.8" cy="802.1" r="3.3"/><circle cx="374.8" cy="714.5" r="3.3"/><circle cx="485.6" cy="610.6" r="3.3"/><circle cx="182.1" cy="846.8" r="3.3"/><circle cx="427.5" cy="702.3" r="3.3"/><circle cx="399.5" cy="692.9" r="3.3"/><circle cx="326.7" cy="735.5" r="3.3"/><circle cx="251" cy="801.3" r="3.3"/><circle cx="457.2" cy="636" r="3.3"/><circle cx="215.5" cy="850" r="3.3"/><circle cx="327.6" cy="762.8" r="3.3"/><circle cx="329.2" cy="736.1" r="3.3"/><circle cx="328.4" cy="740.1" r="3.3"/><circle cx="432.7" cy="653.1" r="3.3"/><circle cx="390.7" cy="708.4" r="3.3"/><circle cx="199.7" cy="835.6" r="3.3"/><circle cx="278.2" cy="777.1" r="3.3"/><circle cx="509.5" cy="585.2" r="3.3"/><circle cx="174.2" cy="841.3" r="3.3"/><circle cx="521.4" cy="578.4" r="3.3"/><circle cx="401.8" cy="696.4" r="3.3"/><circle cx="227.4" cy="826.6" r="3.3"/><circle cx="428.3" cy="669.8" r="3.3"/><circle cx="216.7" cy="822.7" r="3.3"/><circle cx="219.5" cy="834.1" r="3.3"/><circle cx="228.9" cy="808.5" r="3.3"/><circle cx="419.4" cy="668.8" r="3.3"/><circle cx="193.9" cy="838.5" r="3.3"/><circle cx="478.9" cy="628.7" r="3.3"/><circle cx="271.3" cy="792" r="3.3"/><circle cx="473.5" cy="635.8" r="3.3"/><circle cx="483.1" cy="608.9" r="3.3"/><circle cx="290.4" cy="782.8" r="3.3"/><circle cx="183.6" cy="840.8" r="3.3"/><circle cx="533.2" cy="570.8" r="3.3"/><circle cx="385.3" cy="696.2" r="3.3"/><circle cx="184.7" cy="833.5" r="3.3"/><circle cx="427.7" cy="675.5" r="3.3"/><circle cx="488.1" cy="631.5" r="3.3"/><circle cx="514.1" cy="592.6" r="3.3"/><circle cx="178.9" cy="858.5" r="3.3"/><circle cx="210.7" cy="842.4" r="3.3"/><circle cx="368.1" cy="703.5" r="3.3"/><circle cx="369.1" cy="718.9" r="3.3"/><circle cx="448" cy="658.1" r="3.3"/><circle cx="510.9" cy="587.4" r="3.3"/><circle cx="199" cy="827.4" r="3.3"/><circle cx="461.9" cy="664" r="3.3"/><circle cx="161.3" cy="853" r="3.3"/><circle cx="467.2" cy="638.5" r="3.3"/><circle cx="465.3" cy="632.3" r="3.3"/><circle cx="340.9" cy="726.1" r="3.3"/><circle cx="194.8" cy="834" r="3.3"/><circle cx="265.4" cy="800.2" r="3.3"/><circle cx="370.4" cy="706.5" r="3.3"/><circle cx="369.1" cy="719.8" r="3.3"/><circle cx="337.2" cy="718.3" r="3.3"/><circle cx="341.8" cy="736.3" r="3.3"/><circle cx="272.9" cy="791.7" r="3.3"/><circle cx="421.3" cy="669.6" r="3.3"/><circle cx="242.2" cy="797.8" r="3.3"/><circle cx="209.5" cy="847.1" r="3.3"/><circle cx="429.1" cy="667.4" r="3.3"/><circle cx="359.9" cy="729.6" r="3.3"/><circle cx="168.3" cy="851.9" r="3.3"/><circle cx="399.6" cy="691.8" r="3.3"/><circle cx="323.2" cy="752.4" r="3.3"/><circle cx="344.4" cy="741.7" r="3.3"/><circle cx="345.8" cy="712.2" r="3.3"/><circle cx="276.9" cy="781.6" r="3.3"/><circle cx="175.7" cy="835.3" r="3.3"/><circle cx="184" cy="854.6" r="3.3"/><circle cx="391" cy="704.2" r="3.3"/><circle cx="195.2" cy="831.9" r="3.3"/><circle cx="320.9" cy="750.9" r="3.3"/><circle cx="480.3" cy="627.3" r="3.3"/><circle cx="241.8" cy="822" r="3.3"/><circle cx="248.6" cy="825" r="3.3"/><circle cx="495.8" cy="603.3" r="3.3"/><circle cx="470.7" cy="639.8" r="3.3"/><circle cx="413" cy="677.3" r="3.3"/><circle cx="305.3" cy="754.8" r="3.3"/><circle cx="281.6" cy="756" r="3.3"/><circle cx="341.4" cy="743" r="3.3"/><circle cx="289.7" cy="784.8" r="3.3"/><circle cx="282.8" cy="767.4" r="3.3"/><circle cx="325.5" cy="751.5" r="3.3"/><circle cx="218.6" cy="826.9" r="3.3"/><circle cx="507.6" cy="612" r="3.3"/><circle cx="488.5" cy="621.6" r="3.3"/><circle cx="419.1" cy="675.6" r="3.3"/><circle cx="259.7" cy="798.7" r="3.3"/><circle cx="167.6" cy="844.5" r="3.3"/><circle cx="199" cy="836.7" r="3.3"/><circle cx="475.6" cy="633.4" r="3.3"/><circle cx="467.2" cy="636.9" r="3.3"/><circle cx="194.3" cy="837.2" r="3.3"/><circle cx="175.2" cy="851.9" r="3.3"/><circle cx="458.1" cy="653.9" r="3.3"/><circle cx="287.3" cy="772.3" r="3.3"/><circle cx="358.9" cy="713" r="3.3"/><circle cx="468" cy="628.7" r="3.3"/><circle cx="249.9" cy="818.4" r="3.3"/><circle cx="279.7" cy="780.6" r="3.3"/><circle cx="228" cy="826.2" r="3.3"/><circle cx="284.7" cy="780" r="3.3"/><circle cx="470.7" cy="622.5" r="3.3"/><circle cx="168.5" cy="854.2" r="3.3"/><circle cx="503.5" cy="605" r="3.3"/><circle cx="458.4" cy="645.4" r="3.3"/><circle cx="458.7" cy="630.8" r="3.3"/><circle cx="526.9" cy="576.8" r="3.3"/><circle cx="311" cy="744.4" r="3.3"/><circle cx="503.5" cy="603.8" r="3.3"/><circle cx="426.8" cy="659.9" r="3.3"/><circle cx="443.6" cy="654.6" r="3.3"/><circle cx="344.7" cy="702.8" r="3.3"/><circle cx="388.5" cy="700.7" r="3.3"/><circle cx="446.6" cy="656.3" r="3.3"/><circle cx="375.6" cy="710" r="3.3"/><circle cx="373.6" cy="735.7" r="3.3"/><circle cx="260.9" cy="815.7" r="3.3"/><circle cx="526.7" cy="577.4" r="3.3"/><circle cx="221.7" cy="817.3" r="3.3"/><circle cx="488.6" cy="631.6" r="3.3"/><circle cx="321.2" cy="759.4" r="3.3"/><circle cx="339.9" cy="723.9" r="3.3"/><circle cx="220.4" cy="850.4" r="3.3"/><circle cx="382.6" cy="706.2" r="3.3"/><circle cx="363.1" cy="717.9" r="3.3"/><circle cx="337.7" cy="743.1" r="3.3"/><circle cx="480.8" cy="635.1" r="3.3"/><circle cx="353.6" cy="733.3" r="3.3"/><circle cx="511.7" cy="582.5" r="3.3"/><circle cx="350" cy="723.4" r="3.3"/><circle cx="467.8" cy="647.7" r="3.3"/><circle cx="272.3" cy="787.2" r="3.3"/><circle cx="328.2" cy="741.4" r="3.3"/><circle cx="254.1" cy="812.5" r="3.3"/><circle cx="460" cy="643.2" r="3.3"/><circle cx="462.5" cy="644.3" r="3.3"/><circle cx="268.6" cy="796.5" r="3.3"/><circle cx="189.6" cy="837" r="3.3"/><circle cx="323.9" cy="751" r="3.3"/><circle cx="240" cy="794.3" r="3.3"/><circle cx="250.8" cy="791.4" r="3.3"/><circle cx="283" cy="762.8" r="3.3"/><circle cx="422.5" cy="686.5" r="3.3"/><circle cx="526.2" cy="586.7" r="3.3"/><circle cx="475.8" cy="632" r="3.3"/><circle cx="415.1" cy="681.3" r="3.3"/><circle cx="524.9" cy="577.5" r="3.3"/><circle cx="180.6" cy="856.6" r="3.3"/><circle cx="361.2" cy="717.7" r="3.3"/><circle cx="222.3" cy="832.3" r="3.3"/><circle cx="305.8" cy="774.1" r="3.3"/><circle cx="237.2" cy="819.7" r="3.3"/><circle cx="187.7" cy="848" r="3.3"/><circle cx="178.1" cy="829.5" r="3.3"/><circle cx="418.3" cy="670.6" r="3.3"/><circle cx="207.3" cy="836.7" r="3.3"/><circle cx="389.4" cy="701.1" r="3.3"/><circle cx="492.8" cy="622.2" r="3.3"/><circle cx="175.9" cy="863.9" r="3.3"/><circle cx="345" cy="747.2" r="3.3"/><circle cx="521.5" cy="594.8" r="3.3"/><circle cx="385.9" cy="714.9" r="3.3"/><circle cx="317.8" cy="742" r="3.3"/><circle cx="321.6" cy="749.7" r="3.3"/><circle cx="417.8" cy="673.9" r="3.3"/><circle cx="413.7" cy="679.3" r="3.3"/><circle cx="445.5" cy="673.4" r="3.3"/><circle cx="476" cy="637.3" r="3.3"/><circle cx="336.7" cy="735.2" r="3.3"/><circle cx="319.9" cy="762" r="3.3"/><circle cx="250.7" cy="823.2" r="3.3"/><circle cx="503" cy="592.7" r="3.3"/><circle cx="529.7" cy="577.9" r="3.3"/><circle cx="325.3" cy="753.2" r="3.3"/><circle cx="351.6" cy="743.5" r="3.3"/><circle cx="492" cy="616.4" r="3.3"/><circle cx="350.8" cy="711.4" r="3.3"/><circle cx="288.2" cy="775.9" r="3.3"/><circle cx="221.2" cy="803.9" r="3.3"/><circle cx="251.3" cy="810" r="3.3"/><circle cx="284.6" cy="782.7" r="3.3"/><circle cx="524.6" cy="584.4" r="3.3"/><circle cx="344.1" cy="745.3" r="3.3"/><circle cx="523.6" cy="575.7" r="3.3"/><circle cx="241.4" cy="806.8" r="3.3"/><circle cx="204.2" cy="826.6" r="3.3"/><circle cx="281" cy="777.9" r="3.3"/><circle cx="406.8" cy="686.5" r="3.3"/><circle cx="259.9" cy="796.7" r="3.3"/><circle cx="224.5" cy="828.6" r="3.3"/><circle cx="398" cy="700.4" r="3.3"/><circle cx="209.3" cy="851.9" r="3.3"/><circle cx="306.2" cy="762" r="3.3"/><circle cx="477.6" cy="625" r="3.3"/><circle cx="167.4" cy="861.8" r="3.3"/><circle cx="282.2" cy="771.2" r="3.3"/><circle cx="394.7" cy="693.8" r="3.3"/><circle cx="323.8" cy="759.8" r="3.3"/><circle cx="263.9" cy="801.6" r="3.3"/><circle cx="389.3" cy="698.8" r="3.3"/><circle cx="246.8" cy="800.1" r="3.3"/><circle cx="297.4" cy="766.3" r="3.3"/><circle cx="463.6" cy="650.4" r="3.3"/><circle cx="337.1" cy="742.7" r="3.3"/><circle cx="519.5" cy="582.3" r="3.3"/><circle cx="392.6" cy="700.2" r="3.3"/><circle cx="198.4" cy="861.5" r="3.3"/><circle cx="156.3" cy="863" r="3.3"/><circle cx="429.3" cy="665.1" r="3.3"/><circle cx="528.2" cy="580.8" r="3.3"/><circle cx="511" cy="594.3" r="3.3"/><circle cx="350.9" cy="727.2" r="3.3"/><circle cx="275.5" cy="786.6" r="3.3"/><circle cx="210.7" cy="829.5" r="3.3"/><circle cx="299.3" cy="760" r="3.3"/><circle cx="366.5" cy="730" r="3.3"/><circle cx="487.1" cy="617.6" r="3.3"/><circle cx="354.9" cy="731.3" r="3.3"/><circle cx="239.3" cy="799.3" r="3.3"/><circle cx="236" cy="832.1" r="3.3"/><circle cx="207.8" cy="830.6" r="3.3"/><circle cx="351.5" cy="728.9" r="3.3"/><circle cx="288.1" cy="773.7" r="3.3"/><circle cx="182.6" cy="851.6" r="3.3"/><circle cx="223" cy="824.5" r="3.3"/><circle cx="490.2" cy="610.9" r="3.3"/><circle cx="516" cy="582.3" r="3.3"/><circle cx="535.1" cy="573.9" r="3.3"/><circle cx="276.4" cy="783.6" r="3.3"/><circle cx="287.7" cy="759.8" r="3.3"/><circle cx="321.8" cy="751.2" r="3.3"/><circle cx="357.1" cy="735.3" r="3.3"/><circle cx="176.6" cy="847.9" r="3.3"/><circle cx="188" cy="835.8" r="3.3"/><circle cx="296.9" cy="754" r="3.3"/><circle cx="535.7" cy="578.9" r="3.3"/><circle cx="186.7" cy="851.5" r="3.3"/><circle cx="191.4" cy="864.3" r="3.3"/><circle cx="432.7" cy="656.2" r="3.3"/><circle cx="362" cy="706.8" r="3.3"/><circle cx="218.3" cy="820.2" r="3.3"/><circle cx="512.8" cy="592.4" r="3.3"/><circle cx="250.6" cy="812.9" r="3.3"/><circle cx="241.7" cy="800.7" r="3.3"/><circle cx="461.3" cy="654.3" r="3.3"/><circle cx="341.3" cy="740" r="3.3"/><circle cx="401.5" cy="689.5" r="3.3"/><circle cx="277.3" cy="797.5" r="3.3"/><circle cx="324.7" cy="744.7" r="3.3"/><circle cx="340.1" cy="734.3" r="3.3"/><circle cx="430.2" cy="661.9" r="3.3"/><circle cx="328.3" cy="757.9" r="3.3"/><circle cx="520.2" cy="584.7" r="3.3"/><circle cx="423.9" cy="667.9" r="3.3"/><circle cx="457.6" cy="648.4" r="3.3"/><circle cx="226.1" cy="826.2" r="3.3"/><circle cx="222.6" cy="828.1" r="3.3"/><circle cx="374.7" cy="701.9" r="3.3"/><circle cx="261.3" cy="809.3" r="3.3"/><circle cx="510.2" cy="594.6" r="3.3"/><circle cx="223.6" cy="835.3" r="3.3"/><circle cx="227.7" cy="823.9" r="3.3"/><circle cx="393.8" cy="708.6" r="3.3"/><circle cx="408.7" cy="680.7" r="3.3"/><circle cx="192.7" cy="850" r="3.3"/><circle cx="354.3" cy="737.1" r="3.3"/><circle cx="346.3" cy="731" r="3.3"/><circle cx="486.7" cy="611.5" r="3.3"/><circle cx="460.5" cy="642" r="3.3"/><circle cx="213.7" cy="837.7" r="3.3"/><circle cx="503.3" cy="615.3" r="3.3"/><circle cx="351.4" cy="727" r="3.3"/><circle cx="483.7" cy="614.4" r="3.3"/><circle cx="359.5" cy="719.4" r="3.3"/><circle cx="254.3" cy="805.5" r="3.3"/><circle cx="315.8" cy="760.7" r="3.3"/><circle cx="157.8" cy="853.7" r="3.3"/><circle cx="234.6" cy="816.8" r="3.3"/><circle cx="307.6" cy="756.5" r="3.3"/><circle cx="309.6" cy="753.4" r="3.3"/><circle cx="426.3" cy="650.3" r="3.3"/><circle cx="368.9" cy="723.7" r="3.3"/><circle cx="499.4" cy="611.3" r="3.3"/><circle cx="343.8" cy="729.3" r="3.3"/><circle cx="207.8" cy="826.5" r="3.3"/><circle cx="433.6" cy="670.9" r="3.3"/><circle cx="354.1" cy="728.6" r="3.3"/><circle cx="192.8" cy="837.5" r="3.3"/><circle cx="391.9" cy="710.9" r="3.3"/><circle cx="178.8" cy="840.7" r="3.3"/><circle cx="291.9" cy="782.7" r="3.3"/><circle cx="226.1" cy="813.5" r="3.3"/><circle cx="419.2" cy="690" r="3.3"/><circle cx="215.5" cy="828" r="3.3"/><circle cx="222.5" cy="827.9" r="3.3"/><circle cx="167.5" cy="860.5" r="3.3"/><circle cx="221.6" cy="823.4" r="3.3"/><circle cx="405.1" cy="685.1" r="3.3"/><circle cx="349.1" cy="745" r="3.3"/><circle cx="163.1" cy="861.2" r="3.3"/><circle cx="214.7" cy="824.6" r="3.3"/><circle cx="181.7" cy="850.5" r="3.3"/><circle cx="263.2" cy="779.1" r="3.3"/><circle cx="469.4" cy="628.4" r="3.3"/><circle cx="467.6" cy="644.2" r="3.3"/><circle cx="486.7" cy="615.4" r="3.3"/><circle cx="484.2" cy="615.5" r="3.3"/><circle cx="292.5" cy="796.8" r="3.3"/><circle cx="218" cy="825.1" r="3.3"/><circle cx="386.6" cy="708" r="3.3"/><circle cx="380.3" cy="697.3" r="3.3"/><circle cx="379.7" cy="707.7" r="3.3"/><circle cx="429.2" cy="687.3" r="3.3"/><circle cx="203.8" cy="849.1" r="3.3"/><circle cx="396.2" cy="697.7" r="3.3"/><circle cx="471.2" cy="637.4" r="3.3"/><circle cx="459.4" cy="662.4" r="3.3"/><circle cx="366.3" cy="744" r="3.3"/><circle cx="366.4" cy="718.6" r="3.3"/><circle cx="507.5" cy="604.6" r="3.3"/><circle cx="337.8" cy="750" r="3.3"/><circle cx="165.6" cy="849.5" r="3.3"/><circle cx="202.7" cy="824.5" r="3.3"/><circle cx="519.9" cy="588.8" r="3.3"/><circle cx="474.5" cy="626.2" r="3.3"/><circle cx="175.1" cy="852" r="3.3"/><circle cx="277.7" cy="765.2" r="3.3"/><circle cx="363.1" cy="720.1" r="3.3"/><circle cx="337.3" cy="729.3" r="3.3"/><circle cx="263.5" cy="805.7" r="3.3"/><circle cx="382.6" cy="708.1" r="3.3"/><circle cx="498.9" cy="610.5" r="3.3"/><circle cx="243" cy="827" r="3.3"/><circle cx="271.4" cy="783" r="3.3"/><circle cx="232.5" cy="814.9" r="3.3"/><circle cx="293.7" cy="759.9" r="3.3"/><circle cx="217.8" cy="826.2" r="3.3"/><circle cx="162.7" cy="847.3" r="3.3"/><circle cx="508.3" cy="597.9" r="3.3"/><circle cx="298.5" cy="769.2" r="3.3"/><circle cx="254.4" cy="801.1" r="3.3"/><circle cx="350.6" cy="731.7" r="3.3"/><circle cx="242" cy="799.1" r="3.3"/><circle cx="209.9" cy="823.3" r="3.3"/><circle cx="503.3" cy="607.3" r="3.3"/><circle cx="373.9" cy="724.2" r="3.3"/><circle cx="271.6" cy="789.5" r="3.3"/><circle cx="505.2" cy="587.5" r="3.3"/><circle cx="342.5" cy="726.7" r="3.3"/><circle cx="528.7" cy="580.1" r="3.3"/><circle cx="283" cy="778.4" r="3.3"/><circle cx="471.3" cy="642.7" r="3.3"/><circle cx="526.9" cy="581.6" r="3.3"/><circle cx="408.7" cy="670.3" r="3.3"/><circle cx="261.2" cy="792.8" r="3.3"/><circle cx="407.6" cy="679.4" r="3.3"/><circle cx="527.1" cy="572" r="3.3"/><circle cx="249" cy="829.3" r="3.3"/><circle cx="198.7" cy="848.6" r="3.3"/><circle cx="481.9" cy="611.1" r="3.3"/><circle cx="291.8" cy="758.1" r="3.3"/><circle cx="450.1" cy="652.3" r="3.3"/><circle cx="331.6" cy="740.2" r="3.3"/><circle cx="227.4" cy="819.5" r="3.3"/><circle cx="355" cy="724.1" r="3.3"/><circle cx="270.9" cy="796.3" r="3.3"/><circle cx="250.3" cy="819" r="3.3"/><circle cx="480.3" cy="633.6" r="3.3"/><circle cx="417.1" cy="672.5" r="3.3"/><circle cx="277.4" cy="780.9" r="3.3"/><circle cx="190.7" cy="848.9" r="3.3"/><circle cx="297" cy="776.4" r="3.3"/><circle cx="342.8" cy="721.6" r="3.3"/><circle cx="251.5" cy="788.8" r="3.3"/><circle cx="417.7" cy="679.9" r="3.3"/><circle cx="442.2" cy="656.7" r="3.3"/><circle cx="425.3" cy="693.2" r="3.3"/><circle cx="467.5" cy="641.1" r="3.3"/><circle cx="170.8" cy="843.9" r="3.3"/><circle cx="490.8" cy="611.3" r="3.3"/><circle cx="229.9" cy="810.7" r="3.3"/><circle cx="184.3" cy="850.5" r="3.3"/><circle cx="531.8" cy="577" r="3.3"/><circle cx="504.9" cy="601.5" r="3.3"/><circle cx="345.9" cy="720" r="3.3"/><circle cx="529.6" cy="572.3" r="3.3"/><circle cx="306" cy="743.2" r="3.3"/><circle cx="406.7" cy="685.1" r="3.3"/><circle cx="241" cy="821.4" r="3.3"/><circle cx="272.9" cy="776.5" r="3.3"/><circle cx="265.1" cy="790.4" r="3.3"/><circle cx="352" cy="734.3" r="3.3"/><circle cx="501.3" cy="593.4" r="3.3"/><circle cx="282.8" cy="782" r="3.3"/><circle cx="327.5" cy="731.2" r="3.3"/><circle cx="176.6" cy="860.6" r="3.3"/><circle cx="241" cy="776.5" r="3.3"/><circle cx="171.6" cy="851.3" r="3.3"/><circle cx="237.4" cy="815.6" r="3.3"/><circle cx="463.1" cy="642.5" r="3.3"/><circle cx="490.2" cy="617.1" r="3.3"/><circle cx="217.4" cy="821.4" r="3.3"/><circle cx="188.6" cy="848" r="3.3"/><circle cx="286.7" cy="782.6" r="3.3"/><circle cx="260.6" cy="799.3" r="3.3"/><circle cx="205.8" cy="844.3" r="3.3"/><circle cx="174.1" cy="847.2" r="3.3"/><circle cx="328.6" cy="754" r="3.3"/><circle cx="249.3" cy="797.4" r="3.3"/><circle cx="411.8" cy="685.8" r="3.3"/><circle cx="451.4" cy="654.8" r="3.3"/><circle cx="300.6" cy="762.9" r="3.3"/><circle cx="320.2" cy="745.8" r="3.3"/><circle cx="250.5" cy="814.1" r="3.3"/><circle cx="230.3" cy="841.3" r="3.3"/><circle cx="213.1" cy="838.5" r="3.3"/><circle cx="390.1" cy="710" r="3.3"/><circle cx="254.6" cy="823.6" r="3.3"/><circle cx="505.9" cy="609.2" r="3.3"/><circle cx="441.7" cy="664.2" r="3.3"/><circle cx="400.9" cy="699.3" r="3.3"/><circle cx="264.5" cy="801.1" r="3.3"/><circle cx="391.2" cy="684.6" r="3.3"/><circle cx="357.9" cy="710.2" r="3.3"/><circle cx="364.1" cy="711.4" r="3.3"/><circle cx="512.2" cy="593.4" r="3.3"/><circle cx="350.1" cy="720" r="3.3"/><circle cx="373.7" cy="718.9" r="3.3"/><circle cx="308.2" cy="756.3" r="3.3"/><circle cx="184.4" cy="835.7" r="3.3"/><circle cx="407.9" cy="682.6" r="3.3"/><circle cx="379.4" cy="713" r="3.3"/><circle cx="443.7" cy="656.9" r="3.3"/><circle cx="162.8" cy="852.8" r="3.3"/><circle cx="227.1" cy="811.3" r="3.3"/><circle cx="445.7" cy="649.8" r="3.3"/><circle cx="333" cy="725.9" r="3.3"/><circle cx="384" cy="713.2" r="3.3"/><circle cx="417.5" cy="679.6" r="3.3"/><circle cx="162.9" cy="858.6" r="3.3"/><circle cx="368.3" cy="698.8" r="3.3"/><circle cx="424.8" cy="676.3" r="3.3"/><circle cx="315.7" cy="756.7" r="3.3"/><circle cx="271.5" cy="782.4" r="3.3"/><circle cx="469.8" cy="638.8" r="3.3"/><circle cx="216" cy="829" r="3.3"/><circle cx="320.7" cy="745.2" r="3.3"/><circle cx="409.5" cy="686.7" r="3.3"/><circle cx="435.3" cy="660.3" r="3.3"/><circle cx="519.4" cy="592.2" r="3.3"/><circle cx="262.6" cy="793.2" r="3.3"/><circle cx="451.8" cy="657.2" r="3.3"/><circle cx="247.6" cy="816.5" r="3.3"/><circle cx="249.8" cy="826.2" r="3.3"/><circle cx="368.5" cy="705.5" r="3.3"/><circle cx="296.4" cy="771.3" r="3.3"/><circle cx="284.8" cy="764.5" r="3.3"/><circle cx="424" cy="677.4" r="3.3"/><circle cx="264.2" cy="801.2" r="3.3"/><circle cx="340.2" cy="721.2" r="3.3"/><circle cx="459.8" cy="656.6" r="3.3"/><circle cx="492.4" cy="601.8" r="3.3"/><circle cx="199.5" cy="845.7" r="3.3"/><circle cx="333.4" cy="738.3" r="3.3"/><circle cx="467.7" cy="646.6" r="3.3"/><circle cx="305.2" cy="763.9" r="3.3"/><circle cx="339.7" cy="731.8" r="3.3"/><circle cx="430.6" cy="663.8" r="3.3"/><circle cx="457.8" cy="646.6" r="3.3"/><circle cx="295.9" cy="788.5" r="3.3"/><circle cx="486.2" cy="617.3" r="3.3"/><circle cx="359.1" cy="727" r="3.3"/><circle cx="405.8" cy="698.1" r="3.3"/><circle cx="245.5" cy="791.2" r="3.3"/><circle cx="486.1" cy="605.2" r="3.3"/><circle cx="215.3" cy="831.1" r="3.3"/><circle cx="247.2" cy="805.4" r="3.3"/><circle cx="167.6" cy="843.6" r="3.3"/><circle cx="277.2" cy="805" r="3.3"/><circle cx="333.6" cy="723.2" r="3.3"/><circle cx="505.5" cy="590.7" r="3.3"/><circle cx="272.8" cy="776.8" r="3.3"/><circle cx="506.9" cy="621.8" r="3.3"/><circle cx="424.5" cy="661.8" r="3.3"/><circle cx="221" cy="837.3" r="3.3"/><circle cx="238.9" cy="804.5" r="3.3"/><circle cx="173" cy="852.2" r="3.3"/><circle cx="425.4" cy="672.1" r="3.3"/><circle cx="233.4" cy="802" r="3.3"/><circle cx="350.3" cy="733" r="3.3"/><circle cx="508.2" cy="584.9" r="3.3"/><circle cx="400" cy="710.5" r="3.3"/><circle cx="382" cy="696" r="3.3"/><circle cx="175" cy="851.3" r="3.3"/><circle cx="499.3" cy="594.7" r="3.3"/><circle cx="248.4" cy="800.2" r="3.3"/><circle cx="251.3" cy="785.3" r="3.3"/><circle cx="217.6" cy="846.7" r="3.3"/><circle cx="369.5" cy="728.4" r="3.3"/><circle cx="367.1" cy="717.9" r="3.3"/><circle cx="220.3" cy="830.4" r="3.3"/><circle cx="510.5" cy="595.9" r="3.3"/><circle cx="262.9" cy="794.7" r="3.3"/><circle cx="330.5" cy="741.8" r="3.3"/><circle cx="343.5" cy="733.6" r="3.3"/><circle cx="223.1" cy="816.5" r="3.3"/><circle cx="513" cy="589.2" r="3.3"/><circle cx="514.8" cy="589.7" r="3.3"/><circle cx="287.2" cy="785.4" r="3.3"/><circle cx="421.2" cy="678.9" r="3.3"/><circle cx="370" cy="717" r="3.3"/><circle cx="472.5" cy="621.5" r="3.3"/><circle cx="349.8" cy="721.8" r="3.3"/><circle cx="445" cy="651.7" r="3.3"/><circle cx="386.4" cy="698.8" r="3.3"/><circle cx="393.8" cy="694.3" r="3.3"/><circle cx="366" cy="716.8" r="3.3"/><circle cx="507.9" cy="593.6" r="3.3"/><circle cx="240.1" cy="793.2" r="3.3"/><circle cx="176.7" cy="843.5" r="3.3"/><circle cx="395.1" cy="704.1" r="3.3"/><circle cx="280.2" cy="767" r="3.3"/><circle cx="496.6" cy="605.2" r="3.3"/><circle cx="337.5" cy="745.7" r="3.3"/><circle cx="279.6" cy="764.4" r="3.3"/><circle cx="534.8" cy="566.7" r="3.3"/><circle cx="405.9" cy="675.4" r="3.3"/><circle cx="203.5" cy="826" r="3.3"/><circle cx="477.7" cy="633.4" r="3.3"/><circle cx="229.3" cy="819.5" r="3.3"/><circle cx="406.9" cy="688.5" r="3.3"/><circle cx="176.5" cy="838.5" r="3.3"/><circle cx="498.1" cy="592.4" r="3.3"/><circle cx="204.8" cy="832.8" r="3.3"/><circle cx="326.1" cy="758.4" r="3.3"/><circle cx="253.6" cy="810.4" r="3.3"/><circle cx="221.9" cy="826.8" r="3.3"/><circle cx="182.5" cy="835.8" r="3.3"/><circle cx="523.4" cy="584" r="3.3"/><circle cx="300.7" cy="769.8" r="3.3"/><circle cx="194.3" cy="830.7" r="3.3"/><circle cx="340.1" cy="745.9" r="3.3"/><circle cx="229.6" cy="829.6" r="3.3"/><circle cx="311.5" cy="752.6" r="3.3"/><circle cx="227.3" cy="841" r="3.3"/><circle cx="209.3" cy="825.9" r="3.3"/><circle cx="332" cy="737" r="3.3"/><circle cx="195.7" cy="846.8" r="3.3"/><circle cx="254.9" cy="788.5" r="3.3"/><circle cx="387" cy="696.9" r="3.3"/><circle cx="405.1" cy="684.7" r="3.3"/><circle cx="295.4" cy="761.2" r="3.3"/><circle cx="507.2" cy="608.5" r="3.3"/><circle cx="472.1" cy="649.5" r="3.3"/><circle cx="376.5" cy="713.9" r="3.3"/><circle cx="522.7" cy="581" r="3.3"/><circle cx="231.6" cy="836.5" r="3.3"/><circle cx="274.6" cy="765.9" r="3.3"/><circle cx="486" cy="624.7" r="3.3"/><circle cx="537.8" cy="579.5" r="3.3"/><circle cx="367.5" cy="699" r="3.3"/><circle cx="161.1" cy="850.9" r="3.3"/><circle cx="226.4" cy="824.3" r="3.3"/><circle cx="400.9" cy="684" r="3.3"/><circle cx="508.5" cy="601.8" r="3.3"/><circle cx="398.7" cy="683.9" r="3.3"/><circle cx="210.9" cy="826.6" r="3.3"/><circle cx="286.7" cy="771.8" r="3.3"/><circle cx="218.3" cy="812.2" r="3.3"/><circle cx="410.3" cy="682.1" r="3.3"/><circle cx="172.8" cy="858.7" r="3.3"/><circle cx="183" cy="826.4" r="3.3"/><circle cx="233.8" cy="820.4" r="3.3"/><circle cx="403.7" cy="686.8" r="3.3"/><circle cx="315.3" cy="772.5" r="3.3"/><circle cx="185.4" cy="848.5" r="3.3"/><circle cx="521.4" cy="582.6" r="3.3"/><circle cx="276.7" cy="784.9" r="3.3"/><circle cx="384.7" cy="705.7" r="3.3"/><circle cx="433.2" cy="681.5" r="3.3"/><circle cx="421.4" cy="679.2" r="3.3"/><circle cx="454.9" cy="654" r="3.3"/><circle cx="510.8" cy="588.2" r="3.3"/><circle cx="334.5" cy="748.2" r="3.3"/><circle cx="280.1" cy="773.4" r="3.3"/><circle cx="232.6" cy="817.9" r="3.3"/><circle cx="434.3" cy="651.2" r="3.3"/><circle cx="468.4" cy="640.4" r="3.3"/><circle cx="228.8" cy="831.2" r="3.3"/><circle cx="523.8" cy="585.3" r="3.3"/><circle cx="344.1" cy="719" r="3.3"/><circle cx="404.4" cy="684.4" r="3.3"/><circle cx="386.3" cy="715" r="3.3"/><circle cx="318.5" cy="763.2" r="3.3"/><circle cx="234.2" cy="821.5" r="3.3"/><circle cx="465" cy="646.7" r="3.3"/><circle cx="259" cy="804.6" r="3.3"/><circle cx="328.7" cy="744.7" r="3.3"/><circle cx="223.2" cy="830.6" r="3.3"/><circle cx="404.5" cy="692.9" r="3.3"/><circle cx="198.7" cy="849.6" r="3.3"/><circle cx="466.3" cy="642" r="3.3"/><circle cx="191.8" cy="841.4" r="3.3"/><circle cx="235" cy="820.6" r="3.3"/><circle cx="328.5" cy="753.9" r="3.3"/><circle cx="156.1" cy="858.1" r="3.3"/><circle cx="505.7" cy="599.3" r="3.3"/><circle cx="443.7" cy="656.1" r="3.3"/><circle cx="281.7" cy="800.7" r="3.3"/><circle cx="272.7" cy="789.7" r="3.3"/><circle cx="349.8" cy="735.6" r="3.3"/><circle cx="308.5" cy="766.4" r="3.3"/><circle cx="362.9" cy="722.2" r="3.3"/><circle cx="531.5" cy="574.1" r="3.3"/><circle cx="373.7" cy="697.5" r="3.3"/><circle cx="414.4" cy="685.2" r="3.3"/><circle cx="230.1" cy="824.4" r="3.3"/><circle cx="476.9" cy="625.3" r="3.3"/><circle cx="442.5" cy="659.2" r="3.3"/><circle cx="157.2" cy="846.4" r="3.3"/><circle cx="387.1" cy="697.5" r="3.3"/><circle cx="393.8" cy="701.8" r="3.3"/><circle cx="180.5" cy="855.7" r="3.3"/><circle cx="492" cy="617.4" r="3.3"/><circle cx="211.7" cy="843.7" r="3.3"/><circle cx="222" cy="811.4" r="3.3"/><circle cx="216.1" cy="822.5" r="3.3"/><circle cx="163.9" cy="850.6" r="3.3"/><circle cx="203.5" cy="851.9" r="3.3"/><circle cx="443.9" cy="668.6" r="3.3"/><circle cx="429.9" cy="683.3" r="3.3"/><circle cx="269.5" cy="770.4" r="3.3"/><circle cx="457.9" cy="654.9" r="3.3"/><circle cx="399.5" cy="685.6" r="3.3"/><circle cx="337.6" cy="740.6" r="3.3"/><circle cx="505" cy="603.8" r="3.3"/><circle cx="385.9" cy="695" r="3.3"/><circle cx="428.3" cy="676.1" r="3.3"/><circle cx="244.8" cy="818.9" r="3.3"/><circle cx="182.1" cy="836.4" r="3.3"/><circle cx="392.2" cy="696.7" r="3.3"/><circle cx="451.1" cy="646.8" r="3.3"/><circle cx="223.8" cy="817" r="3.3"/><circle cx="411.6" cy="685.2" r="3.3"/><circle cx="371.9" cy="713.5" r="3.3"/><circle cx="299.4" cy="747.7" r="3.3"/><circle cx="226.8" cy="822.9" r="3.3"/><circle cx="293.2" cy="776.5" r="3.3"/><circle cx="462.7" cy="641.7" r="3.3"/><circle cx="161.2" cy="849.3" r="3.3"/><circle cx="422.9" cy="675.1" r="3.3"/><circle cx="475.3" cy="623.9" r="3.3"/><circle cx="366.9" cy="716.8" r="3.3"/><circle cx="379.1" cy="707.3" r="3.3"/><circle cx="299.6" cy="768.6" r="3.3"/><circle cx="161.6" cy="854.9" r="3.3"/><circle cx="497.1" cy="608.6" r="3.3"/><circle cx="484.1" cy="635" r="3.3"/><circle cx="484.5" cy="616.6" r="3.3"/><circle cx="181.1" cy="845.4" r="3.3"/><circle cx="503.3" cy="593.1" r="3.3"/><circle cx="450.9" cy="654.9" r="3.3"/><circle cx="197.4" cy="845.6" r="3.3"/><circle cx="193.1" cy="835.9" r="3.3"/><circle cx="182.3" cy="844.3" r="3.3"/><circle cx="405.6" cy="696.7" r="3.3"/><circle cx="261.8" cy="793.1" r="3.3"/><circle cx="216.3" cy="850" r="3.3"/><circle cx="505.9" cy="599" r="3.3"/><circle cx="458.6" cy="648.8" r="3.3"/><circle cx="226.9" cy="813.8" r="3.3"/><circle cx="170.1" cy="848.1" r="3.3"/><circle cx="189.6" cy="863.6" r="3.3"/><circle cx="248.2" cy="798.5" r="3.3"/><circle cx="441.9" cy="667.9" r="3.3"/><circle cx="290.5" cy="747.7" r="3.3"/><circle cx="463.4" cy="642.6" r="3.3"/><circle cx="241.2" cy="814.3" r="3.3"/><circle cx="434.4" cy="672.1" r="3.3"/><circle cx="332.5" cy="722.7" r="3.3"/><circle cx="493.5" cy="615.1" r="3.3"/><circle cx="468.1" cy="631.8" r="3.3"/><circle cx="452" cy="651.4" r="3.3"/><circle cx="409.6" cy="685" r="3.3"/><circle cx="446.5" cy="657.6" r="3.3"/><circle cx="426.1" cy="667.8" r="3.3"/><circle cx="351.1" cy="722.2" r="3.3"/><circle cx="356" cy="724.5" r="3.3"/><circle cx="289.3" cy="767.9" r="3.3"/><circle cx="432.7" cy="680.2" r="3.3"/><circle cx="418.7" cy="693" r="3.3"/><circle cx="413.2" cy="689" r="3.3"/><circle cx="366.2" cy="710.1" r="3.3"/><circle cx="336.3" cy="743.5" r="3.3"/><circle cx="259.9" cy="808.2" r="3.3"/><circle cx="516.9" cy="595.5" r="3.3"/><circle cx="537" cy="563.7" r="3.3"/><circle cx="172.8" cy="857.3" r="3.3"/><circle cx="368.5" cy="714.4" r="3.3"/><circle cx="404.6" cy="676.8" r="3.3"/><circle cx="473.8" cy="614.7" r="3.3"/><circle cx="400.5" cy="690" r="3.3"/><circle cx="220.2" cy="805.6" r="3.3"/><circle cx="429.4" cy="674.9" r="3.3"/><circle cx="456" cy="630.7" r="3.3"/><circle cx="256.9" cy="803.9" r="3.3"/><circle cx="525.3" cy="576.5" r="3.3"/><circle cx="169" cy="852.3" r="3.3"/><circle cx="358.3" cy="715.7" r="3.3"/><circle cx="208.9" cy="828.7" r="3.3"/><circle cx="399.3" cy="703" r="3.3"/><circle cx="524.2" cy="596.5" r="3.3"/><circle cx="256.9" cy="813.8" r="3.3"/><circle cx="488.7" cy="607.9" r="3.3"/><circle cx="441.3" cy="663.4" r="3.3"/><circle cx="469.4" cy="647.6" r="3.3"/><circle cx="538.4" cy="566.7" r="3.3"/><circle cx="367.2" cy="707.8" r="3.3"/><circle cx="475.9" cy="636.3" r="3.3"/><circle cx="468" cy="629.3" r="3.3"/><circle cx="412.2" cy="699.5" r="3.3"/><circle cx="330.8" cy="750.4" r="3.3"/><circle cx="401.1" cy="695.3" r="3.3"/><circle cx="272.4" cy="787.1" r="3.3"/><circle cx="274.5" cy="795.5" r="3.3"/><circle cx="265.9" cy="780.1" r="3.3"/><circle cx="174.9" cy="846.6" r="3.3"/><circle cx="240.1" cy="810" r="3.3"/><circle cx="412.5" cy="685.3" r="3.3"/><circle cx="285.5" cy="787.3" r="3.3"/><circle cx="301.4" cy="774.1" r="3.3"/><circle cx="420.2" cy="671.5" r="3.3"/><circle cx="301.3" cy="776.1" r="3.3"/><circle cx="469.1" cy="627.6" r="3.3"/><circle cx="215.6" cy="822.2" r="3.3"/><circle cx="483.3" cy="626.4" r="3.3"/><circle cx="424.1" cy="674.5" r="3.3"/><circle cx="179.8" cy="842.3" r="3.3"/><circle cx="519.3" cy="594.5" r="3.3"/><circle cx="492.8" cy="618.2" r="3.3"/><circle cx="201.6" cy="850.1" r="3.3"/><circle cx="330.7" cy="763.9" r="3.3"/><circle cx="505.9" cy="603.8" r="3.3"/><circle cx="329.5" cy="743.1" r="3.3"/><circle cx="306.5" cy="776.4" r="3.3"/><circle cx="323" cy="755.4" r="3.3"/><circle cx="167.1" cy="854.3" r="3.3"/><circle cx="466" cy="641.2" r="3.3"/><circle cx="217.9" cy="827.1" r="3.3"/><circle cx="342.3" cy="720.3" r="3.3"/><circle cx="508.3" cy="604.7" r="3.3"/><circle cx="465" cy="637.6" r="3.3"/><circle cx="182.5" cy="835.1" r="3.3"/><circle cx="376" cy="693.1" r="3.3"/><circle cx="345.1" cy="743.9" r="3.3"/><circle cx="179.1" cy="856.6" r="3.3"/><circle cx="528.2" cy="569.9" r="3.3"/><circle cx="208" cy="823.2" r="3.3"/><circle cx="477.5" cy="627" r="3.3"/><circle cx="204.7" cy="860.8" r="3.3"/><circle cx="303" cy="763.2" r="3.3"/><circle cx="449.4" cy="652.2" r="3.3"/><circle cx="155.6" cy="850.6" r="3.3"/><circle cx="286.7" cy="766.7" r="3.3"/><circle cx="360.7" cy="697.6" r="3.3"/><circle cx="431.6" cy="667.3" r="3.3"/><circle cx="521.5" cy="586" r="3.3"/><circle cx="228.7" cy="822.7" r="3.3"/><circle cx="391.3" cy="701" r="3.3"/><circle cx="506.8" cy="579.6" r="3.3"/><circle cx="291.6" cy="767.6" r="3.3"/><circle cx="328" cy="758" r="3.3"/><circle cx="421.1" cy="685.9" r="3.3"/><circle cx="497.3" cy="606.6" r="3.3"/><circle cx="423.6" cy="663.8" r="3.3"/><circle cx="320.3" cy="757.7" r="3.3"/><circle cx="293.3" cy="785.3" r="3.3"/><circle cx="357.3" cy="718.6" r="3.3"/><circle cx="433.5" cy="683.1" r="3.3"/><circle cx="390.9" cy="706" r="3.3"/><circle cx="341.4" cy="741.8" r="3.3"/><circle cx="212.9" cy="817.2" r="3.3"/><circle cx="346.3" cy="735.7" r="3.3"/><circle cx="414.9" cy="679.9" r="3.3"/><circle cx="480.1" cy="627.4" r="3.3"/><circle cx="385.9" cy="716.8" r="3.3"/><circle cx="421.3" cy="666.3" r="3.3"/><circle cx="238.8" cy="821.9" r="3.3"/><circle cx="201.5" cy="864.1" r="3.3"/><circle cx="322.5" cy="738.8" r="3.3"/><circle cx="243.2" cy="795.4" r="3.3"/><circle cx="412.3" cy="698.5" r="3.3"/><circle cx="224.4" cy="819.6" r="3.3"/><circle cx="191.9" cy="853.8" r="3.3"/><circle cx="300.5" cy="759.8" r="3.3"/><circle cx="292.5" cy="773.5" r="3.3"/><circle cx="198.1" cy="855.5" r="3.3"/><circle cx="209.4" cy="836.4" r="3.3"/><circle cx="476.6" cy="618" r="3.3"/><circle cx="167.7" cy="865.3" r="3.3"/><circle cx="166.7" cy="847.8" r="3.3"/><circle cx="407.3" cy="697.9" r="3.3"/><circle cx="305.9" cy="768.9" r="3.3"/><circle cx="349.2" cy="717.9" r="3.3"/><circle cx="433.6" cy="681.7" r="3.3"/><circle cx="205.9" cy="848.3" r="3.3"/><circle cx="262.2" cy="771.1" r="3.3"/><circle cx="434.5" cy="656.6" r="3.3"/><circle cx="288.8" cy="754" r="3.3"/><circle cx="520.7" cy="588.2" r="3.3"/><circle cx="360.2" cy="734.6" r="3.3"/><circle cx="245.8" cy="806.6" r="3.3"/><circle cx="386.6" cy="700" r="3.3"/><circle cx="307.8" cy="747.6" r="3.3"/><circle cx="439.9" cy="659.2" r="3.3"/><circle cx="214" cy="843.3" r="3.3"/><circle cx="493.2" cy="623.6" r="3.3"/><circle cx="522.2" cy="578.1" r="3.3"/><circle cx="452.7" cy="647" r="3.3"/><circle cx="262.3" cy="787.1" r="3.3"/><circle cx="289.3" cy="774.6" r="3.3"/><circle cx="489.9" cy="626.9" r="3.3"/><circle cx="368.9" cy="709" r="3.3"/><circle cx="264.9" cy="801.3" r="3.3"/><circle cx="269.1" cy="800.7" r="3.3"/><circle cx="408.3" cy="687.5" r="3.3"/><circle cx="260.9" cy="794.8" r="3.3"/><circle cx="208.2" cy="835.3" r="3.3"/><circle cx="386.1" cy="700.5" r="3.3"/><circle cx="370.4" cy="704.4" r="3.3"/><circle cx="158.5" cy="849.7" r="3.3"/><circle cx="526.3" cy="578.1" r="3.3"/><circle cx="163.9" cy="848.7" r="3.3"/><circle cx="359.5" cy="721.5" r="3.3"/><circle cx="491.7" cy="605" r="3.3"/><circle cx="412.5" cy="681.9" r="3.3"/><circle cx="199.8" cy="844.8" r="3.3"/><circle cx="314" cy="756.8" r="3.3"/><circle cx="386.2" cy="701.3" r="3.3"/><circle cx="483.8" cy="630.4" r="3.3"/><circle cx="477.2" cy="634.8" r="3.3"/><circle cx="420.4" cy="687.3" r="3.3"/><circle cx="269.2" cy="784.1" r="3.3"/><circle cx="410.3" cy="676.3" r="3.3"/><circle cx="353.1" cy="735.1" r="3.3"/><circle cx="430.9" cy="667.1" r="3.3"/><circle cx="249.8" cy="781.9" r="3.3"/><circle cx="310.3" cy="768.7" r="3.3"/><circle cx="201.8" cy="840.6" r="3.3"/><circle cx="288.2" cy="772.4" r="3.3"/><circle cx="437.6" cy="650.5" r="3.3"/><circle cx="408.3" cy="689.3" r="3.3"/><circle cx="412.1" cy="693.5" r="3.3"/><circle cx="159.1" cy="849.6" r="3.3"/><circle cx="381.8" cy="709" r="3.3"/><circle cx="492.7" cy="611.4" r="3.3"/><circle cx="174.2" cy="839.5" r="3.3"/><circle cx="213.2" cy="839.6" r="3.3"/><circle cx="337.4" cy="760.8" r="3.3"/><circle cx="273.6" cy="795.8" r="3.3"/><circle cx="240.4" cy="824.3" r="3.3"/><circle cx="165.8" cy="850.2" r="3.3"/><circle cx="537.7" cy="566.7" r="3.3"/><circle cx="221.9" cy="850.4" r="3.3"/><circle cx="441.2" cy="661.1" r="3.3"/><circle cx="353.5" cy="723.4" r="3.3"/><circle cx="372.4" cy="702.5" r="3.3"/><circle cx="248.5" cy="785.2" r="3.3"/><circle cx="301.9" cy="747.7" r="3.3"/><circle cx="242.7" cy="804.5" r="3.3"/><circle cx="516.7" cy="593.6" r="3.3"/><circle cx="349" cy="715.6" r="3.3"/><circle cx="359.3" cy="717.9" r="3.3"/><circle cx="394.3" cy="703.4" r="3.3"/><circle cx="525" cy="574.9" r="3.3"/><circle cx="224.2" cy="845.7" r="3.3"/><circle cx="526.2" cy="567.2" r="3.3"/><circle cx="422.7" cy="684.3" r="3.3"/><circle cx="258.2" cy="786.8" r="3.3"/><circle cx="200.7" cy="843.8" r="3.3"/><circle cx="197.1" cy="850" r="3.3"/><circle cx="159.9" cy="859.9" r="3.3"/><circle cx="198.3" cy="859.2" r="3.3"/><circle cx="481.9" cy="630.2" r="3.3"/><circle cx="260.8" cy="795.5" r="3.3"/><circle cx="505.7" cy="598.7" r="3.3"/><circle cx="424.2" cy="671.9" r="3.3"/><circle cx="380.5" cy="713.5" r="3.3"/><circle cx="425.2" cy="679.2" r="3.3"/><circle cx="469.3" cy="621.3" r="3.3"/><circle cx="194.1" cy="835.7" r="3.3"/><circle cx="275.9" cy="781.1" r="3.3"/><circle cx="356.3" cy="721.4" r="3.3"/><circle cx="522.1" cy="589.4" r="3.3"/><circle cx="494.4" cy="611.4" r="3.3"/><circle cx="431.3" cy="672.7" r="3.3"/><circle cx="479.7" cy="649.9" r="3.3"/><circle cx="322" cy="741.2" r="3.3"/><circle cx="497.9" cy="603" r="3.3"/><circle cx="494.8" cy="596" r="3.3"/><circle cx="292.2" cy="776.1" r="3.3"/><circle cx="338.3" cy="747.9" r="3.3"/><circle cx="470.6" cy="646.2" r="3.3"/><circle cx="204.3" cy="834.9" r="3.3"/><circle cx="393.4" cy="684.2" r="3.3"/><circle cx="343.7" cy="728.6" r="3.3"/><circle cx="215.8" cy="837.4" r="3.3"/><circle cx="394.6" cy="694.2" r="3.3"/><circle cx="477.7" cy="628.4" r="3.3"/><circle cx="301.8" cy="756.1" r="3.3"/><circle cx="305.1" cy="755" r="3.3"/><circle cx="378.6" cy="712" r="3.3"/><circle cx="460.5" cy="655" r="3.3"/><circle cx="386.1" cy="696.8" r="3.3"/><circle cx="295.3" cy="759.5" r="3.3"/><circle cx="191.7" cy="824.1" r="3.3"/><circle cx="420.9" cy="678.2" r="3.3"/><circle cx="503.9" cy="606.3" r="3.3"/><circle cx="495.8" cy="612.5" r="3.3"/><circle cx="382.1" cy="699" r="3.3"/><circle cx="403.1" cy="683.2" r="3.3"/><circle cx="306.8" cy="765.6" r="3.3"/><circle cx="530.9" cy="576.1" r="3.3"/><circle cx="365.8" cy="693.9" r="3.3"/><circle cx="303.2" cy="779.1" r="3.3"/><circle cx="349.3" cy="738.1" r="3.3"/><circle cx="479.4" cy="637.7" r="3.3"/><circle cx="397.4" cy="698.3" r="3.3"/><circle cx="368.4" cy="716.9" r="3.3"/><circle cx="344.5" cy="732" r="3.3"/><circle cx="358.1" cy="728.3" r="3.3"/><circle cx="219.7" cy="819.5" r="3.3"/><circle cx="347.2" cy="721.2" r="3.3"/><circle cx="202.5" cy="848.5" r="3.3"/><circle cx="343.2" cy="736.5" r="3.3"/><circle cx="163.7" cy="858.5" r="3.3"/><circle cx="344.5" cy="704.3" r="3.3"/><circle cx="309.4" cy="751.9" r="3.3"/><circle cx="531.5" cy="573.6" r="3.3"/><circle cx="432.7" cy="683.5" r="3.3"/><circle cx="316.5" cy="757" r="3.3"/><circle cx="297.8" cy="750.8" r="3.3"/><circle cx="286.5" cy="785.6" r="3.3"/><circle cx="197.8" cy="837.1" r="3.3"/><circle cx="280.1" cy="775" r="3.3"/><circle cx="171.8" cy="845.6" r="3.3"/><circle cx="372.2" cy="699.1" r="3.3"/><circle cx="348.3" cy="724.5" r="3.3"/><circle cx="197.8" cy="854.4" r="3.3"/><circle cx="462.7" cy="633.3" r="3.3"/><circle cx="258.8" cy="775.5" r="3.3"/><circle cx="279.7" cy="775.1" r="3.3"/><circle cx="205.3" cy="862.8" r="3.3"/><circle cx="518.6" cy="593.7" r="3.3"/><circle cx="279.3" cy="789.3" r="3.3"/><circle cx="464.3" cy="635" r="3.3"/><circle cx="387.4" cy="694.7" r="3.3"/><circle cx="406.3" cy="686.2" r="3.3"/><circle cx="458.2" cy="652.1" r="3.3"/><circle cx="220.3" cy="825.2" r="3.3"/><circle cx="530.2" cy="586" r="3.3"/><circle cx="422.5" cy="672.8" r="3.3"/><circle cx="373.6" cy="728.3" r="3.3"/><circle cx="345.3" cy="736.1" r="3.3"/><circle cx="451.6" cy="640.1" r="3.3"/><circle cx="498.2" cy="599.7" r="3.3"/><circle cx="397.7" cy="684.6" r="3.3"/><circle cx="365.2" cy="699.8" r="3.3"/><circle cx="223.7" cy="832.8" r="3.3"/><circle cx="372" cy="712" r="3.3"/><circle cx="451.8" cy="636.6" r="3.3"/><circle cx="371.6" cy="711.3" r="3.3"/><circle cx="457.8" cy="657.2" r="3.3"/><circle cx="261.1" cy="799.5" r="3.3"/><circle cx="384.4" cy="706.6" r="3.3"/><circle cx="204.9" cy="839.3" r="3.3"/><circle cx="461.5" cy="665.7" r="3.3"/><circle cx="486.5" cy="603.7" r="3.3"/><circle cx="386.2" cy="700.4" r="3.3"/><circle cx="467.2" cy="646.4" r="3.3"/><circle cx="186" cy="863.6" r="3.3"/><circle cx="248.9" cy="813.3" r="3.3"/><circle cx="163.3" cy="847.6" r="3.3"/><circle cx="284.9" cy="790" r="3.3"/><circle cx="385.3" cy="702.1" r="3.3"/><circle cx="158.6" cy="846.9" r="3.3"/><circle cx="221.2" cy="826.6" r="3.3"/><circle cx="495.1" cy="607.2" r="3.3"/><circle cx="189.8" cy="850.8" r="3.3"/><circle cx="302.1" cy="774.3" r="3.3"/><circle cx="530.7" cy="579.3" r="3.3"/><circle cx="203.7" cy="839.7" r="3.3"/><circle cx="379.8" cy="703" r="3.3"/><circle cx="261.7" cy="783.9" r="3.3"/><circle cx="432.6" cy="664.4" r="3.3"/><circle cx="410.4" cy="679" r="3.3"/><circle cx="460.1" cy="634.5" r="3.3"/><circle cx="199.4" cy="830.9" r="3.3"/><circle cx="460.5" cy="635.1" r="3.3"/><circle cx="442.3" cy="664.6" r="3.3"/><circle cx="339.5" cy="718.1" r="3.3"/><circle cx="416.4" cy="679.6" r="3.3"/><circle cx="245.9" cy="803.6" r="3.3"/><circle cx="374.3" cy="697.6" r="3.3"/><circle cx="401.8" cy="680.4" r="3.3"/><circle cx="522.2" cy="592.2" r="3.3"/><circle cx="464.1" cy="639.3" r="3.3"/><circle cx="244.2" cy="800.6" r="3.3"/><circle cx="523.3" cy="596.1" r="3.3"/><circle cx="278.4" cy="801.4" r="3.3"/><circle cx="328.2" cy="741" r="3.3"/><circle cx="272.1" cy="777.7" r="3.3"/><circle cx="429.9" cy="668.5" r="3.3"/><circle cx="451.6" cy="666.2" r="3.3"/><circle cx="284.8" cy="778.1" r="3.3"/><circle cx="370.5" cy="725.9" r="3.3"/><circle cx="467.3" cy="658.9" r="3.3"/><circle cx="228.9" cy="813.5" r="3.3"/><circle cx="373.9" cy="700" r="3.3"/><circle cx="430.7" cy="663.7" r="3.3"/><circle cx="348.6" cy="734.7" r="3.3"/><circle cx="291.8" cy="770.5" r="3.3"/><circle cx="508.5" cy="592.4" r="3.3"/><circle cx="419.9" cy="664.7" r="3.3"/><circle cx="255.4" cy="781.7" r="3.3"/><circle cx="359.2" cy="723" r="3.3"/><circle cx="461" cy="636.8" r="3.3"/><circle cx="424.4" cy="667.6" r="3.3"/><circle cx="158.4" cy="861.7" r="3.3"/><circle cx="365.9" cy="721.5" r="3.3"/><circle cx="351.7" cy="721.4" r="3.3"/><circle cx="467" cy="630.9" r="3.3"/><circle cx="263.4" cy="808.4" r="3.3"/><circle cx="357.3" cy="723.6" r="3.3"/><circle cx="168.1" cy="857.6" r="3.3"/><circle cx="270.2" cy="808.4" r="3.3"/><circle cx="388.1" cy="695.7" r="3.3"/><circle cx="340.4" cy="727.4" r="3.3"/><circle cx="423.3" cy="676.6" r="3.3"/><circle cx="493.7" cy="615.3" r="3.3"/><circle cx="358.6" cy="719.9" r="3.3"/><circle cx="362.3" cy="715.7" r="3.3"/><circle cx="429.5" cy="678.9" r="3.3"/><circle cx="364.7" cy="715.5" r="3.3"/><circle cx="277" cy="781.4" r="3.3"/><circle cx="486.6" cy="616.1" r="3.3"/><circle cx="428.3" cy="670.5" r="3.3"/><circle cx="391.5" cy="687.7" r="3.3"/><circle cx="217" cy="827.3" r="3.3"/><circle cx="462.4" cy="649" r="3.3"/><circle cx="297" cy="768.5" r="3.3"/><circle cx="402.1" cy="681.3" r="3.3"/><circle cx="504.1" cy="602.7" r="3.3"/><circle cx="491.9" cy="616" r="3.3"/><circle cx="184" cy="840.3" r="3.3"/><circle cx="306.7" cy="756.2" r="3.3"/><circle cx="275.7" cy="778.8" r="3.3"/><circle cx="332.5" cy="750.5" r="3.3"/><circle cx="307" cy="754.1" r="3.3"/><circle cx="527.4" cy="582.5" r="3.3"/><circle cx="237.9" cy="815" r="3.3"/><circle cx="303.8" cy="762.5" r="3.3"/><circle cx="206.9" cy="839.1" r="3.3"/><circle cx="492.4" cy="618.3" r="3.3"/><circle cx="286.1" cy="795.4" r="3.3"/><circle cx="171.5" cy="845" r="3.3"/><circle cx="343.3" cy="731.4" r="3.3"/><circle cx="262" cy="798.9" r="3.3"/><circle cx="500.3" cy="609.2" r="3.3"/><circle cx="219.8" cy="819" r="3.3"/><circle cx="271.5" cy="778.7" r="3.3"/><circle cx="366.9" cy="714.2" r="3.3"/><circle cx="319.2" cy="757.1" r="3.3"/><circle cx="518.7" cy="584.3" r="3.3"/><circle cx="365.3" cy="715.9" r="3.3"/><circle cx="254.4" cy="794.2" r="3.3"/><circle cx="482.8" cy="619.3" r="3.3"/><circle cx="538.9" cy="567.7" r="3.3"/><circle cx="279.2" cy="779.6" r="3.3"/><circle cx="524.4" cy="586.6" r="3.3"/><circle cx="448.3" cy="662.9" r="3.3"/><circle cx="408.1" cy="696.5" r="3.3"/><circle cx="331.8" cy="737.3" r="3.3"/><circle cx="264.8" cy="767.3" r="3.3"/><circle cx="535.7" cy="572.3" r="3.3"/><circle cx="474.7" cy="627.5" r="3.3"/><circle cx="159" cy="849.6" r="3.3"/><circle cx="242.9" cy="796.4" r="3.3"/><circle cx="429.9" cy="666" r="3.3"/><circle cx="402.5" cy="696.4" r="3.3"/><circle cx="316.7" cy="758.1" r="3.3"/><circle cx="435.8" cy="658.6" r="3.3"/><circle cx="340.2" cy="746.5" r="3.3"/><circle cx="521.5" cy="586.5" r="3.3"/><circle cx="456.3" cy="662.6" r="3.3"/><circle cx="291.8" cy="761.8" r="3.3"/><circle cx="339.6" cy="737.9" r="3.3"/><circle cx="348" cy="729.1" r="3.3"/><circle cx="458.3" cy="643.9" r="3.3"/><circle cx="164.4" cy="836.8" r="3.3"/><circle cx="199" cy="837.4" r="3.3"/><circle cx="348.4" cy="730.2" r="3.3"/><circle cx="436.2" cy="661.8" r="3.3"/><circle cx="438.6" cy="652.4" r="3.3"/><circle cx="379.1" cy="718.7" r="3.3"/><circle cx="425.9" cy="684.1" r="3.3"/><circle cx="414.9" cy="710.8" r="3.3"/><circle cx="289.7" cy="760.4" r="3.3"/><circle cx="244.2" cy="816.1" r="3.3"/><circle cx="221.7" cy="802.9" r="3.3"/><circle cx="173.3" cy="853.6" r="3.3"/><circle cx="470" cy="636.3" r="3.3"/><circle cx="303.6" cy="757.8" r="3.3"/><circle cx="274.2" cy="782.3" r="3.3"/><circle cx="159.2" cy="852.5" r="3.3"/><circle cx="241.3" cy="818.5" r="3.3"/><circle cx="278.4" cy="772" r="3.3"/><circle cx="268" cy="770.5" r="3.3"/><circle cx="494.1" cy="605" r="3.3"/><circle cx="530.3" cy="576.2" r="3.3"/><circle cx="293.5" cy="768.4" r="3.3"/><circle cx="166.8" cy="852.8" r="3.3"/><circle cx="217.5" cy="839.2" r="3.3"/><circle cx="210.9" cy="851.4" r="3.3"/><circle cx="297.6" cy="762.7" r="3.3"/><circle cx="391.1" cy="700.1" r="3.3"/><circle cx="309.6" cy="764.2" r="3.3"/><circle cx="351.1" cy="718.7" r="3.3"/><circle cx="454.4" cy="648" r="3.3"/><circle cx="449.9" cy="639.3" r="3.3"/><circle cx="311.8" cy="765.9" r="3.3"/><circle cx="432" cy="671.8" r="3.3"/><circle cx="198" cy="842.2" r="3.3"/><circle cx="517.9" cy="585.7" r="3.3"/><circle cx="352.1" cy="736.6" r="3.3"/><circle cx="199.4" cy="839.6" r="3.3"/><circle cx="375.7" cy="695.7" r="3.3"/><circle cx="281.2" cy="773.4" r="3.3"/><circle cx="179.6" cy="845.1" r="3.3"/><circle cx="469.6" cy="622.1" r="3.3"/><circle cx="238.3" cy="814.3" r="3.3"/><circle cx="211.8" cy="825.8" r="3.3"/><circle cx="404.1" cy="680.4" r="3.3"/><circle cx="451.6" cy="660.1" r="3.3"/><circle cx="536.4" cy="569.3" r="3.3"/><circle cx="333.9" cy="736.4" r="3.3"/><circle cx="504" cy="592.6" r="3.3"/><circle cx="328.5" cy="740" r="3.3"/><circle cx="345.9" cy="739.1" r="3.3"/><circle cx="167.4" cy="844.6" r="3.3"/><circle cx="250" cy="792.7" r="3.3"/><circle cx="198.8" cy="826" r="3.3"/><circle cx="367.5" cy="713.5" r="3.3"/><circle cx="225.7" cy="804.8" r="3.3"/><circle cx="324" cy="752.2" r="3.3"/><circle cx="262.5" cy="800.5" r="3.3"/><circle cx="452.1" cy="646.2" r="3.3"/><circle cx="178.1" cy="851.4" r="3.3"/><circle cx="200.8" cy="836.9" r="3.3"/><circle cx="408.4" cy="683.6" r="3.3"/><circle cx="471.8" cy="633.4" r="3.3"/><circle cx="191.9" cy="850.4" r="3.3"/><circle cx="470.2" cy="639.8" r="3.3"/><circle cx="362.8" cy="721.1" r="3.3"/><circle cx="482.7" cy="618.8" r="3.3"/><circle cx="319.1" cy="752.5" r="3.3"/><circle cx="289.7" cy="780.2" r="3.3"/><circle cx="253.5" cy="798.4" r="3.3"/><circle cx="435.6" cy="664.8" r="3.3"/><circle cx="175.5" cy="831.5" r="3.3"/><circle cx="420" cy="671.8" r="3.3"/><circle cx="232.8" cy="830.2" r="3.3"/><circle cx="348.3" cy="715.6" r="3.3"/><circle cx="420" cy="683.9" r="3.3"/><circle cx="429.8" cy="669.8" r="3.3"/><circle cx="399.1" cy="683.8" r="3.3"/><circle cx="300.8" cy="758.6" r="3.3"/><circle cx="292.5" cy="763.5" r="3.3"/><circle cx="454.9" cy="661.2" r="3.3"/><circle cx="206.9" cy="840.2" r="3.3"/><circle cx="367.9" cy="699.4" r="3.3"/><circle cx="528.1" cy="569.6" r="3.3"/><circle cx="278.3" cy="782.3" r="3.3"/><circle cx="459.5" cy="648.1" r="3.3"/><circle cx="527.6" cy="576.5" r="3.3"/><circle cx="385.3" cy="713.1" r="3.3"/><circle cx="439.9" cy="646.8" r="3.3"/><circle cx="182.3" cy="840.6" r="3.3"/><circle cx="351.2" cy="729.3" r="3.3"/><circle cx="366.6" cy="708.5" r="3.3"/><circle cx="258.2" cy="790.7" r="3.3"/><circle cx="477.7" cy="638.4" r="3.3"/><circle cx="204.1" cy="809.3" r="3.3"/><circle cx="382" cy="698.4" r="3.3"/><circle cx="254.6" cy="776.6" r="3.3"/><circle cx="403.5" cy="693.9" r="3.3"/><circle cx="261.4" cy="790.4" r="3.3"/><circle cx="180.1" cy="855.9" r="3.3"/><circle cx="426.2" cy="677.5" r="3.3"/><circle cx="195.1" cy="837.9" r="3.3"/><circle cx="378.8" cy="696" r="3.3"/><circle cx="292.8" cy="780.9" r="3.3"/><circle cx="522.8" cy="579" r="3.3"/><circle cx="351.1" cy="713.7" r="3.3"/><circle cx="315" cy="732.3" r="3.3"/><circle cx="493.8" cy="620.1" r="3.3"/><circle cx="404.6" cy="688" r="3.3"/><circle cx="479.4" cy="618.2" r="3.3"/><circle cx="158.4" cy="855.9" r="3.3"/><circle cx="182.6" cy="850.4" r="3.3"/><circle cx="237.1" cy="820.1" r="3.3"/><circle cx="220.2" cy="828.5" r="3.3"/><circle cx="513.5" cy="591.6" r="3.3"/><circle cx="406" cy="672.9" r="3.3"/><circle cx="476.8" cy="633.7" r="3.3"/><circle cx="196.1" cy="824.6" r="3.3"/><circle cx="421.8" cy="672.8" r="3.3"/><circle cx="350.4" cy="716.1" r="3.3"/><circle cx="399.8" cy="695.6" r="3.3"/><circle cx="456.9" cy="646.8" r="3.3"/><circle cx="501.5" cy="607.1" r="3.3"/><circle cx="510.6" cy="585.8" r="3.3"/><circle cx="517" cy="582.1" r="3.3"/><circle cx="192.9" cy="833.1" r="3.3"/><circle cx="208.7" cy="818.6" r="3.3"/><circle cx="370.6" cy="716.4" r="3.3"/><circle cx="453.8" cy="641.7" r="3.3"/><circle cx="476.7" cy="605.1" r="3.3"/><circle cx="416.2" cy="701.4" r="3.3"/><circle cx="448.6" cy="667.9" r="3.3"/><circle cx="230.4" cy="815.9" r="3.3"/><circle cx="250.4" cy="830.3" r="3.3"/><circle cx="525.7" cy="576.4" r="3.3"/><circle cx="369.9" cy="707.9" r="3.3"/><circle cx="321.5" cy="740.6" r="3.3"/><circle cx="221.8" cy="830.2" r="3.3"/><circle cx="510.9" cy="601.4" r="3.3"/><circle cx="366.5" cy="708.9" r="3.3"/><circle cx="503.1" cy="607.8" r="3.3"/><circle cx="377" cy="705" r="3.3"/><circle cx="403.5" cy="684.1" r="3.3"/><circle cx="515.2" cy="589.9" r="3.3"/><circle cx="204.6" cy="846.9" r="3.3"/><circle cx="243.8" cy="818.2" r="3.3"/><circle cx="157.9" cy="861.8" r="3.3"/><circle cx="237.2" cy="796.5" r="3.3"/><circle cx="203.6" cy="832.2" r="3.3"/><circle cx="334" cy="732" r="3.3"/><circle cx="258.2" cy="822.3" r="3.3"/><circle cx="186.4" cy="839.6" r="3.3"/></g><g fill="#1a1a1a" stroke="#fff" stroke-width="0.5"><circle cx="1294.6" cy="666.6" r="3.5"/><circle cx="1144.6" cy="788.8" r="3.5"/><circle cx="1382.4" cy="659.8" r="3.5"/><circle cx="1197.7" cy="746.2" r="3.5"/><circle cx="1475.5" cy="581.8" r="3.5"/><circle cx="1478.9" cy="594.2" r="3.5"/><circle cx="1114.7" cy="852.1" r="3.5"/><circle cx="1105" cy="838.4" r="3.5"/><circle cx="1228" cy="748.7" r="3.5"/><circle cx="1487.3" cy="581.3" r="3.5"/><circle cx="1484.2" cy="581.6" r="3.5"/><circle cx="1154.3" cy="854.7" r="3.5"/><circle cx="1283.5" cy="706.4" r="3.5"/><circle cx="1106.5" cy="845.2" r="3.5"/><circle cx="1107.7" cy="832.6" r="3.5"/><circle cx="1204" cy="776.8" r="3.5"/><circle cx="1170" cy="800.3" r="3.5"/><circle cx="1454" cy="579.7" r="3.5"/><circle cx="1148.1" cy="777.3" r="3.5"/><circle cx="1276.4" cy="683.8" r="3.5"/><circle cx="1232.7" cy="739.7" r="3.5"/><circle cx="1182.7" cy="742.3" r="3.5"/><circle cx="1387.5" cy="602.6" r="3.5"/><circle cx="1153.1" cy="790.2" r="3.5"/><circle cx="1488.3" cy="590.4" r="3.5"/><circle cx="1135.7" cy="822.2" r="3.5"/><circle cx="1112" cy="832.1" r="3.5"/><circle cx="1451.3" cy="604.5" r="3.5"/><circle cx="1456.2" cy="619.2" r="3.5"/><circle cx="1297.4" cy="694.8" r="3.5"/><circle cx="1327.4" cy="635.2" r="3.5"/><circle cx="1447.8" cy="592.6" r="3.5"/><circle cx="1371.3" cy="606.8" r="3.5"/><circle cx="1427.7" cy="610.8" r="3.5"/><circle cx="1281.9" cy="727.8" r="3.5"/><circle cx="1222.5" cy="790.5" r="3.5"/><circle cx="1448.7" cy="616.4" r="3.5"/><circle cx="1394" cy="613.2" r="3.5"/><circle cx="1248.7" cy="748.6" r="3.5"/><circle cx="1233.3" cy="735.5" r="3.5"/><circle cx="1266" cy="679.6" r="3.5"/><circle cx="1093.3" cy="855.8" r="3.5"/><circle cx="1455.6" cy="618.1" r="3.5"/><circle cx="1319.4" cy="708" r="3.5"/><circle cx="1419.9" cy="593.8" r="3.5"/><circle cx="1410.5" cy="637.9" r="3.5"/><circle cx="1095.3" cy="861.8" r="3.5"/><circle cx="1359.6" cy="689.8" r="3.5"/><circle cx="1295.4" cy="678.7" r="3.5"/><circle cx="1342.7" cy="635.1" r="3.5"/><circle cx="1186.4" cy="769.2" r="3.5"/><circle cx="1474.6" cy="575.3" r="3.5"/><circle cx="1235.6" cy="744.2" r="3.5"/><circle cx="1348.7" cy="678.2" r="3.5"/><circle cx="1386.7" cy="608.5" r="3.5"/><circle cx="1460.7" cy="599.2" r="3.5"/><circle cx="1184.7" cy="784" r="3.5"/><circle cx="1458.5" cy="606.5" r="3.5"/><circle cx="1452.8" cy="602.8" r="3.5"/><circle cx="1106.4" cy="829.1" r="3.5"/><circle cx="1347.7" cy="693.8" r="3.5"/><circle cx="1123.2" cy="857.7" r="3.5"/><circle cx="1342.2" cy="692.4" r="3.5"/><circle cx="1097.5" cy="855.3" r="3.5"/><circle cx="1304.9" cy="711.5" r="3.5"/><circle cx="1435.7" cy="620.8" r="3.5"/><circle cx="1333.1" cy="635.6" r="3.5"/><circle cx="1136.1" cy="823.5" r="3.5"/><circle cx="1239.2" cy="718.4" r="3.5"/><circle cx="1095.6" cy="846" r="3.5"/><circle cx="1232.5" cy="758.6" r="3.5"/><circle cx="1340.5" cy="696.6" r="3.5"/><circle cx="1162.8" cy="778.8" r="3.5"/><circle cx="1189.6" cy="742.9" r="3.5"/><circle cx="1412.3" cy="621.3" r="3.5"/><circle cx="1335.8" cy="658.8" r="3.5"/><circle cx="1126.1" cy="805.4" r="3.5"/><circle cx="1116.8" cy="811.4" r="3.5"/><circle cx="1109.9" cy="865.4" r="3.5"/><circle cx="1464.7" cy="602.1" r="3.5"/><circle cx="1439.4" cy="636.3" r="3.5"/><circle cx="1468" cy="588.4" r="3.5"/><circle cx="1312.9" cy="655.7" r="3.5"/><circle cx="1334.9" cy="715.7" r="3.5"/><circle cx="1355.4" cy="715.3" r="3.5"/><circle cx="1182.5" cy="793.3" r="3.5"/><circle cx="1203.7" cy="764.3" r="3.5"/><circle cx="1185.8" cy="723.3" r="3.5"/><circle cx="1304.8" cy="707.4" r="3.5"/><circle cx="1098.2" cy="849.1" r="3.5"/><circle cx="1241.1" cy="740.8" r="3.5"/><circle cx="1377.8" cy="636.1" r="3.5"/><circle cx="1465" cy="581.2" r="3.5"/><circle cx="1380.2" cy="640.6" r="3.5"/><circle cx="1263.2" cy="694.1" r="3.5"/><circle cx="1482.8" cy="584.3" r="3.5"/><circle cx="1460.8" cy="573.7" r="3.5"/><circle cx="1101.4" cy="852.1" r="3.5"/><circle cx="1287.4" cy="748.2" r="3.5"/><circle cx="1348.8" cy="643.2" r="3.5"/><circle cx="1431.3" cy="625.5" r="3.5"/><circle cx="1115.8" cy="840.4" r="3.5"/><circle cx="1464.4" cy="597.3" r="3.5"/><circle cx="1102.2" cy="861.4" r="3.5"/><circle cx="1172.1" cy="740.7" r="3.5"/><circle cx="1345.9" cy="693.5" r="3.5"/><circle cx="1356" cy="675.8" r="3.5"/><circle cx="1393.5" cy="618.4" r="3.5"/><circle cx="1167.3" cy="847.7" r="3.5"/><circle cx="1252.7" cy="729.2" r="3.5"/><circle cx="1171" cy="793" r="3.5"/><circle cx="1268.4" cy="724.2" r="3.5"/><circle cx="1098.5" cy="844.8" r="3.5"/><circle cx="1203.1" cy="769.8" r="3.5"/><circle cx="1336.5" cy="709.9" r="3.5"/><circle cx="1459.8" cy="601.4" r="3.5"/><circle cx="1131.6" cy="798.9" r="3.5"/><circle cx="1184.8" cy="728.1" r="3.5"/><circle cx="1244.8" cy="730.2" r="3.5"/><circle cx="1191.4" cy="760.5" r="3.5"/><circle cx="1470.2" cy="589.3" r="3.5"/><circle cx="1398.8" cy="653" r="3.5"/><circle cx="1465.7" cy="587.2" r="3.5"/><circle cx="1102.4" cy="865.9" r="3.5"/><circle cx="1382.1" cy="639.8" r="3.5"/><circle cx="1328.4" cy="695.2" r="3.5"/><circle cx="1156.6" cy="773.4" r="3.5"/><circle cx="1462.9" cy="592.2" r="3.5"/><circle cx="1355.5" cy="730.6" r="3.5"/><circle cx="1449.4" cy="591.9" r="3.5"/><circle cx="1315.3" cy="688.9" r="3.5"/><circle cx="1134.3" cy="825.5" r="3.5"/><circle cx="1211.9" cy="725.1" r="3.5"/><circle cx="1354.7" cy="702.8" r="3.5"/><circle cx="1162.1" cy="749.1" r="3.5"/><circle cx="1104.4" cy="842.6" r="3.5"/><circle cx="1225.7" cy="740.9" r="3.5"/><circle cx="1233.1" cy="712.2" r="3.5"/><circle cx="1452.2" cy="604.6" r="3.5"/><circle cx="1181.2" cy="756.4" r="3.5"/><circle cx="1237.5" cy="748.9" r="3.5"/><circle cx="1482.3" cy="582.1" r="3.5"/><circle cx="1435.9" cy="609.7" r="3.5"/><circle cx="1467.1" cy="599.8" r="3.5"/><circle cx="1256.1" cy="744.7" r="3.5"/><circle cx="1278.6" cy="724.4" r="3.5"/><circle cx="1473.6" cy="591.5" r="3.5"/><circle cx="1441.6" cy="592.9" r="3.5"/><circle cx="1122.1" cy="848" r="3.5"/><circle cx="1464.6" cy="586.9" r="3.5"/><circle cx="1483" cy="584.7" r="3.5"/><circle cx="1285.3" cy="731" r="3.5"/><circle cx="1474.6" cy="595" r="3.5"/><circle cx="1213" cy="765.1" r="3.5"/><circle cx="1201.1" cy="804.1" r="3.5"/><circle cx="1334.7" cy="681.4" r="3.5"/><circle cx="1475.1" cy="583.8" r="3.5"/><circle cx="1425.5" cy="650.5" r="3.5"/><circle cx="1471.8" cy="582.1" r="3.5"/><circle cx="1255.7" cy="764.4" r="3.5"/><circle cx="1475.9" cy="580.9" r="3.5"/><circle cx="1288.1" cy="697.9" r="3.5"/><circle cx="1457.9" cy="609.3" r="3.5"/><circle cx="1260.3" cy="704.4" r="3.5"/><circle cx="1340.8" cy="677.3" r="3.5"/><circle cx="1098.1" cy="844.3" r="3.5"/><circle cx="1096.1" cy="858.8" r="3.5"/><circle cx="1337.3" cy="709.3" r="3.5"/><circle cx="1285.4" cy="717.2" r="3.5"/><circle cx="1097.4" cy="851.2" r="3.5"/><circle cx="1227.1" cy="707.7" r="3.5"/><circle cx="1350.7" cy="675.5" r="3.5"/><circle cx="1399.6" cy="632.9" r="3.5"/><circle cx="1351.9" cy="659.8" r="3.5"/><circle cx="1475.5" cy="578.1" r="3.5"/><circle cx="1245.4" cy="719.5" r="3.5"/><circle cx="1095.7" cy="850.4" r="3.5"/><circle cx="1334" cy="687.6" r="3.5"/><circle cx="1368.4" cy="688.8" r="3.5"/><circle cx="1235.4" cy="685" r="3.5"/><circle cx="1139.8" cy="790" r="3.5"/><circle cx="1485.2" cy="585.5" r="3.5"/><circle cx="1324.8" cy="664.2" r="3.5"/><circle cx="1303" cy="685.4" r="3.5"/><circle cx="1468.4" cy="576.8" r="3.5"/><circle cx="1443.1" cy="606.3" r="3.5"/><circle cx="1379" cy="662.2" r="3.5"/><circle cx="1414.5" cy="615.8" r="3.5"/><circle cx="1460.3" cy="603.5" r="3.5"/><circle cx="1186.2" cy="735.9" r="3.5"/><circle cx="1439.3" cy="588.7" r="3.5"/><circle cx="1386.4" cy="630.2" r="3.5"/><circle cx="1118.4" cy="822" r="3.5"/><circle cx="1115.7" cy="827.8" r="3.5"/><circle cx="1338.7" cy="653.1" r="3.5"/><circle cx="1398.8" cy="625.7" r="3.5"/><circle cx="1112.6" cy="827.3" r="3.5"/><circle cx="1103.3" cy="840.4" r="3.5"/><circle cx="1287.3" cy="751.3" r="3.5"/><circle cx="1211.1" cy="790.4" r="3.5"/><circle cx="1190.7" cy="779.6" r="3.5"/><circle cx="1153.9" cy="798.3" r="3.5"/><circle cx="1269.4" cy="743" r="3.5"/><circle cx="1115" cy="822.7" r="3.5"/><circle cx="1286.3" cy="733.4" r="3.5"/><circle cx="1433.1" cy="621.4" r="3.5"/><circle cx="1207.6" cy="755.1" r="3.5"/><circle cx="1143.1" cy="786.5" r="3.5"/><circle cx="1220.2" cy="719.6" r="3.5"/><circle cx="1173.1" cy="770.1" r="3.5"/><circle cx="1237" cy="763.7" r="3.5"/><circle cx="1157.8" cy="807.1" r="3.5"/><circle cx="1237.6" cy="772.9" r="3.5"/><circle cx="1483" cy="588.7" r="3.5"/><circle cx="1477.1" cy="577.5" r="3.5"/><circle cx="1429.7" cy="590.6" r="3.5"/><circle cx="1257.1" cy="727.2" r="3.5"/><circle cx="1118.4" cy="844.8" r="3.5"/><circle cx="1465.5" cy="580" r="3.5"/><circle cx="1215.8" cy="795.9" r="3.5"/><circle cx="1300.5" cy="628.9" r="3.5"/><circle cx="1400.9" cy="615.8" r="3.5"/><circle cx="1201.4" cy="747.5" r="3.5"/><circle cx="1101" cy="856.9" r="3.5"/><circle cx="1443.2" cy="661.9" r="3.5"/><circle cx="1247.3" cy="743.6" r="3.5"/><circle cx="1463.6" cy="621.8" r="3.5"/><circle cx="1321.3" cy="666.5" r="3.5"/><circle cx="1452.9" cy="595.8" r="3.5"/><circle cx="1281" cy="750.9" r="3.5"/><circle cx="1292.6" cy="776.8" r="3.5"/><circle cx="1391.2" cy="651.6" r="3.5"/><circle cx="1424.2" cy="601" r="3.5"/><circle cx="1221.2" cy="766.7" r="3.5"/><circle cx="1198.7" cy="762.2" r="3.5"/><circle cx="1359.3" cy="631.6" r="3.5"/><circle cx="1437.4" cy="597.5" r="3.5"/><circle cx="1374.5" cy="634.5" r="3.5"/><circle cx="1300" cy="695.1" r="3.5"/><circle cx="1193.9" cy="776.9" r="3.5"/><circle cx="1274.1" cy="728.6" r="3.5"/><circle cx="1099.8" cy="849.7" r="3.5"/><circle cx="1137.4" cy="803.5" r="3.5"/><circle cx="1480.3" cy="577.4" r="3.5"/><circle cx="1132.1" cy="825.1" r="3.5"/><circle cx="1352.6" cy="635.1" r="3.5"/><circle cx="1323.8" cy="681.4" r="3.5"/><circle cx="1474.6" cy="590.7" r="3.5"/><circle cx="1248.1" cy="730.4" r="3.5"/><circle cx="1196" cy="840.2" r="3.5"/><circle cx="1480" cy="593.3" r="3.5"/><circle cx="1469.3" cy="596.1" r="3.5"/><circle cx="1408.6" cy="634.7" r="3.5"/><circle cx="1471.8" cy="576.7" r="3.5"/><circle cx="1351.6" cy="658.7" r="3.5"/><circle cx="1410" cy="645.7" r="3.5"/><circle cx="1253.8" cy="774" r="3.5"/><circle cx="1475.4" cy="578.4" r="3.5"/><circle cx="1359.3" cy="648.2" r="3.5"/><circle cx="1201.6" cy="800.7" r="3.5"/><circle cx="1325.2" cy="654" r="3.5"/><circle cx="1306.5" cy="750.7" r="3.5"/><circle cx="1101.2" cy="848.4" r="3.5"/><circle cx="1487.9" cy="581.9" r="3.5"/><circle cx="1308.8" cy="628.2" r="3.5"/><circle cx="1474.6" cy="584.3" r="3.5"/><circle cx="1280.8" cy="687.1" r="3.5"/><circle cx="1484.5" cy="593.8" r="3.5"/><circle cx="1122.6" cy="812" r="3.5"/><circle cx="1461.5" cy="587.8" r="3.5"/><circle cx="1439.2" cy="619.3" r="3.5"/><circle cx="1117.6" cy="814" r="3.5"/><circle cx="1387.8" cy="629.9" r="3.5"/><circle cx="1298.8" cy="710.8" r="3.5"/><circle cx="1108.8" cy="844.3" r="3.5"/><circle cx="1464.8" cy="591.7" r="3.5"/><circle cx="1322.3" cy="674.6" r="3.5"/><circle cx="1228.4" cy="726.5" r="3.5"/><circle cx="1130.1" cy="771.6" r="3.5"/><circle cx="1227.7" cy="735.8" r="3.5"/><circle cx="1181.7" cy="822.8" r="3.5"/><circle cx="1094.6" cy="851.5" r="3.5"/><circle cx="1388.8" cy="657.9" r="3.5"/><circle cx="1116.7" cy="846.9" r="3.5"/><circle cx="1453.4" cy="573.6" r="3.5"/><circle cx="1142.2" cy="801.1" r="3.5"/><circle cx="1225" cy="726.9" r="3.5"/><circle cx="1435.2" cy="610" r="3.5"/><circle cx="1331.4" cy="653.7" r="3.5"/><circle cx="1460.5" cy="606.1" r="3.5"/><circle cx="1415.5" cy="622.9" r="3.5"/><circle cx="1260" cy="705.9" r="3.5"/><circle cx="1166" cy="757.8" r="3.5"/><circle cx="1474.1" cy="579.3" r="3.5"/><circle cx="1305.4" cy="705.4" r="3.5"/><circle cx="1219.9" cy="724.2" r="3.5"/><circle cx="1340.6" cy="651.5" r="3.5"/><circle cx="1231" cy="764.1" r="3.5"/><circle cx="1268.8" cy="749.3" r="3.5"/><circle cx="1463.1" cy="599.9" r="3.5"/><circle cx="1424.4" cy="629" r="3.5"/><circle cx="1111.8" cy="846.4" r="3.5"/><circle cx="1167" cy="811.7" r="3.5"/><circle cx="1178.5" cy="753.9" r="3.5"/><circle cx="1096.1" cy="850.3" r="3.5"/><circle cx="1119.4" cy="809.7" r="3.5"/><circle cx="1357.6" cy="642.2" r="3.5"/><circle cx="1388.5" cy="636.9" r="3.5"/><circle cx="1478.3" cy="580.8" r="3.5"/><circle cx="1391" cy="638.9" r="3.5"/><circle cx="1452.4" cy="602" r="3.5"/><circle cx="1399.3" cy="626.9" r="3.5"/><circle cx="1152.3" cy="819.6" r="3.5"/><circle cx="1448.4" cy="588.7" r="3.5"/><circle cx="1200.6" cy="742.8" r="3.5"/><circle cx="1468.3" cy="602.1" r="3.5"/><circle cx="1303.3" cy="636.5" r="3.5"/><circle cx="1368.5" cy="618.7" r="3.5"/><circle cx="1114.8" cy="843.1" r="3.5"/><circle cx="1251.2" cy="770.7" r="3.5"/><circle cx="1446.7" cy="597.1" r="3.5"/><circle cx="1416.2" cy="649.6" r="3.5"/><circle cx="1126.7" cy="801.2" r="3.5"/><circle cx="1231.4" cy="772.2" r="3.5"/><circle cx="1247.1" cy="679.9" r="3.5"/><circle cx="1190.8" cy="758.3" r="3.5"/><circle cx="1140.9" cy="805.5" r="3.5"/><circle cx="1310.9" cy="713.6" r="3.5"/><circle cx="1158.8" cy="830.8" r="3.5"/><circle cx="1477" cy="581.4" r="3.5"/><circle cx="1139.1" cy="780.2" r="3.5"/><circle cx="1242.6" cy="803.4" r="3.5"/><circle cx="1163.7" cy="773" r="3.5"/><circle cx="1109.3" cy="813.5" r="3.5"/><circle cx="1256.4" cy="773.6" r="3.5"/><circle cx="1395.4" cy="652.1" r="3.5"/><circle cx="1203.8" cy="799.2" r="3.5"/><circle cx="1219.9" cy="709.7" r="3.5"/><circle cx="1231" cy="728.2" r="3.5"/><circle cx="1442.5" cy="607.8" r="3.5"/><circle cx="1217.3" cy="754.1" r="3.5"/><circle cx="1468.6" cy="584.9" r="3.5"/><circle cx="1173.7" cy="838.6" r="3.5"/><circle cx="1450.4" cy="619.1" r="3.5"/><circle cx="1435.6" cy="608.8" r="3.5"/><circle cx="1182.5" cy="791.5" r="3.5"/><circle cx="1407.3" cy="608.2" r="3.5"/><circle cx="1242.3" cy="729.6" r="3.5"/><circle cx="1172" cy="865.7" r="3.5"/><circle cx="1295.6" cy="684.4" r="3.5"/><circle cx="1348.3" cy="662.7" r="3.5"/><circle cx="1283.9" cy="738.3" r="3.5"/><circle cx="1120.2" cy="853.7" r="3.5"/><circle cx="1230.7" cy="779.5" r="3.5"/><circle cx="1233.2" cy="756.9" r="3.5"/><circle cx="1259.2" cy="739.7" r="3.5"/><circle cx="1263.4" cy="740.8" r="3.5"/><circle cx="1478.4" cy="577.6" r="3.5"/><circle cx="1410.5" cy="613.4" r="3.5"/><circle cx="1384.3" cy="606" r="3.5"/><circle cx="1328.8" cy="677.2" r="3.5"/><circle cx="1479.4" cy="599" r="3.5"/><circle cx="1236.6" cy="736.1" r="3.5"/><circle cx="1441.9" cy="625.6" r="3.5"/><circle cx="1310.6" cy="718.1" r="3.5"/><circle cx="1113.9" cy="851.4" r="3.5"/><circle cx="1199.1" cy="770" r="3.5"/><circle cx="1427.2" cy="648.7" r="3.5"/><circle cx="1176.4" cy="750.7" r="3.5"/><circle cx="1443.9" cy="587.1" r="3.5"/><circle cx="1120.3" cy="831.1" r="3.5"/><circle cx="1212.2" cy="735" r="3.5"/><circle cx="1190" cy="727.2" r="3.5"/><circle cx="1169.2" cy="767.1" r="3.5"/><circle cx="1277.3" cy="690.3" r="3.5"/><circle cx="1218" cy="754.9" r="3.5"/><circle cx="1244.6" cy="777.4" r="3.5"/><circle cx="1144.4" cy="847.9" r="3.5"/><circle cx="1187.4" cy="741.5" r="3.5"/><circle cx="1139" cy="819.9" r="3.5"/><circle cx="1110.8" cy="851.4" r="3.5"/><circle cx="1246.3" cy="752.8" r="3.5"/><circle cx="1436.3" cy="621.7" r="3.5"/><circle cx="1282.7" cy="686.9" r="3.5"/><circle cx="1237.8" cy="738.3" r="3.5"/><circle cx="1388.3" cy="643.6" r="3.5"/><circle cx="1476.8" cy="579.6" r="3.5"/><circle cx="1459" cy="591.9" r="3.5"/><circle cx="1239.1" cy="751.6" r="3.5"/><circle cx="1183.9" cy="842.2" r="3.5"/><circle cx="1440" cy="608.7" r="3.5"/><circle cx="1225.3" cy="746.5" r="3.5"/><circle cx="1385.8" cy="673.1" r="3.5"/><circle cx="1435.1" cy="597.2" r="3.5"/><circle cx="1217.2" cy="775.4" r="3.5"/><circle cx="1104.4" cy="844.3" r="3.5"/><circle cx="1289.1" cy="693.4" r="3.5"/><circle cx="1479.7" cy="586.1" r="3.5"/><circle cx="1112.3" cy="854.3" r="3.5"/><circle cx="1389.7" cy="621.2" r="3.5"/><circle cx="1181.3" cy="791.8" r="3.5"/><circle cx="1212.7" cy="745.1" r="3.5"/><circle cx="1485.2" cy="583.5" r="3.5"/><circle cx="1160.4" cy="763" r="3.5"/><circle cx="1100" cy="853.2" r="3.5"/><circle cx="1346" cy="694.8" r="3.5"/><circle cx="1428" cy="601.9" r="3.5"/><circle cx="1386.5" cy="665.5" r="3.5"/><circle cx="1306.3" cy="668.2" r="3.5"/><circle cx="1186.8" cy="732.5" r="3.5"/><circle cx="1120.7" cy="837.2" r="3.5"/><circle cx="1306.1" cy="745.9" r="3.5"/><circle cx="1115.7" cy="826.4" r="3.5"/><circle cx="1126.6" cy="820.7" r="3.5"/><circle cx="1117.8" cy="825.9" r="3.5"/><circle cx="1114.4" cy="817.1" r="3.5"/><circle cx="1263.4" cy="728.3" r="3.5"/><circle cx="1215.9" cy="804.8" r="3.5"/><circle cx="1099.7" cy="852.1" r="3.5"/><circle cx="1240.6" cy="742.5" r="3.5"/><circle cx="1125.1" cy="805" r="3.5"/><circle cx="1099.9" cy="853.8" r="3.5"/><circle cx="1328.4" cy="688" r="3.5"/><circle cx="1131.9" cy="857.7" r="3.5"/><circle cx="1253" cy="743.7" r="3.5"/><circle cx="1197" cy="783" r="3.5"/><circle cx="1362.3" cy="621.2" r="3.5"/><circle cx="1393.6" cy="637.8" r="3.5"/><circle cx="1178.2" cy="727.8" r="3.5"/><circle cx="1114.9" cy="809.6" r="3.5"/><circle cx="1459.9" cy="600.4" r="3.5"/><circle cx="1466.5" cy="578.9" r="3.5"/><circle cx="1212.8" cy="786.1" r="3.5"/><circle cx="1431.4" cy="578.9" r="3.5"/><circle cx="1173" cy="781.4" r="3.5"/><circle cx="1415.7" cy="606.5" r="3.5"/><circle cx="1280.7" cy="707.2" r="3.5"/><circle cx="1106.7" cy="846.8" r="3.5"/><circle cx="1479.6" cy="582.8" r="3.5"/><circle cx="1262.4" cy="722.7" r="3.5"/><circle cx="1385.1" cy="655.3" r="3.5"/><circle cx="1193.3" cy="791" r="3.5"/><circle cx="1196.8" cy="757.9" r="3.5"/><circle cx="1226.8" cy="712.3" r="3.5"/><circle cx="1465.2" cy="607.6" r="3.5"/><circle cx="1264.9" cy="734.4" r="3.5"/><circle cx="1456.7" cy="587.5" r="3.5"/><circle cx="1455.7" cy="599.9" r="3.5"/><circle cx="1147.9" cy="807.2" r="3.5"/><circle cx="1385.6" cy="663.8" r="3.5"/><circle cx="1208.5" cy="728.7" r="3.5"/><circle cx="1211.6" cy="730.9" r="3.5"/><circle cx="1270.8" cy="726.2" r="3.5"/><circle cx="1464.8" cy="593.8" r="3.5"/><circle cx="1151.3" cy="854.3" r="3.5"/><circle cx="1107.5" cy="824.8" r="3.5"/><circle cx="1101.6" cy="850.8" r="3.5"/><circle cx="1372.6" cy="675.3" r="3.5"/><circle cx="1476.5" cy="581.8" r="3.5"/><circle cx="1162" cy="775.2" r="3.5"/><circle cx="1107.1" cy="836.9" r="3.5"/><circle cx="1339.4" cy="650.2" r="3.5"/><circle cx="1256" cy="728.9" r="3.5"/><circle cx="1179" cy="749" r="3.5"/><circle cx="1337.5" cy="679.5" r="3.5"/><circle cx="1411.7" cy="626.5" r="3.5"/><circle cx="1118.8" cy="844.1" r="3.5"/><circle cx="1480.1" cy="588.8" r="3.5"/><circle cx="1410.1" cy="653.3" r="3.5"/><circle cx="1435.9" cy="614.5" r="3.5"/><circle cx="1446.7" cy="586.6" r="3.5"/><circle cx="1214.5" cy="773.4" r="3.5"/><circle cx="1391.7" cy="619.9" r="3.5"/><circle cx="1177.9" cy="825" r="3.5"/><circle cx="1268.9" cy="763.8" r="3.5"/><circle cx="1431.5" cy="624.5" r="3.5"/><circle cx="1145" cy="790.1" r="3.5"/><circle cx="1452.9" cy="614.7" r="3.5"/><circle cx="1486.3" cy="581" r="3.5"/><circle cx="1405.2" cy="613.9" r="3.5"/><circle cx="1256.9" cy="711.6" r="3.5"/><circle cx="1404.4" cy="642.1" r="3.5"/><circle cx="1136.7" cy="826.8" r="3.5"/><circle cx="1104.7" cy="856.2" r="3.5"/><circle cx="1122.5" cy="840.8" r="3.5"/><circle cx="1386" cy="642.5" r="3.5"/><circle cx="1321.9" cy="729.3" r="3.5"/><circle cx="1270.7" cy="723.9" r="3.5"/><circle cx="1336.4" cy="664.1" r="3.5"/><circle cx="1434.3" cy="624.8" r="3.5"/><circle cx="1276.4" cy="765.9" r="3.5"/><circle cx="1409.2" cy="628.5" r="3.5"/><circle cx="1327.3" cy="682.5" r="3.5"/><circle cx="1398.6" cy="640.7" r="3.5"/><circle cx="1459.4" cy="576.3" r="3.5"/><circle cx="1333.5" cy="700.3" r="3.5"/><circle cx="1362.2" cy="670.5" r="3.5"/><circle cx="1395.1" cy="663.3" r="3.5"/><circle cx="1105" cy="842.7" r="3.5"/><circle cx="1298" cy="725" r="3.5"/><circle cx="1132.8" cy="818.4" r="3.5"/><circle cx="1347.4" cy="677.9" r="3.5"/><circle cx="1474.5" cy="588.1" r="3.5"/><circle cx="1479.9" cy="588.8" r="3.5"/><circle cx="1251.8" cy="744.3" r="3.5"/><circle cx="1456.9" cy="596.9" r="3.5"/><circle cx="1108.8" cy="823.2" r="3.5"/><circle cx="1251.5" cy="726.6" r="3.5"/><circle cx="1252.7" cy="712.7" r="3.5"/><circle cx="1455.4" cy="591.9" r="3.5"/><circle cx="1209.3" cy="735.2" r="3.5"/><circle cx="1341.6" cy="690.8" r="3.5"/><circle cx="1369.5" cy="652" r="3.5"/><circle cx="1324.4" cy="673.8" r="3.5"/><circle cx="1471.4" cy="589.9" r="3.5"/><circle cx="1102.4" cy="841.9" r="3.5"/><circle cx="1195.8" cy="790.3" r="3.5"/><circle cx="1374.7" cy="644.2" r="3.5"/><circle cx="1101.6" cy="840" r="3.5"/><circle cx="1234.5" cy="758.8" r="3.5"/><circle cx="1486.2" cy="584.7" r="3.5"/><circle cx="1438.6" cy="612.8" r="3.5"/><circle cx="1364.7" cy="652.6" r="3.5"/><circle cx="1141.7" cy="808.9" r="3.5"/><circle cx="1135.7" cy="787.4" r="3.5"/><circle cx="1270.1" cy="702.9" r="3.5"/><circle cx="1472.2" cy="578.5" r="3.5"/><circle cx="1160.9" cy="825.8" r="3.5"/><circle cx="1291.4" cy="685.2" r="3.5"/><circle cx="1295.7" cy="689.3" r="3.5"/><circle cx="1106.5" cy="844.8" r="3.5"/><circle cx="1291.6" cy="669.8" r="3.5"/><circle cx="1474.3" cy="587.8" r="3.5"/><circle cx="1434.2" cy="626.1" r="3.5"/><circle cx="1317.5" cy="705.2" r="3.5"/><circle cx="1172.5" cy="769.6" r="3.5"/><circle cx="1148.1" cy="740.6" r="3.5"/><circle cx="1230.7" cy="780.6" r="3.5"/><circle cx="1430" cy="584.3" r="3.5"/><circle cx="1398.4" cy="635.2" r="3.5"/><circle cx="1139.3" cy="844.7" r="3.5"/><circle cx="1128.9" cy="824.5" r="3.5"/><circle cx="1295" cy="711.6" r="3.5"/><circle cx="1434.4" cy="591.4" r="3.5"/><circle cx="1335.2" cy="676.8" r="3.5"/><circle cx="1294.7" cy="721.3" r="3.5"/><circle cx="1456.8" cy="615.7" r="3.5"/><circle cx="1474.9" cy="595.1" r="3.5"/><circle cx="1135.9" cy="849.9" r="3.5"/><circle cx="1150.5" cy="824.4" r="3.5"/><circle cx="1409.7" cy="603.3" r="3.5"/><circle cx="1449.9" cy="600.1" r="3.5"/><circle cx="1149.8" cy="815.3" r="3.5"/><circle cx="1459" cy="600.4" r="3.5"/><circle cx="1227.7" cy="739.1" r="3.5"/><circle cx="1317.1" cy="649.5" r="3.5"/><circle cx="1471.2" cy="577.5" r="3.5"/><circle cx="1430.5" cy="628.5" r="3.5"/><circle cx="1361.5" cy="635.4" r="3.5"/><circle cx="1333.5" cy="691.1" r="3.5"/><circle cx="1408" cy="634.7" r="3.5"/><circle cx="1121.1" cy="847.7" r="3.5"/><circle cx="1220.5" cy="735" r="3.5"/><circle cx="1200.9" cy="717.3" r="3.5"/><circle cx="1104.8" cy="847.9" r="3.5"/><circle cx="1110.5" cy="838.3" r="3.5"/><circle cx="1409.2" cy="631.6" r="3.5"/><circle cx="1466.9" cy="600.2" r="3.5"/><circle cx="1443.7" cy="635.5" r="3.5"/><circle cx="1215.5" cy="731" r="3.5"/><circle cx="1283.5" cy="707.3" r="3.5"/><circle cx="1416.2" cy="600" r="3.5"/><circle cx="1437" cy="651.9" r="3.5"/><circle cx="1315" cy="704.9" r="3.5"/><circle cx="1355.8" cy="668.3" r="3.5"/><circle cx="1411" cy="616.1" r="3.5"/><circle cx="1108.9" cy="850.1" r="3.5"/><circle cx="1409.7" cy="605.4" r="3.5"/><circle cx="1399.7" cy="627.8" r="3.5"/><circle cx="1340" cy="646" r="3.5"/><circle cx="1102.6" cy="846.4" r="3.5"/><circle cx="1455.7" cy="588.2" r="3.5"/><circle cx="1475.7" cy="595.6" r="3.5"/><circle cx="1123.1" cy="803.8" r="3.5"/><circle cx="1159.8" cy="763.4" r="3.5"/><circle cx="1100.4" cy="847.2" r="3.5"/><circle cx="1294.6" cy="696.1" r="3.5"/><circle cx="1236.1" cy="720.9" r="3.5"/><circle cx="1488.5" cy="591.2" r="3.5"/><circle cx="1176.1" cy="814.1" r="3.5"/><circle cx="1481.9" cy="592.6" r="3.5"/><circle cx="1470.4" cy="598.6" r="3.5"/><circle cx="1256.8" cy="732.4" r="3.5"/><circle cx="1371.1" cy="664.4" r="3.5"/><circle cx="1445.3" cy="607.7" r="3.5"/><circle cx="1223.3" cy="742.4" r="3.5"/><circle cx="1462.3" cy="601.9" r="3.5"/><circle cx="1162.1" cy="817.6" r="3.5"/><circle cx="1098.1" cy="850.6" r="3.5"/><circle cx="1261.7" cy="736.6" r="3.5"/><circle cx="1487.3" cy="583.2" r="3.5"/><circle cx="1169.6" cy="860.4" r="3.5"/><circle cx="1434.4" cy="604.9" r="3.5"/><circle cx="1401.2" cy="623.6" r="3.5"/><circle cx="1133.7" cy="827.5" r="3.5"/><circle cx="1185.4" cy="744.6" r="3.5"/><circle cx="1366.9" cy="688.7" r="3.5"/><circle cx="1377.8" cy="676" r="3.5"/><circle cx="1479.8" cy="591.6" r="3.5"/><circle cx="1392.3" cy="660.2" r="3.5"/><circle cx="1258.6" cy="763.8" r="3.5"/><circle cx="1425.5" cy="578" r="3.5"/><circle cx="1441" cy="590.9" r="3.5"/><circle cx="1197.2" cy="837.5" r="3.5"/><circle cx="1340.1" cy="667.4" r="3.5"/><circle cx="1483.4" cy="592.5" r="3.5"/><circle cx="1133.1" cy="841.4" r="3.5"/><circle cx="1156.5" cy="755.6" r="3.5"/><circle cx="1100.7" cy="861" r="3.5"/><circle cx="1129.8" cy="827.9" r="3.5"/><circle cx="1221.2" cy="812.8" r="3.5"/><circle cx="1231.9" cy="795.9" r="3.5"/><circle cx="1175" cy="810.2" r="3.5"/><circle cx="1193.8" cy="800.3" r="3.5"/><circle cx="1440.8" cy="623.5" r="3.5"/><circle cx="1111.8" cy="822" r="3.5"/><circle cx="1413" cy="610.2" r="3.5"/><circle cx="1468.1" cy="587.1" r="3.5"/><circle cx="1354.2" cy="704.8" r="3.5"/><circle cx="1194.3" cy="799.4" r="3.5"/><circle cx="1297.9" cy="669.4" r="3.5"/><circle cx="1432.6" cy="597.1" r="3.5"/><circle cx="1148.6" cy="796.8" r="3.5"/><circle cx="1165.1" cy="758.3" r="3.5"/><circle cx="1461" cy="581.7" r="3.5"/><circle cx="1107.7" cy="856.7" r="3.5"/><circle cx="1311.9" cy="712.8" r="3.5"/><circle cx="1446.8" cy="628.5" r="3.5"/><circle cx="1272" cy="676.3" r="3.5"/><circle cx="1369.6" cy="637.8" r="3.5"/><circle cx="1484.4" cy="587.6" r="3.5"/><circle cx="1444.8" cy="579.8" r="3.5"/><circle cx="1456.4" cy="597.8" r="3.5"/><circle cx="1238.7" cy="746.8" r="3.5"/><circle cx="1408.5" cy="611.1" r="3.5"/><circle cx="1189.7" cy="797.3" r="3.5"/><circle cx="1274.5" cy="732.6" r="3.5"/><circle cx="1096.5" cy="855.4" r="3.5"/><circle cx="1156.4" cy="785.8" r="3.5"/><circle cx="1263.9" cy="723.1" r="3.5"/><circle cx="1425.4" cy="633" r="3.5"/><circle cx="1207" cy="748.8" r="3.5"/><circle cx="1373.9" cy="637.2" r="3.5"/><circle cx="1429.3" cy="638.8" r="3.5"/><circle cx="1456.4" cy="616.5" r="3.5"/><circle cx="1438.5" cy="603.3" r="3.5"/><circle cx="1467.3" cy="597.6" r="3.5"/><circle cx="1153.1" cy="821.1" r="3.5"/><circle cx="1351.5" cy="685" r="3.5"/><circle cx="1444.9" cy="621.9" r="3.5"/><circle cx="1240" cy="747" r="3.5"/><circle cx="1386.3" cy="649.8" r="3.5"/><circle cx="1464.2" cy="604.9" r="3.5"/><circle cx="1112.5" cy="851.9" r="3.5"/><circle cx="1456.6" cy="600.3" r="3.5"/><circle cx="1371.7" cy="654.8" r="3.5"/><circle cx="1164.6" cy="790.5" r="3.5"/><circle cx="1473.4" cy="573.9" r="3.5"/><circle cx="1407.5" cy="618.3" r="3.5"/><circle cx="1164.6" cy="766.8" r="3.5"/><circle cx="1345.9" cy="642.1" r="3.5"/><circle cx="1368.4" cy="654.2" r="3.5"/><circle cx="1489.7" cy="588.5" r="3.5"/><circle cx="1237.3" cy="736.8" r="3.5"/><circle cx="1262.1" cy="727.7" r="3.5"/><circle cx="1159.7" cy="774.4" r="3.5"/><circle cx="1348.2" cy="656.9" r="3.5"/><circle cx="1432.5" cy="631.7" r="3.5"/><circle cx="1333" cy="710.6" r="3.5"/><circle cx="1428.2" cy="615.6" r="3.5"/><circle cx="1200.8" cy="726.2" r="3.5"/><circle cx="1134.7" cy="783.2" r="3.5"/><circle cx="1216.1" cy="708.4" r="3.5"/><circle cx="1273.5" cy="749.7" r="3.5"/><circle cx="1262.7" cy="708.7" r="3.5"/><circle cx="1109.1" cy="856.9" r="3.5"/><circle cx="1316.9" cy="669.4" r="3.5"/><circle cx="1299" cy="700.4" r="3.5"/><circle cx="1476.2" cy="595.2" r="3.5"/><circle cx="1203.4" cy="744.6" r="3.5"/><circle cx="1220.7" cy="782.9" r="3.5"/><circle cx="1376.8" cy="615.2" r="3.5"/><circle cx="1313.3" cy="650.1" r="3.5"/><circle cx="1431.6" cy="631.8" r="3.5"/><circle cx="1289.2" cy="698.7" r="3.5"/><circle cx="1487" cy="583.5" r="3.5"/><circle cx="1167" cy="864.9" r="3.5"/><circle cx="1205.4" cy="807.2" r="3.5"/><circle cx="1104.6" cy="849.6" r="3.5"/><circle cx="1244.3" cy="751.5" r="3.5"/><circle cx="1357.6" cy="655.6" r="3.5"/><circle cx="1127.6" cy="864.7" r="3.5"/><circle cx="1305.3" cy="782.5" r="3.5"/><circle cx="1477.5" cy="574.4" r="3.5"/><circle cx="1368.7" cy="639.7" r="3.5"/><circle cx="1417.5" cy="622.2" r="3.5"/><circle cx="1465.7" cy="592.8" r="3.5"/><circle cx="1382.8" cy="621.5" r="3.5"/><circle cx="1329.5" cy="687.3" r="3.5"/><circle cx="1294.8" cy="723.7" r="3.5"/><circle cx="1377" cy="637.8" r="3.5"/><circle cx="1468.5" cy="588.7" r="3.5"/><circle cx="1355.7" cy="675.9" r="3.5"/><circle cx="1363.7" cy="662.8" r="3.5"/><circle cx="1370.5" cy="672.3" r="3.5"/><circle cx="1098.9" cy="850.5" r="3.5"/><circle cx="1184.8" cy="806.5" r="3.5"/><circle cx="1428.6" cy="620.7" r="3.5"/><circle cx="1107" cy="845.2" r="3.5"/><circle cx="1301.4" cy="656" r="3.5"/><circle cx="1119.4" cy="839" r="3.5"/><circle cx="1346.4" cy="675.5" r="3.5"/><circle cx="1330.5" cy="715.6" r="3.5"/><circle cx="1219.1" cy="740.1" r="3.5"/><circle cx="1139.7" cy="785.4" r="3.5"/><circle cx="1118.9" cy="835" r="3.5"/><circle cx="1426.7" cy="644" r="3.5"/><circle cx="1172.9" cy="821.5" r="3.5"/><circle cx="1213.7" cy="792.2" r="3.5"/><circle cx="1346.8" cy="639.4" r="3.5"/><circle cx="1453.2" cy="604.9" r="3.5"/><circle cx="1258.2" cy="724.4" r="3.5"/><circle cx="1109.4" cy="844.9" r="3.5"/><circle cx="1243.8" cy="722.5" r="3.5"/><circle cx="1469.6" cy="591.8" r="3.5"/><circle cx="1381.5" cy="677.9" r="3.5"/><circle cx="1125.9" cy="853.5" r="3.5"/><circle cx="1199.7" cy="772.2" r="3.5"/><circle cx="1110.5" cy="852.3" r="3.5"/><circle cx="1174.8" cy="802.3" r="3.5"/><circle cx="1479.3" cy="592.8" r="3.5"/><circle cx="1164.6" cy="775.3" r="3.5"/><circle cx="1425" cy="595.2" r="3.5"/><circle cx="1472.2" cy="586.1" r="3.5"/><circle cx="1294.2" cy="708.2" r="3.5"/><circle cx="1098.9" cy="852.7" r="3.5"/><circle cx="1306.8" cy="706" r="3.5"/><circle cx="1443.2" cy="609.5" r="3.5"/><circle cx="1255.9" cy="748.1" r="3.5"/><circle cx="1331.9" cy="681.4" r="3.5"/><circle cx="1458.7" cy="581.7" r="3.5"/><circle cx="1390.6" cy="617.2" r="3.5"/><circle cx="1378.2" cy="676.8" r="3.5"/><circle cx="1379.4" cy="651.2" r="3.5"/><circle cx="1418.7" cy="618.7" r="3.5"/><circle cx="1447.8" cy="606.3" r="3.5"/><circle cx="1152.9" cy="846.6" r="3.5"/><circle cx="1150.1" cy="863.6" r="3.5"/><circle cx="1449.4" cy="607.7" r="3.5"/><circle cx="1197.6" cy="775.3" r="3.5"/><circle cx="1401.5" cy="653.2" r="3.5"/><circle cx="1461.7" cy="599.7" r="3.5"/><circle cx="1402.4" cy="627.2" r="3.5"/><circle cx="1384.8" cy="624.8" r="3.5"/><circle cx="1457.2" cy="584.7" r="3.5"/><circle cx="1123.4" cy="819.6" r="3.5"/><circle cx="1359.2" cy="701.7" r="3.5"/><circle cx="1102.4" cy="850.6" r="3.5"/><circle cx="1249.4" cy="761.5" r="3.5"/><circle cx="1476.6" cy="571" r="3.5"/><circle cx="1304.6" cy="677.4" r="3.5"/><circle cx="1395.5" cy="623.6" r="3.5"/><circle cx="1111.5" cy="837.8" r="3.5"/><circle cx="1291.9" cy="763.2" r="3.5"/><circle cx="1341.2" cy="672" r="3.5"/><circle cx="1210.5" cy="710.8" r="3.5"/><circle cx="1311.2" cy="713.8" r="3.5"/><circle cx="1396.6" cy="632.2" r="3.5"/><circle cx="1117.1" cy="864.2" r="3.5"/><circle cx="1318.4" cy="683.1" r="3.5"/><circle cx="1114" cy="858.9" r="3.5"/><circle cx="1359.6" cy="664.1" r="3.5"/><circle cx="1370.6" cy="625.7" r="3.5"/><circle cx="1121" cy="820.7" r="3.5"/><circle cx="1196.8" cy="778.1" r="3.5"/><circle cx="1311.2" cy="682.4" r="3.5"/><circle cx="1307.8" cy="690.2" r="3.5"/><circle cx="1131.5" cy="786" r="3.5"/><circle cx="1406.5" cy="665" r="3.5"/><circle cx="1477.9" cy="588.1" r="3.5"/><circle cx="1437.9" cy="615.9" r="3.5"/><circle cx="1262.1" cy="715.9" r="3.5"/><circle cx="1479.1" cy="595.2" r="3.5"/><circle cx="1436.7" cy="604.8" r="3.5"/><circle cx="1389.1" cy="660.4" r="3.5"/><circle cx="1477.6" cy="580.2" r="3.5"/><circle cx="1225.9" cy="737.6" r="3.5"/><circle cx="1208.5" cy="806.3" r="3.5"/><circle cx="1436.7" cy="584.7" r="3.5"/><circle cx="1424.3" cy="617.5" r="3.5"/><circle cx="1450.1" cy="593.7" r="3.5"/><circle cx="1443.7" cy="648" r="3.5"/><circle cx="1410.4" cy="652.4" r="3.5"/><circle cx="1333.1" cy="640.5" r="3.5"/><circle cx="1379.6" cy="636.5" r="3.5"/><circle cx="1094.7" cy="850.1" r="3.5"/><circle cx="1348.4" cy="707.1" r="3.5"/><circle cx="1137.6" cy="827.5" r="3.5"/><circle cx="1203.6" cy="738" r="3.5"/><circle cx="1362.1" cy="663.7" r="3.5"/><circle cx="1275.2" cy="667.2" r="3.5"/><circle cx="1473.6" cy="579.3" r="3.5"/><circle cx="1227.9" cy="718.6" r="3.5"/><circle cx="1442.6" cy="596.2" r="3.5"/><circle cx="1454" cy="604.6" r="3.5"/><circle cx="1106" cy="830.7" r="3.5"/><circle cx="1469.1" cy="589.1" r="3.5"/><circle cx="1183.7" cy="821.2" r="3.5"/><circle cx="1106.3" cy="865.3" r="3.5"/><circle cx="1366.4" cy="651.1" r="3.5"/><circle cx="1189.9" cy="753.4" r="3.5"/><circle cx="1251" cy="747.5" r="3.5"/><circle cx="1436.6" cy="602.9" r="3.5"/><circle cx="1117.3" cy="834.5" r="3.5"/><circle cx="1487.6" cy="583.3" r="3.5"/><circle cx="1263.5" cy="722.2" r="3.5"/><circle cx="1402.1" cy="624" r="3.5"/><circle cx="1475.5" cy="581.6" r="3.5"/><circle cx="1334.5" cy="640.5" r="3.5"/><circle cx="1108.3" cy="832.7" r="3.5"/><circle cx="1254.4" cy="731.5" r="3.5"/><circle cx="1404.2" cy="609.3" r="3.5"/><circle cx="1215.4" cy="765.3" r="3.5"/><circle cx="1392.4" cy="629.7" r="3.5"/><circle cx="1346.5" cy="693.9" r="3.5"/><circle cx="1242.4" cy="728.8" r="3.5"/><circle cx="1186.3" cy="756" r="3.5"/><circle cx="1370" cy="656" r="3.5"/><circle cx="1179.8" cy="801.7" r="3.5"/><circle cx="1218.5" cy="704.2" r="3.5"/><circle cx="1262.2" cy="692.6" r="3.5"/><circle cx="1456" cy="591.8" r="3.5"/><circle cx="1348.2" cy="645.6" r="3.5"/><circle cx="1387.2" cy="597.8" r="3.5"/><circle cx="1420.8" cy="615.5" r="3.5"/><circle cx="1474.7" cy="587.1" r="3.5"/><circle cx="1255.6" cy="738.8" r="3.5"/><circle cx="1110.2" cy="825.3" r="3.5"/><circle cx="1165" cy="753" r="3.5"/><circle cx="1478.6" cy="597" r="3.5"/><circle cx="1474.8" cy="578.7" r="3.5"/><circle cx="1318.7" cy="715.4" r="3.5"/><circle cx="1484" cy="587.7" r="3.5"/><circle cx="1442" cy="632.9" r="3.5"/><circle cx="1111" cy="846.7" r="3.5"/><circle cx="1378.2" cy="692.9" r="3.5"/><circle cx="1352.6" cy="663.2" r="3.5"/><circle cx="1486.1" cy="581.3" r="3.5"/><circle cx="1247.3" cy="706.8" r="3.5"/><circle cx="1271.8" cy="706.3" r="3.5"/><circle cx="1261.9" cy="762.5" r="3.5"/><circle cx="1432.6" cy="611.9" r="3.5"/><circle cx="1166" cy="810.3" r="3.5"/><circle cx="1442.8" cy="599.8" r="3.5"/><circle cx="1106.2" cy="846.3" r="3.5"/><circle cx="1443.5" cy="599.3" r="3.5"/><circle cx="1306.3" cy="675.3" r="3.5"/><circle cx="1290.6" cy="720.7" r="3.5"/><circle cx="1153.2" cy="818.7" r="3.5"/><circle cx="1244.8" cy="700.4" r="3.5"/><circle cx="1398.6" cy="631.9" r="3.5"/><circle cx="1443.8" cy="565.4" r="3.5"/><circle cx="1255.2" cy="705.5" r="3.5"/><circle cx="1480.4" cy="585.3" r="3.5"/><circle cx="1318.3" cy="678.7" r="3.5"/><circle cx="1253.8" cy="700.1" r="3.5"/><circle cx="1177" cy="793.1" r="3.5"/><circle cx="1109.9" cy="861.2" r="3.5"/><circle cx="1332.5" cy="689.2" r="3.5"/><circle cx="1437.6" cy="604.9" r="3.5"/><circle cx="1413.6" cy="593.9" r="3.5"/><circle cx="1471.5" cy="582.6" r="3.5"/><circle cx="1134.7" cy="817.9" r="3.5"/><circle cx="1330.4" cy="680.8" r="3.5"/><circle cx="1449.8" cy="598" r="3.5"/><circle cx="1485.4" cy="591.6" r="3.5"/><circle cx="1442.5" cy="598.1" r="3.5"/><circle cx="1403.6" cy="658.3" r="3.5"/><circle cx="1398.2" cy="649.7" r="3.5"/><circle cx="1323.7" cy="667.4" r="3.5"/><circle cx="1160.8" cy="834.4" r="3.5"/><circle cx="1101.1" cy="845.2" r="3.5"/><circle cx="1201.3" cy="727" r="3.5"/><circle cx="1424.3" cy="605.5" r="3.5"/><circle cx="1384.6" cy="658.5" r="3.5"/><circle cx="1246.8" cy="736.6" r="3.5"/><circle cx="1428.4" cy="607.4" r="3.5"/><circle cx="1137.7" cy="772.7" r="3.5"/><circle cx="1439.5" cy="607.4" r="3.5"/><circle cx="1166.8" cy="758.2" r="3.5"/><circle cx="1481.5" cy="589.4" r="3.5"/><circle cx="1098" cy="850.5" r="3.5"/><circle cx="1445.3" cy="621" r="3.5"/><circle cx="1438.2" cy="584.3" r="3.5"/><circle cx="1197.1" cy="749.6" r="3.5"/><circle cx="1479.8" cy="573.8" r="3.5"/><circle cx="1476.8" cy="584.4" r="3.5"/><circle cx="1152.2" cy="816" r="3.5"/><circle cx="1114.4" cy="823.5" r="3.5"/><circle cx="1277.4" cy="751.1" r="3.5"/><circle cx="1189.9" cy="808.2" r="3.5"/><circle cx="1252.6" cy="774.2" r="3.5"/><circle cx="1369.5" cy="654.1" r="3.5"/><circle cx="1481.6" cy="581.7" r="3.5"/><circle cx="1265" cy="768.7" r="3.5"/><circle cx="1437.2" cy="608.5" r="3.5"/><circle cx="1094.6" cy="852.1" r="3.5"/><circle cx="1270.2" cy="777.2" r="3.5"/><circle cx="1173" cy="812" r="3.5"/><circle cx="1483.2" cy="588" r="3.5"/><circle cx="1406.1" cy="607.3" r="3.5"/><circle cx="1448.3" cy="601.2" r="3.5"/><circle cx="1254.7" cy="722.7" r="3.5"/><circle cx="1182.5" cy="766.6" r="3.5"/><circle cx="1113.6" cy="847.5" r="3.5"/><circle cx="1481.5" cy="585.8" r="3.5"/><circle cx="1407.8" cy="606.5" r="3.5"/><circle cx="1301.3" cy="708.2" r="3.5"/><circle cx="1103" cy="847.5" r="3.5"/><circle cx="1116.3" cy="814.6" r="3.5"/><circle cx="1481.2" cy="585.1" r="3.5"/><circle cx="1365" cy="627.7" r="3.5"/><circle cx="1475.7" cy="581.8" r="3.5"/><circle cx="1149.7" cy="771.7" r="3.5"/><circle cx="1167.2" cy="782" r="3.5"/><circle cx="1470.5" cy="585.6" r="3.5"/><circle cx="1344.3" cy="695.6" r="3.5"/><circle cx="1173.3" cy="751.7" r="3.5"/><circle cx="1475.6" cy="585.3" r="3.5"/><circle cx="1324.3" cy="657.5" r="3.5"/><circle cx="1461.8" cy="610.6" r="3.5"/><circle cx="1143.3" cy="785.7" r="3.5"/><circle cx="1133" cy="831.9" r="3.5"/><circle cx="1407" cy="605" r="3.5"/><circle cx="1485.5" cy="580" r="3.5"/><circle cx="1134.2" cy="855.6" r="3.5"/><circle cx="1270.8" cy="719.6" r="3.5"/><circle cx="1306.9" cy="677.4" r="3.5"/><circle cx="1439.7" cy="629.3" r="3.5"/><circle cx="1103.5" cy="858.9" r="3.5"/><circle cx="1423.3" cy="594.3" r="3.5"/><circle cx="1147.7" cy="796.3" r="3.5"/><circle cx="1478.8" cy="591.3" r="3.5"/><circle cx="1260.8" cy="723.2" r="3.5"/><circle cx="1365.1" cy="668.6" r="3.5"/><circle cx="1210.4" cy="761.8" r="3.5"/><circle cx="1199.9" cy="813.8" r="3.5"/><circle cx="1204.5" cy="775.9" r="3.5"/><circle cx="1171" cy="781.5" r="3.5"/><circle cx="1285.8" cy="763.8" r="3.5"/><circle cx="1113.9" cy="827.3" r="3.5"/><circle cx="1280.7" cy="720.8" r="3.5"/><circle cx="1468.9" cy="577.7" r="3.5"/><circle cx="1166.7" cy="760.1" r="3.5"/><circle cx="1438.2" cy="624.4" r="3.5"/><circle cx="1133.7" cy="815.7" r="3.5"/><circle cx="1409.1" cy="593.6" r="3.5"/><circle cx="1163.3" cy="830.6" r="3.5"/><circle cx="1394.8" cy="644.1" r="3.5"/><circle cx="1129.1" cy="831.4" r="3.5"/><circle cx="1184.3" cy="752.7" r="3.5"/><circle cx="1298.2" cy="661.2" r="3.5"/><circle cx="1144.8" cy="776.5" r="3.5"/><circle cx="1243.7" cy="742.2" r="3.5"/><circle cx="1285.4" cy="681.3" r="3.5"/><circle cx="1462.4" cy="610.3" r="3.5"/><circle cx="1411.6" cy="631.3" r="3.5"/><circle cx="1166.1" cy="782.1" r="3.5"/><circle cx="1103.5" cy="859.1" r="3.5"/><circle cx="1427.1" cy="618" r="3.5"/><circle cx="1264.3" cy="729.3" r="3.5"/><circle cx="1261.5" cy="768.5" r="3.5"/><circle cx="1429.1" cy="620.3" r="3.5"/><circle cx="1251.6" cy="761.9" r="3.5"/><circle cx="1293.5" cy="671.4" r="3.5"/><circle cx="1218.3" cy="799.9" r="3.5"/><circle cx="1101.5" cy="846.9" r="3.5"/><circle cx="1357.3" cy="663.4" r="3.5"/><circle cx="1473.4" cy="589.6" r="3.5"/><circle cx="1437.5" cy="603.9" r="3.5"/><circle cx="1317.1" cy="712" r="3.5"/><circle cx="1445.6" cy="609.8" r="3.5"/><circle cx="1107.1" cy="849.3" r="3.5"/><circle cx="1436.9" cy="621.3" r="3.5"/><circle cx="1195.5" cy="758.9" r="3.5"/><circle cx="1411.3" cy="624.2" r="3.5"/><circle cx="1230.7" cy="720.1" r="3.5"/><circle cx="1231.4" cy="697.8" r="3.5"/><circle cx="1187" cy="722.6" r="3.5"/><circle cx="1433.5" cy="607.6" r="3.5"/><circle cx="1258.1" cy="715.8" r="3.5"/><circle cx="1095.8" cy="858.2" r="3.5"/><circle cx="1278.3" cy="712.7" r="3.5"/><circle cx="1114.5" cy="812.7" r="3.5"/><circle cx="1304.5" cy="712.7" r="3.5"/><circle cx="1124.1" cy="800.3" r="3.5"/><circle cx="1457.5" cy="602.5" r="3.5"/><circle cx="1481.2" cy="577.2" r="3.5"/><circle cx="1484.5" cy="591.5" r="3.5"/><circle cx="1215.4" cy="754.1" r="3.5"/><circle cx="1456" cy="590.6" r="3.5"/><circle cx="1283.9" cy="739.2" r="3.5"/><circle cx="1117.5" cy="833.1" r="3.5"/><circle cx="1105.8" cy="844.2" r="3.5"/><circle cx="1384.3" cy="671" r="3.5"/><circle cx="1233" cy="792.6" r="3.5"/><circle cx="1110.7" cy="845.7" r="3.5"/><circle cx="1204.5" cy="825.6" r="3.5"/><circle cx="1296.4" cy="661.6" r="3.5"/><circle cx="1268.4" cy="771.9" r="3.5"/><circle cx="1273.4" cy="694.8" r="3.5"/><circle cx="1324.1" cy="678" r="3.5"/><circle cx="1236.2" cy="777" r="3.5"/><circle cx="1254" cy="719.6" r="3.5"/><circle cx="1274.6" cy="720" r="3.5"/><circle cx="1483.4" cy="583.3" r="3.5"/><circle cx="1414.9" cy="636.3" r="3.5"/><circle cx="1483.6" cy="582.9" r="3.5"/><circle cx="1455.6" cy="618.4" r="3.5"/><circle cx="1468.3" cy="595.2" r="3.5"/><circle cx="1478.4" cy="584.6" r="3.5"/><circle cx="1352.9" cy="645.3" r="3.5"/><circle cx="1329.2" cy="680.6" r="3.5"/><circle cx="1153" cy="788" r="3.5"/><circle cx="1128.1" cy="792.8" r="3.5"/><circle cx="1472.8" cy="578.6" r="3.5"/><circle cx="1107" cy="850.7" r="3.5"/><circle cx="1473.7" cy="583.6" r="3.5"/><circle cx="1157.7" cy="837.5" r="3.5"/><circle cx="1249.3" cy="709.6" r="3.5"/><circle cx="1452" cy="607" r="3.5"/><circle cx="1433.8" cy="600.7" r="3.5"/><circle cx="1131.5" cy="814.6" r="3.5"/><circle cx="1439.3" cy="607.5" r="3.5"/><circle cx="1399.2" cy="616.1" r="3.5"/><circle cx="1445.5" cy="620.8" r="3.5"/><circle cx="1426.3" cy="588.4" r="3.5"/><circle cx="1136.6" cy="819.9" r="3.5"/><circle cx="1419.1" cy="584.2" r="3.5"/><circle cx="1428.1" cy="610.1" r="3.5"/><circle cx="1457.6" cy="591.2" r="3.5"/><circle cx="1486" cy="585.5" r="3.5"/><circle cx="1137" cy="837.9" r="3.5"/><circle cx="1413.5" cy="607.9" r="3.5"/><circle cx="1428.7" cy="637.4" r="3.5"/><circle cx="1208.4" cy="730.8" r="3.5"/><circle cx="1280.7" cy="728.7" r="3.5"/><circle cx="1112.8" cy="837" r="3.5"/><circle cx="1240.7" cy="708.8" r="3.5"/><circle cx="1461.1" cy="607.4" r="3.5"/><circle cx="1165.7" cy="832" r="3.5"/><circle cx="1120.7" cy="835.5" r="3.5"/><circle cx="1367.1" cy="720.1" r="3.5"/><circle cx="1261.8" cy="747" r="3.5"/><circle cx="1150.9" cy="839.5" r="3.5"/><circle cx="1191.6" cy="804.6" r="3.5"/><circle cx="1256.3" cy="704.8" r="3.5"/><circle cx="1139" cy="787.5" r="3.5"/><circle cx="1485.5" cy="583.3" r="3.5"/><circle cx="1377.8" cy="639.8" r="3.5"/><circle cx="1448.8" cy="617.6" r="3.5"/><circle cx="1455.9" cy="596.2" r="3.5"/><circle cx="1410.8" cy="646.6" r="3.5"/><circle cx="1345.4" cy="641.9" r="3.5"/><circle cx="1142.3" cy="813.1" r="3.5"/><circle cx="1434.6" cy="575.4" r="3.5"/><circle cx="1113" cy="838.1" r="3.5"/><circle cx="1263.6" cy="723" r="3.5"/><circle cx="1326.2" cy="705" r="3.5"/><circle cx="1095.5" cy="861.5" r="3.5"/><circle cx="1368.1" cy="666" r="3.5"/><circle cx="1141.8" cy="859.1" r="3.5"/><circle cx="1205" cy="804.8" r="3.5"/><circle cx="1138.1" cy="850.1" r="3.5"/><circle cx="1186.5" cy="734.3" r="3.5"/><circle cx="1104.9" cy="848.4" r="3.5"/><circle cx="1107.3" cy="840.1" r="3.5"/><circle cx="1462.7" cy="575.1" r="3.5"/><circle cx="1176.2" cy="776.5" r="3.5"/><circle cx="1132" cy="847.9" r="3.5"/><circle cx="1462.1" cy="600.6" r="3.5"/><circle cx="1226.8" cy="704.1" r="3.5"/><circle cx="1423.6" cy="608.5" r="3.5"/><circle cx="1098.9" cy="858.1" r="3.5"/><circle cx="1234.4" cy="740.3" r="3.5"/><circle cx="1402.2" cy="619.4" r="3.5"/><circle cx="1196.1" cy="783.8" r="3.5"/><circle cx="1444.1" cy="622.2" r="3.5"/><circle cx="1469" cy="589.6" r="3.5"/><circle cx="1346.8" cy="653.6" r="3.5"/><circle cx="1386.6" cy="645" r="3.5"/><circle cx="1326.9" cy="611.7" r="3.5"/><circle cx="1236" cy="758.2" r="3.5"/><circle cx="1279.8" cy="679.3" r="3.5"/><circle cx="1246.7" cy="782.3" r="3.5"/><circle cx="1203.9" cy="767.5" r="3.5"/><circle cx="1315.6" cy="695.4" r="3.5"/><circle cx="1473.7" cy="586.4" r="3.5"/><circle cx="1475.7" cy="580" r="3.5"/><circle cx="1176.2" cy="821.4" r="3.5"/><circle cx="1170.2" cy="749.3" r="3.5"/><circle cx="1215.1" cy="803.4" r="3.5"/><circle cx="1280.1" cy="752.1" r="3.5"/><circle cx="1172.6" cy="821.7" r="3.5"/><circle cx="1433.6" cy="594" r="3.5"/><circle cx="1110.5" cy="846.2" r="3.5"/><circle cx="1258.9" cy="756.7" r="3.5"/><circle cx="1132.7" cy="834.3" r="3.5"/><circle cx="1150.5" cy="821.6" r="3.5"/><circle cx="1420.4" cy="657.8" r="3.5"/><circle cx="1135.6" cy="810.5" r="3.5"/><circle cx="1333.6" cy="692.2" r="3.5"/><circle cx="1416.5" cy="632" r="3.5"/><circle cx="1298" cy="738.1" r="3.5"/><circle cx="1294.8" cy="730.9" r="3.5"/><circle cx="1458.8" cy="585.7" r="3.5"/><circle cx="1257.8" cy="721.7" r="3.5"/><circle cx="1099.1" cy="851" r="3.5"/><circle cx="1220.5" cy="712.7" r="3.5"/><circle cx="1464.4" cy="581" r="3.5"/><circle cx="1352.8" cy="622.8" r="3.5"/><circle cx="1333.2" cy="657" r="3.5"/><circle cx="1241.4" cy="736.4" r="3.5"/><circle cx="1195.5" cy="749.6" r="3.5"/><circle cx="1107.2" cy="841.3" r="3.5"/><circle cx="1129.6" cy="808.8" r="3.5"/><circle cx="1473" cy="571.8" r="3.5"/><circle cx="1104.4" cy="832" r="3.5"/><circle cx="1476.6" cy="586.2" r="3.5"/><circle cx="1432.1" cy="623.7" r="3.5"/><circle cx="1475.5" cy="584.4" r="3.5"/><circle cx="1461" cy="590.1" r="3.5"/><circle cx="1257.1" cy="764.3" r="3.5"/><circle cx="1144.1" cy="785.3" r="3.5"/><circle cx="1471.8" cy="580.8" r="3.5"/><circle cx="1155.5" cy="798.3" r="3.5"/><circle cx="1270.6" cy="737.3" r="3.5"/><circle cx="1165.9" cy="841.7" r="3.5"/><circle cx="1097.2" cy="859.4" r="3.5"/><circle cx="1435.6" cy="641" r="3.5"/><circle cx="1221.5" cy="766.1" r="3.5"/><circle cx="1324.3" cy="678.3" r="3.5"/><circle cx="1308.2" cy="713.5" r="3.5"/><circle cx="1422.6" cy="623.3" r="3.5"/><circle cx="1444.7" cy="598.6" r="3.5"/><circle cx="1387" cy="695.5" r="3.5"/><circle cx="1473.7" cy="588.9" r="3.5"/><circle cx="1310.7" cy="715" r="3.5"/><circle cx="1239.9" cy="729.4" r="3.5"/><circle cx="1230.9" cy="698.4" r="3.5"/><circle cx="1157.4" cy="843" r="3.5"/><circle cx="1128.2" cy="808.9" r="3.5"/><circle cx="1356.4" cy="690.3" r="3.5"/><circle cx="1123.2" cy="836.8" r="3.5"/><circle cx="1246.3" cy="725.1" r="3.5"/><circle cx="1322.9" cy="643.4" r="3.5"/><circle cx="1443.1" cy="597.2" r="3.5"/><circle cx="1449.9" cy="580.5" r="3.5"/><circle cx="1446.6" cy="620.7" r="3.5"/><circle cx="1234.5" cy="741.4" r="3.5"/><circle cx="1210.7" cy="809.6" r="3.5"/><circle cx="1427.8" cy="633.7" r="3.5"/><circle cx="1105.2" cy="849.6" r="3.5"/><circle cx="1239.8" cy="737.9" r="3.5"/><circle cx="1096.5" cy="856.7" r="3.5"/><circle cx="1138.7" cy="782.6" r="3.5"/><circle cx="1394.4" cy="632.7" r="3.5"/><circle cx="1325.7" cy="660.7" r="3.5"/><circle cx="1469" cy="616.5" r="3.5"/><circle cx="1442" cy="607.7" r="3.5"/><circle cx="1109" cy="860.4" r="3.5"/><circle cx="1149.5" cy="798.7" r="3.5"/><circle cx="1392" cy="628.5" r="3.5"/><circle cx="1259.1" cy="755.9" r="3.5"/><circle cx="1365.3" cy="697.3" r="3.5"/><circle cx="1240.4" cy="737.2" r="3.5"/><circle cx="1286.2" cy="723" r="3.5"/><circle cx="1152.6" cy="781.6" r="3.5"/><circle cx="1171.2" cy="786" r="3.5"/><circle cx="1200.2" cy="757.7" r="3.5"/><circle cx="1428.6" cy="624.7" r="3.5"/><circle cx="1242.4" cy="694.1" r="3.5"/><circle cx="1201.9" cy="776.8" r="3.5"/><circle cx="1436" cy="640.1" r="3.5"/><circle cx="1104.7" cy="838.2" r="3.5"/><circle cx="1166.2" cy="714.3" r="3.5"/><circle cx="1109.6" cy="852.6" r="3.5"/><circle cx="1459.5" cy="578.5" r="3.5"/><circle cx="1106.2" cy="848.6" r="3.5"/><circle cx="1460.9" cy="590" r="3.5"/><circle cx="1377.5" cy="681.7" r="3.5"/><circle cx="1300.9" cy="715.5" r="3.5"/><circle cx="1426.1" cy="667.2" r="3.5"/><circle cx="1391.4" cy="656.2" r="3.5"/><circle cx="1471.7" cy="592.3" r="3.5"/><circle cx="1353.9" cy="662.3" r="3.5"/><circle cx="1232" cy="775.4" r="3.5"/><circle cx="1360.2" cy="668.3" r="3.5"/><circle cx="1169.7" cy="787.4" r="3.5"/><circle cx="1366.9" cy="644.2" r="3.5"/><circle cx="1252.2" cy="674.4" r="3.5"/><circle cx="1097.7" cy="845.6" r="3.5"/><circle cx="1382.8" cy="640.6" r="3.5"/><circle cx="1389.5" cy="649.5" r="3.5"/><circle cx="1173.8" cy="789.2" r="3.5"/><circle cx="1429.4" cy="631" r="3.5"/><circle cx="1484.9" cy="583" r="3.5"/><circle cx="1382.8" cy="654" r="3.5"/><circle cx="1104.8" cy="861.5" r="3.5"/><circle cx="1472.6" cy="588.4" r="3.5"/><circle cx="1453.7" cy="608.3" r="3.5"/><circle cx="1442.6" cy="620.9" r="3.5"/><circle cx="1465" cy="589.3" r="3.5"/><circle cx="1142.3" cy="840.3" r="3.5"/><circle cx="1358.1" cy="670.6" r="3.5"/><circle cx="1185.9" cy="770.9" r="3.5"/><circle cx="1100.3" cy="855.6" r="3.5"/><circle cx="1103.4" cy="848.3" r="3.5"/><circle cx="1420.3" cy="629" r="3.5"/><circle cx="1400.3" cy="662" r="3.5"/><circle cx="1471.1" cy="575.4" r="3.5"/><circle cx="1112.5" cy="821.9" r="3.5"/><circle cx="1281.6" cy="700.7" r="3.5"/><circle cx="1273.5" cy="727" r="3.5"/><circle cx="1146.5" cy="795.1" r="3.5"/><circle cx="1175.7" cy="826.6" r="3.5"/><circle cx="1419.6" cy="620.9" r="3.5"/><circle cx="1215.1" cy="776.4" r="3.5"/><circle cx="1191.7" cy="757.4" r="3.5"/><circle cx="1152" cy="845.7" r="3.5"/><circle cx="1163.3" cy="819.1" r="3.5"/><circle cx="1380.4" cy="618" r="3.5"/><circle cx="1163.1" cy="756.8" r="3.5"/><circle cx="1230.1" cy="738.7" r="3.5"/><circle cx="1189" cy="756.4" r="3.5"/><circle cx="1168.2" cy="804.8" r="3.5"/><circle cx="1468.3" cy="598.5" r="3.5"/><circle cx="1260.5" cy="695.6" r="3.5"/><circle cx="1265.5" cy="749.1" r="3.5"/><circle cx="1441.9" cy="612.4" r="3.5"/><circle cx="1170.3" cy="796.8" r="3.5"/><circle cx="1435.8" cy="636.6" r="3.5"/><circle cx="1180.6" cy="787.2" r="3.5"/><circle cx="1473" cy="596.8" r="3.5"/><circle cx="1127.3" cy="852" r="3.5"/><circle cx="1141.8" cy="843.8" r="3.5"/><circle cx="1467.7" cy="598.1" r="3.5"/><circle cx="1373.3" cy="677" r="3.5"/><circle cx="1166.9" cy="808.1" r="3.5"/><circle cx="1462.2" cy="576.8" r="3.5"/><circle cx="1115.2" cy="813.5" r="3.5"/><circle cx="1111.8" cy="856" r="3.5"/><circle cx="1294.4" cy="741.5" r="3.5"/><circle cx="1377.1" cy="690.1" r="3.5"/><circle cx="1485.7" cy="592.2" r="3.5"/><circle cx="1467" cy="592.6" r="3.5"/><circle cx="1393.4" cy="596.7" r="3.5"/><circle cx="1129.9" cy="822" r="3.5"/><circle cx="1250.8" cy="688.3" r="3.5"/><circle cx="1378.4" cy="718.1" r="3.5"/><circle cx="1463.8" cy="606.2" r="3.5"/><circle cx="1464.8" cy="572.5" r="3.5"/><circle cx="1208.8" cy="730.9" r="3.5"/><circle cx="1421" cy="600.8" r="3.5"/><circle cx="1428.5" cy="599.9" r="3.5"/><circle cx="1475.5" cy="592.8" r="3.5"/><circle cx="1487.5" cy="588.1" r="3.5"/><circle cx="1301.3" cy="735.5" r="3.5"/><circle cx="1258.1" cy="716.8" r="3.5"/><circle cx="1291.4" cy="691.4" r="3.5"/><circle cx="1394.7" cy="647.4" r="3.5"/><circle cx="1443.1" cy="598" r="3.5"/><circle cx="1273.2" cy="741.7" r="3.5"/><circle cx="1119.6" cy="811" r="3.5"/><circle cx="1345.1" cy="679.5" r="3.5"/><circle cx="1293.3" cy="716.6" r="3.5"/><circle cx="1107.5" cy="849.2" r="3.5"/><circle cx="1174.8" cy="737" r="3.5"/><circle cx="1434.5" cy="624.6" r="3.5"/><circle cx="1408.3" cy="642" r="3.5"/><circle cx="1279.5" cy="733.5" r="3.5"/><circle cx="1132.7" cy="862.4" r="3.5"/><circle cx="1470.6" cy="599.5" r="3.5"/><circle cx="1412.2" cy="610.4" r="3.5"/><circle cx="1223.3" cy="759.2" r="3.5"/><circle cx="1467.4" cy="589.2" r="3.5"/><circle cx="1329.4" cy="664.2" r="3.5"/><circle cx="1417.3" cy="609.5" r="3.5"/><circle cx="1384.4" cy="622.8" r="3.5"/><circle cx="1415.6" cy="637.6" r="3.5"/><circle cx="1298.4" cy="669.5" r="3.5"/><circle cx="1418.1" cy="617.2" r="3.5"/><circle cx="1471.6" cy="586.2" r="3.5"/><circle cx="1300.2" cy="705.2" r="3.5"/><circle cx="1363.7" cy="660.5" r="3.5"/><circle cx="1484" cy="585.5" r="3.5"/><circle cx="1306.8" cy="693.2" r="3.5"/><circle cx="1106.2" cy="837.1" r="3.5"/><circle cx="1119.5" cy="808.6" r="3.5"/><circle cx="1142.3" cy="858.7" r="3.5"/><circle cx="1102.4" cy="837.9" r="3.5"/><circle cx="1379.9" cy="668.4" r="3.5"/><circle cx="1317.2" cy="730.1" r="3.5"/><circle cx="1189" cy="750.5" r="3.5"/><circle cx="1409.1" cy="629.2" r="3.5"/><circle cx="1262.1" cy="728.8" r="3.5"/><circle cx="1450.2" cy="616.5" r="3.5"/><circle cx="1390.7" cy="632.7" r="3.5"/><circle cx="1176.7" cy="750.3" r="3.5"/><circle cx="1336.8" cy="652.7" r="3.5"/><circle cx="1164.2" cy="852.9" r="3.5"/><circle cx="1260.8" cy="698.3" r="3.5"/><circle cx="1164.7" cy="810.6" r="3.5"/><circle cx="1367.8" cy="679.6" r="3.5"/><circle cx="1190.3" cy="815.2" r="3.5"/><circle cx="1423.3" cy="609.2" r="3.5"/><circle cx="1104.1" cy="842.8" r="3.5"/><circle cx="1103.2" cy="859.7" r="3.5"/><circle cx="1463.4" cy="599.2" r="3.5"/><circle cx="1291.1" cy="704.9" r="3.5"/><circle cx="1172.6" cy="749.6" r="3.5"/><circle cx="1161.7" cy="837.5" r="3.5"/><circle cx="1102.9" cy="843.2" r="3.5"/><circle cx="1112" cy="830.6" r="3.5"/><circle cx="1472.7" cy="585.8" r="3.5"/><circle cx="1257.1" cy="731.4" r="3.5"/><circle cx="1407.8" cy="633.5" r="3.5"/><circle cx="1122.9" cy="831.3" r="3.5"/><circle cx="1374.9" cy="641.8" r="3.5"/><circle cx="1473.6" cy="582.4" r="3.5"/><circle cx="1483.9" cy="581.6" r="3.5"/><circle cx="1193.6" cy="751.4" r="3.5"/><circle cx="1198.3" cy="785.6" r="3.5"/><circle cx="1147.2" cy="809.6" r="3.5"/><circle cx="1214.4" cy="727.1" r="3.5"/><circle cx="1291.3" cy="688.4" r="3.5"/><circle cx="1463.2" cy="596.6" r="3.5"/><circle cx="1360" cy="709" r="3.5"/><circle cx="1351.4" cy="695.3" r="3.5"/><circle cx="1134" cy="789.1" r="3.5"/><circle cx="1189.6" cy="810.2" r="3.5"/><circle cx="1151.2" cy="838.6" r="3.5"/><circle cx="1434.7" cy="621.7" r="3.5"/><circle cx="1316.2" cy="668" r="3.5"/><circle cx="1140" cy="788.2" r="3.5"/><circle cx="1356.3" cy="643.2" r="3.5"/><circle cx="1458.8" cy="601.4" r="3.5"/><circle cx="1096.9" cy="846" r="3.5"/><circle cx="1444" cy="599.2" r="3.5"/><circle cx="1152.5" cy="860.7" r="3.5"/><circle cx="1107.2" cy="837.5" r="3.5"/><circle cx="1134.9" cy="832.6" r="3.5"/><circle cx="1471.9" cy="591.6" r="3.5"/><circle cx="1394.9" cy="618.4" r="3.5"/><circle cx="1466.7" cy="588.1" r="3.5"/><circle cx="1223.5" cy="768.8" r="3.5"/><circle cx="1340.8" cy="652.8" r="3.5"/><circle cx="1166.5" cy="811.8" r="3.5"/><circle cx="1107.9" cy="843.9" r="3.5"/><circle cx="1479.1" cy="581.9" r="3.5"/><circle cx="1466.9" cy="583" r="3.5"/><circle cx="1357.3" cy="632.5" r="3.5"/><circle cx="1151" cy="862.8" r="3.5"/><circle cx="1319.8" cy="687.9" r="3.5"/><circle cx="1426.4" cy="588.8" r="3.5"/><circle cx="1459.6" cy="575" r="3.5"/><circle cx="1266" cy="753.8" r="3.5"/><circle cx="1194.7" cy="738.5" r="3.5"/><circle cx="1235.9" cy="787.7" r="3.5"/><circle cx="1448.3" cy="595.3" r="3.5"/><circle cx="1378.2" cy="654.1" r="3.5"/><circle cx="1334.6" cy="685.3" r="3.5"/><circle cx="1114.6" cy="850.2" r="3.5"/><circle cx="1287.4" cy="733.1" r="3.5"/><circle cx="1299.2" cy="705.7" r="3.5"/><circle cx="1405" cy="595.8" r="3.5"/><circle cx="1334.4" cy="637.9" r="3.5"/><circle cx="1192.3" cy="820.9" r="3.5"/><circle cx="1319.4" cy="714.1" r="3.5"/><circle cx="1361.1" cy="644.2" r="3.5"/><circle cx="1459.3" cy="613.3" r="3.5"/><circle cx="1404.6" cy="625.5" r="3.5"/><circle cx="1457.6" cy="577.9" r="3.5"/><circle cx="1437.6" cy="624" r="3.5"/><circle cx="1457.3" cy="581.1" r="3.5"/><circle cx="1480.4" cy="590.4" r="3.5"/><circle cx="1241.4" cy="750.6" r="3.5"/><circle cx="1486.6" cy="580.4" r="3.5"/><circle cx="1116.3" cy="825.2" r="3.5"/><circle cx="1271.3" cy="721.1" r="3.5"/><circle cx="1436" cy="639.6" r="3.5"/><circle cx="1214" cy="705.4" r="3.5"/><circle cx="1392.6" cy="658.1" r="3.5"/><circle cx="1453.8" cy="588.1" r="3.5"/><circle cx="1177.7" cy="762.5" r="3.5"/><circle cx="1482.6" cy="582.6" r="3.5"/><circle cx="1274.8" cy="722.2" r="3.5"/><circle cx="1465.1" cy="601.1" r="3.5"/><circle cx="1283.4" cy="734" r="3.5"/><circle cx="1445.3" cy="595.3" r="3.5"/><circle cx="1367.3" cy="654.5" r="3.5"/><circle cx="1233.4" cy="787.7" r="3.5"/><circle cx="1434.2" cy="598.1" r="3.5"/><circle cx="1209.5" cy="744.9" r="3.5"/><circle cx="1488.2" cy="588.2" r="3.5"/><circle cx="1435.5" cy="623.7" r="3.5"/><circle cx="1225.3" cy="713.1" r="3.5"/><circle cx="1101.2" cy="845.1" r="3.5"/><circle cx="1422.1" cy="595.8" r="3.5"/><circle cx="1147.7" cy="848" r="3.5"/><circle cx="1436.9" cy="589.7" r="3.5"/><circle cx="1436.5" cy="594.7" r="3.5"/><circle cx="1339.9" cy="671" r="3.5"/><circle cx="1183.6" cy="783.6" r="3.5"/><circle cx="1266.2" cy="722.2" r="3.5"/><circle cx="1470.2" cy="585.5" r="3.5"/><circle cx="1252.5" cy="716.8" r="3.5"/><circle cx="1482.4" cy="575.5" r="3.5"/><circle cx="1289.3" cy="687.9" r="3.5"/><circle cx="1211.3" cy="721.7" r="3.5"/><circle cx="1368.3" cy="669.6" r="3.5"/><circle cx="1363.9" cy="674.5" r="3.5"/><circle cx="1393.5" cy="628" r="3.5"/><circle cx="1377.8" cy="684.5" r="3.5"/><circle cx="1273.8" cy="719.2" r="3.5"/><circle cx="1117.2" cy="857.7" r="3.5"/><circle cx="1486.7" cy="586.2" r="3.5"/><circle cx="1485.6" cy="576.9" r="3.5"/><circle cx="1273.7" cy="741.2" r="3.5"/><circle cx="1214" cy="765.3" r="3.5"/><circle cx="1253.8" cy="750.7" r="3.5"/><circle cx="1293" cy="668.4" r="3.5"/><circle cx="1156.2" cy="860.2" r="3.5"/><circle cx="1449.5" cy="577.4" r="3.5"/><circle cx="1256.5" cy="713.7" r="3.5"/><circle cx="1470.3" cy="600.7" r="3.5"/><circle cx="1242.2" cy="708.5" r="3.5"/><circle cx="1331.8" cy="680.4" r="3.5"/><circle cx="1347.7" cy="640.2" r="3.5"/><circle cx="1193" cy="719.4" r="3.5"/><circle cx="1100.4" cy="851" r="3.5"/><circle cx="1290.7" cy="727" r="3.5"/><circle cx="1216.8" cy="717.4" r="3.5"/><circle cx="1298.1" cy="671.5" r="3.5"/><circle cx="1137.3" cy="777.9" r="3.5"/><circle cx="1334" cy="676.7" r="3.5"/><circle cx="1339" cy="697.1" r="3.5"/><circle cx="1357.8" cy="672.8" r="3.5"/><circle cx="1102.5" cy="841.6" r="3.5"/><circle cx="1316.2" cy="654.8" r="3.5"/><circle cx="1095.7" cy="853.2" r="3.5"/><circle cx="1395.9" cy="606.9" r="3.5"/><circle cx="1451.4" cy="602.7" r="3.5"/><circle cx="1292.6" cy="719.9" r="3.5"/><circle cx="1264.8" cy="719.5" r="3.5"/><circle cx="1256.4" cy="771.4" r="3.5"/><circle cx="1283" cy="688.1" r="3.5"/><circle cx="1451.4" cy="612.5" r="3.5"/><circle cx="1118.4" cy="806.8" r="3.5"/><circle cx="1410.5" cy="633.6" r="3.5"/><circle cx="1263" cy="766.7" r="3.5"/><circle cx="1474.7" cy="585.4" r="3.5"/><circle cx="1373" cy="678.3" r="3.5"/><circle cx="1485.8" cy="586.8" r="3.5"/><circle cx="1424.1" cy="589.5" r="3.5"/><circle cx="1148.9" cy="761.2" r="3.5"/><circle cx="1152" cy="830.2" r="3.5"/><circle cx="1442.3" cy="614.9" r="3.5"/><circle cx="1485.3" cy="589" r="3.5"/><circle cx="1234" cy="788.8" r="3.5"/><circle cx="1289" cy="687.5" r="3.5"/><circle cx="1446.8" cy="579.1" r="3.5"/><circle cx="1417.2" cy="616.6" r="3.5"/><circle cx="1426.7" cy="613.6" r="3.5"/><circle cx="1115.7" cy="861.4" r="3.5"/><circle cx="1420.6" cy="604.5" r="3.5"/><circle cx="1239.4" cy="698.6" r="3.5"/><circle cx="1390.8" cy="670" r="3.5"/><circle cx="1487.9" cy="584.7" r="3.5"/><circle cx="1155" cy="813.4" r="3.5"/><circle cx="1387.2" cy="665.3" r="3.5"/><circle cx="1426.4" cy="595.2" r="3.5"/><circle cx="1304.5" cy="722" r="3.5"/><circle cx="1368.1" cy="690.5" r="3.5"/><circle cx="1391.2" cy="634.5" r="3.5"/><circle cx="1345.9" cy="657.5" r="3.5"/><circle cx="1384.9" cy="654.2" r="3.5"/><circle cx="1375.1" cy="610.9" r="3.5"/><circle cx="1454.7" cy="585.2" r="3.5"/><circle cx="1316.9" cy="701.7" r="3.5"/><circle cx="1354.7" cy="685.7" r="3.5"/><circle cx="1239.3" cy="721.5" r="3.5"/><circle cx="1472.2" cy="590.8" r="3.5"/><circle cx="1394.6" cy="641.3" r="3.5"/><circle cx="1458.1" cy="603.3" r="3.5"/><circle cx="1120" cy="839.6" r="3.5"/><circle cx="1474.5" cy="589.4" r="3.5"/><circle cx="1443.9" cy="578.9" r="3.5"/><circle cx="1424.5" cy="627" r="3.5"/><circle cx="1188" cy="751" r="3.5"/><circle cx="1287.3" cy="726.3" r="3.5"/><circle cx="1356.7" cy="625.7" r="3.5"/><circle cx="1436.8" cy="589.5" r="3.5"/><circle cx="1420.2" cy="602.7" r="3.5"/><circle cx="1368.8" cy="648.6" r="3.5"/><circle cx="1435.2" cy="605.7" r="3.5"/><circle cx="1220.3" cy="764.9" r="3.5"/><circle cx="1485.4" cy="579.2" r="3.5"/><circle cx="1482.6" cy="578.6" r="3.5"/><circle cx="1425.3" cy="618.2" r="3.5"/><circle cx="1407.6" cy="638.7" r="3.5"/><circle cx="1306.9" cy="715.9" r="3.5"/><circle cx="1437" cy="585.7" r="3.5"/><circle cx="1109.5" cy="852.8" r="3.5"/><circle cx="1224.8" cy="788.6" r="3.5"/><circle cx="1455.2" cy="607.4" r="3.5"/><circle cx="1207.8" cy="763.9" r="3.5"/><circle cx="1479.8" cy="582.3" r="3.5"/><circle cx="1154.1" cy="756.2" r="3.5"/><circle cx="1350" cy="626.8" r="3.5"/><circle cx="1426.9" cy="615.7" r="3.5"/><circle cx="1471.5" cy="589.1" r="3.5"/><circle cx="1166.5" cy="856.7" r="3.5"/><circle cx="1329.4" cy="690.8" r="3.5"/><circle cx="1381.7" cy="617.7" r="3.5"/><circle cx="1131.8" cy="851.2" r="3.5"/><circle cx="1429.6" cy="614.6" r="3.5"/><circle cx="1107.9" cy="844.1" r="3.5"/><circle cx="1433.7" cy="636.9" r="3.5"/><circle cx="1219.2" cy="793.2" r="3.5"/><circle cx="1444.5" cy="607.8" r="3.5"/><circle cx="1451.3" cy="617.5" r="3.5"/><circle cx="1187.9" cy="805.6" r="3.5"/><circle cx="1480.5" cy="586.4" r="3.5"/><circle cx="1132.1" cy="802.4" r="3.5"/><circle cx="1266.8" cy="688.1" r="3.5"/><circle cx="1194.3" cy="750.8" r="3.5"/><circle cx="1137.2" cy="840.9" r="3.5"/><circle cx="1162.5" cy="767.7" r="3.5"/><circle cx="1465.4" cy="577.5" r="3.5"/><circle cx="1343.3" cy="643.5" r="3.5"/><circle cx="1442.1" cy="594.1" r="3.5"/><circle cx="1450.6" cy="593.5" r="3.5"/><circle cx="1389.5" cy="647.6" r="3.5"/><circle cx="1108.5" cy="832.5" r="3.5"/><circle cx="1128.3" cy="811.4" r="3.5"/><circle cx="1261.4" cy="721.8" r="3.5"/><circle cx="1470.2" cy="575.9" r="3.5"/><circle cx="1264.3" cy="723.7" r="3.5"/><circle cx="1099.4" cy="841.7" r="3.5"/><circle cx="1182.7" cy="760.5" r="3.5"/><circle cx="1435.4" cy="595.2" r="3.5"/><circle cx="1462.8" cy="601.8" r="3.5"/><circle cx="1436.4" cy="598.3" r="3.5"/><circle cx="1275.6" cy="720.3" r="3.5"/><circle cx="1316.1" cy="662" r="3.5"/><circle cx="1308.4" cy="730.9" r="3.5"/><circle cx="1248.8" cy="770" r="3.5"/><circle cx="1479.6" cy="575.1" r="3.5"/><circle cx="1295.3" cy="739.3" r="3.5"/><circle cx="1110.1" cy="829.1" r="3.5"/><circle cx="1451.2" cy="587.6" r="3.5"/><circle cx="1409.2" cy="601" r="3.5"/><circle cx="1233.8" cy="717.4" r="3.5"/><circle cx="1207.2" cy="727.1" r="3.5"/><circle cx="1286.3" cy="718.5" r="3.5"/><circle cx="1137.4" cy="851.3" r="3.5"/><circle cx="1111.8" cy="815.2" r="3.5"/><circle cx="1472.6" cy="590.3" r="3.5"/><circle cx="1171" cy="783.9" r="3.5"/><circle cx="1117.1" cy="824.9" r="3.5"/><circle cx="1422.5" cy="640.1" r="3.5"/><circle cx="1407.7" cy="625.4" r="3.5"/><circle cx="1431.7" cy="610.8" r="3.5"/><circle cx="1473" cy="588.9" r="3.5"/><circle cx="1482.2" cy="579.7" r="3.5"/><circle cx="1267.8" cy="707.6" r="3.5"/><circle cx="1391.5" cy="641.5" r="3.5"/><circle cx="1248.8" cy="717.8" r="3.5"/><circle cx="1218.7" cy="785" r="3.5"/><circle cx="1106.1" cy="847" r="3.5"/><circle cx="1191.7" cy="807.8" r="3.5"/><circle cx="1465" cy="589.5" r="3.5"/><circle cx="1114.5" cy="842.5" r="3.5"/><circle cx="1210.7" cy="710.8" r="3.5"/><circle cx="1376.9" cy="629.9" r="3.5"/><circle cx="1107.6" cy="837" r="3.5"/><circle cx="1447.2" cy="594.8" r="3.5"/><circle cx="1469.7" cy="579.2" r="3.5"/><circle cx="1198.7" cy="799.9" r="3.5"/><circle cx="1392.3" cy="656.4" r="3.5"/><circle cx="1184.2" cy="734.5" r="3.5"/><circle cx="1345.3" cy="678.2" r="3.5"/><circle cx="1240" cy="787.3" r="3.5"/><circle cx="1150.6" cy="805.6" r="3.5"/><circle cx="1154.9" cy="833.5" r="3.5"/><circle cx="1442.7" cy="608.1" r="3.5"/><circle cx="1352.5" cy="639.9" r="3.5"/><circle cx="1284.1" cy="649.3" r="3.5"/><circle cx="1145.8" cy="823.3" r="3.5"/><circle cx="1121.7" cy="822.2" r="3.5"/><circle cx="1393.3" cy="624.7" r="3.5"/><circle cx="1484.9" cy="582.7" r="3.5"/><circle cx="1100.2" cy="852.6" r="3.5"/><circle cx="1109" cy="845.7" r="3.5"/><circle cx="1095.1" cy="858.4" r="3.5"/><circle cx="1464.3" cy="586.9" r="3.5"/><circle cx="1477.3" cy="576.9" r="3.5"/><circle cx="1476" cy="587.3" r="3.5"/><circle cx="1475.5" cy="582.6" r="3.5"/><circle cx="1206.8" cy="778.2" r="3.5"/><circle cx="1479.8" cy="583.2" r="3.5"/><circle cx="1404.1" cy="629.2" r="3.5"/><circle cx="1374.6" cy="652.4" r="3.5"/><circle cx="1109.8" cy="826.8" r="3.5"/><circle cx="1220.5" cy="707.2" r="3.5"/><circle cx="1436.8" cy="614.5" r="3.5"/><circle cx="1159.2" cy="763.2" r="3.5"/><circle cx="1441.2" cy="613.4" r="3.5"/><circle cx="1440.7" cy="629.6" r="3.5"/><circle cx="1309.2" cy="659.8" r="3.5"/><circle cx="1276.4" cy="721.6" r="3.5"/><circle cx="1370.2" cy="613.1" r="3.5"/><circle cx="1464.5" cy="601.3" r="3.5"/><circle cx="1256.4" cy="697.9" r="3.5"/><circle cx="1330.5" cy="684.8" r="3.5"/><circle cx="1285.7" cy="681.2" r="3.5"/><circle cx="1473.4" cy="585.6" r="3.5"/><circle cx="1203.2" cy="766.9" r="3.5"/><circle cx="1437.4" cy="616.1" r="3.5"/><circle cx="1250.1" cy="744.7" r="3.5"/><circle cx="1221.2" cy="782.3" r="3.5"/><circle cx="1296.3" cy="750.3" r="3.5"/><circle cx="1298.4" cy="707.7" r="3.5"/><circle cx="1155.1" cy="858.3" r="3.5"/><circle cx="1102.6" cy="839.7" r="3.5"/><circle cx="1253.2" cy="763" r="3.5"/><circle cx="1381.6" cy="655.3" r="3.5"/><circle cx="1330.3" cy="663.5" r="3.5"/><circle cx="1125.1" cy="855.2" r="3.5"/><circle cx="1195.4" cy="752.6" r="3.5"/><circle cx="1158.3" cy="797.6" r="3.5"/><circle cx="1172.7" cy="814.7" r="3.5"/><circle cx="1418.2" cy="646.3" r="3.5"/><circle cx="1316.8" cy="701.8" r="3.5"/><circle cx="1117.3" cy="805.3" r="3.5"/><circle cx="1189.1" cy="755.6" r="3.5"/><circle cx="1185.9" cy="810.4" r="3.5"/><circle cx="1363.3" cy="671.8" r="3.5"/><circle cx="1101.8" cy="855.9" r="3.5"/><circle cx="1284.2" cy="672.5" r="3.5"/><circle cx="1179" cy="815.2" r="3.5"/><circle cx="1277.3" cy="690.4" r="3.5"/><circle cx="1198.1" cy="769.3" r="3.5"/><circle cx="1342.7" cy="668.1" r="3.5"/><circle cx="1486.2" cy="579.3" r="3.5"/><circle cx="1224.6" cy="721.8" r="3.5"/><circle cx="1295.6" cy="712.5" r="3.5"/><circle cx="1426" cy="635" r="3.5"/><circle cx="1133.6" cy="846.4" r="3.5"/><circle cx="1116.5" cy="849.7" r="3.5"/><circle cx="1380.2" cy="681.2" r="3.5"/><circle cx="1470.8" cy="572.7" r="3.5"/><circle cx="1481.3" cy="578.5" r="3.5"/><circle cx="1459.6" cy="562.5" r="3.5"/><circle cx="1460.5" cy="605.3" r="3.5"/><circle cx="1480.8" cy="583.1" r="3.5"/><circle cx="1445.9" cy="582.3" r="3.5"/><circle cx="1476" cy="583" r="3.5"/><circle cx="1453.8" cy="621.4" r="3.5"/><circle cx="1453.5" cy="577.6" r="3.5"/><circle cx="1339.6" cy="635.3" r="3.5"/><circle cx="1432.1" cy="584.8" r="3.5"/><circle cx="1421.2" cy="612.8" r="3.5"/><circle cx="1108.9" cy="842" r="3.5"/><circle cx="1188.4" cy="772.5" r="3.5"/><circle cx="1200.1" cy="772.3" r="3.5"/><circle cx="1354.7" cy="680.3" r="3.5"/><circle cx="1467.2" cy="598.7" r="3.5"/><circle cx="1291.2" cy="728.5" r="3.5"/><circle cx="1157.7" cy="791.6" r="3.5"/><circle cx="1463.2" cy="600.8" r="3.5"/><circle cx="1108" cy="847.3" r="3.5"/><circle cx="1356" cy="639.9" r="3.5"/><circle cx="1388.4" cy="641" r="3.5"/><circle cx="1176.7" cy="756.8" r="3.5"/><circle cx="1126.4" cy="796.2" r="3.5"/><circle cx="1304.1" cy="716" r="3.5"/><circle cx="1154.9" cy="811.4" r="3.5"/><circle cx="1350.8" cy="655.8" r="3.5"/><circle cx="1257.8" cy="762.4" r="3.5"/><circle cx="1356.2" cy="687" r="3.5"/><circle cx="1119.3" cy="849.4" r="3.5"/><circle cx="1377.8" cy="644.3" r="3.5"/><circle cx="1330.2" cy="668.9" r="3.5"/><circle cx="1441" cy="598.3" r="3.5"/><circle cx="1446.1" cy="616.1" r="3.5"/><circle cx="1402.3" cy="603.4" r="3.5"/><circle cx="1095.7" cy="853.7" r="3.5"/><circle cx="1205.9" cy="750.8" r="3.5"/><circle cx="1155" cy="793.1" r="3.5"/><circle cx="1413.9" cy="627.5" r="3.5"/><circle cx="1113.4" cy="847.3" r="3.5"/><circle cx="1293.2" cy="687.4" r="3.5"/><circle cx="1120.3" cy="845.1" r="3.5"/><circle cx="1298.1" cy="676.5" r="3.5"/><circle cx="1308" cy="753.9" r="3.5"/><circle cx="1443.5" cy="599.4" r="3.5"/><circle cx="1458.7" cy="613" r="3.5"/><circle cx="1141.2" cy="807.2" r="3.5"/><circle cx="1284" cy="695.6" r="3.5"/><circle cx="1366.1" cy="670.6" r="3.5"/><circle cx="1263.6" cy="775.6" r="3.5"/><circle cx="1265" cy="738.8" r="3.5"/><circle cx="1336" cy="646.1" r="3.5"/><circle cx="1415.6" cy="628.9" r="3.5"/><circle cx="1480.4" cy="592.5" r="3.5"/><circle cx="1378.6" cy="667.3" r="3.5"/><circle cx="1197.1" cy="752" r="3.5"/><circle cx="1319.1" cy="653.8" r="3.5"/><circle cx="1469.1" cy="589.1" r="3.5"/><circle cx="1238" cy="717.1" r="3.5"/><circle cx="1271.6" cy="698.9" r="3.5"/><circle cx="1174.6" cy="762.4" r="3.5"/><circle cx="1277.5" cy="742.7" r="3.5"/><circle cx="1369.7" cy="652.1" r="3.5"/><circle cx="1480.6" cy="579.3" r="3.5"/><circle cx="1221.5" cy="780.1" r="3.5"/><circle cx="1449.7" cy="614" r="3.5"/><circle cx="1376.9" cy="658.6" r="3.5"/><circle cx="1295.3" cy="681.3" r="3.5"/><circle cx="1112.5" cy="826.4" r="3.5"/><circle cx="1345.1" cy="680.2" r="3.5"/><circle cx="1111.3" cy="823.6" r="3.5"/><circle cx="1183.6" cy="796.7" r="3.5"/><circle cx="1389.8" cy="603.4" r="3.5"/><circle cx="1306.4" cy="678.9" r="3.5"/><circle cx="1440.9" cy="631.2" r="3.5"/><circle cx="1433.6" cy="599" r="3.5"/><circle cx="1108.4" cy="854.2" r="3.5"/><circle cx="1103.4" cy="850.7" r="3.5"/><circle cx="1202.2" cy="767.6" r="3.5"/><circle cx="1363.6" cy="697.4" r="3.5"/><circle cx="1154.4" cy="828.3" r="3.5"/><circle cx="1379.8" cy="634.1" r="3.5"/><circle cx="1462.5" cy="598.7" r="3.5"/><circle cx="1198.7" cy="701.4" r="3.5"/><circle cx="1104.5" cy="852.7" r="3.5"/><circle cx="1459.1" cy="605.9" r="3.5"/><circle cx="1378.3" cy="656.8" r="3.5"/><circle cx="1469.3" cy="591.4" r="3.5"/><circle cx="1486.5" cy="585.5" r="3.5"/><circle cx="1159.2" cy="831.8" r="3.5"/><circle cx="1281.4" cy="702.9" r="3.5"/><circle cx="1265.5" cy="765.3" r="3.5"/><circle cx="1433.4" cy="636.1" r="3.5"/><circle cx="1182.6" cy="796.2" r="3.5"/><circle cx="1350.9" cy="693.8" r="3.5"/><circle cx="1162.5" cy="829.7" r="3.5"/><circle cx="1125.7" cy="816.7" r="3.5"/><circle cx="1290.4" cy="704.5" r="3.5"/><circle cx="1101.3" cy="846.9" r="3.5"/><circle cx="1366.3" cy="630.1" r="3.5"/><circle cx="1263.5" cy="737.3" r="3.5"/><circle cx="1168.6" cy="762.5" r="3.5"/><circle cx="1449.6" cy="595" r="3.5"/><circle cx="1402.9" cy="630.3" r="3.5"/><circle cx="1334.8" cy="693.2" r="3.5"/><circle cx="1110" cy="841.4" r="3.5"/><circle cx="1113.9" cy="842.4" r="3.5"/><circle cx="1434.9" cy="588.9" r="3.5"/><circle cx="1101.2" cy="835.5" r="3.5"/><circle cx="1238.8" cy="794.3" r="3.5"/><circle cx="1143.4" cy="772.3" r="3.5"/><circle cx="1108.5" cy="840.5" r="3.5"/><circle cx="1454.3" cy="613.3" r="3.5"/><circle cx="1120.5" cy="817.6" r="3.5"/><circle cx="1199" cy="761" r="3.5"/><circle cx="1242" cy="747.1" r="3.5"/><circle cx="1349.4" cy="633" r="3.5"/><circle cx="1264.7" cy="696.2" r="3.5"/><circle cx="1191.8" cy="755.8" r="3.5"/><circle cx="1283" cy="738.7" r="3.5"/><circle cx="1114.4" cy="857" r="3.5"/><circle cx="1448.1" cy="588" r="3.5"/><circle cx="1375.5" cy="684.1" r="3.5"/><circle cx="1232.9" cy="732.3" r="3.5"/><circle cx="1169.9" cy="745.8" r="3.5"/><circle cx="1148.1" cy="865.2" r="3.5"/><circle cx="1189.1" cy="782" r="3.5"/><circle cx="1459.4" cy="596.4" r="3.5"/><circle cx="1246.9" cy="770.8" r="3.5"/><circle cx="1447.8" cy="624" r="3.5"/><circle cx="1370.5" cy="614.7" r="3.5"/><circle cx="1371.5" cy="636.7" r="3.5"/><circle cx="1458.9" cy="614.4" r="3.5"/><circle cx="1186.1" cy="750.3" r="3.5"/><circle cx="1268" cy="689.8" r="3.5"/><circle cx="1178.3" cy="809.4" r="3.5"/><circle cx="1405" cy="648.2" r="3.5"/><circle cx="1225.2" cy="750.5" r="3.5"/><circle cx="1113.5" cy="822.5" r="3.5"/><circle cx="1135.3" cy="814.1" r="3.5"/><circle cx="1374.2" cy="661.2" r="3.5"/><circle cx="1249.8" cy="719.9" r="3.5"/><circle cx="1462.4" cy="590.1" r="3.5"/><circle cx="1308.7" cy="729.9" r="3.5"/><circle cx="1312.4" cy="668.2" r="3.5"/><circle cx="1405.4" cy="644.5" r="3.5"/><circle cx="1460" cy="584.8" r="3.5"/><circle cx="1364.4" cy="626.7" r="3.5"/><circle cx="1093.8" cy="856.1" r="3.5"/><circle cx="1179.2" cy="822.4" r="3.5"/><circle cx="1450.5" cy="603.3" r="3.5"/><circle cx="1117.8" cy="830.4" r="3.5"/><circle cx="1387.4" cy="666.4" r="3.5"/><circle cx="1119" cy="835.6" r="3.5"/><circle cx="1466.4" cy="595.9" r="3.5"/><circle cx="1402.7" cy="632.3" r="3.5"/><circle cx="1116.1" cy="844.9" r="3.5"/><circle cx="1459.3" cy="575.1" r="3.5"/><circle cx="1274.4" cy="684.3" r="3.5"/><circle cx="1475.4" cy="581.1" r="3.5"/><circle cx="1100.2" cy="860.3" r="3.5"/><circle cx="1211.8" cy="709.5" r="3.5"/><circle cx="1263.7" cy="742.8" r="3.5"/><circle cx="1199.4" cy="787.4" r="3.5"/><circle cx="1479.3" cy="583.2" r="3.5"/><circle cx="1373.3" cy="632.4" r="3.5"/><circle cx="1162.1" cy="722.8" r="3.5"/><circle cx="1185.1" cy="741.6" r="3.5"/><circle cx="1466" cy="577.4" r="3.5"/><circle cx="1112.6" cy="848" r="3.5"/><circle cx="1472.7" cy="593.3" r="3.5"/><circle cx="1470" cy="583.7" r="3.5"/><circle cx="1353.5" cy="694.1" r="3.5"/><circle cx="1203.1" cy="737.8" r="3.5"/><circle cx="1458.9" cy="618.4" r="3.5"/><circle cx="1252.5" cy="760.8" r="3.5"/><circle cx="1111.3" cy="836.3" r="3.5"/><circle cx="1137.3" cy="812.7" r="3.5"/><circle cx="1271.4" cy="704.6" r="3.5"/><circle cx="1286.6" cy="718.4" r="3.5"/><circle cx="1442.5" cy="614.4" r="3.5"/><circle cx="1285.1" cy="738" r="3.5"/><circle cx="1430.5" cy="633.1" r="3.5"/><circle cx="1479.7" cy="588.4" r="3.5"/><circle cx="1471.3" cy="591.4" r="3.5"/><circle cx="1198" cy="730.7" r="3.5"/><circle cx="1170" cy="761.1" r="3.5"/><circle cx="1471.6" cy="590.4" r="3.5"/><circle cx="1187.1" cy="857.1" r="3.5"/><circle cx="1177.3" cy="736.5" r="3.5"/><circle cx="1429.8" cy="618.4" r="3.5"/><circle cx="1136.1" cy="815.6" r="3.5"/><circle cx="1110.1" cy="831.3" r="3.5"/><circle cx="1466.8" cy="588.4" r="3.5"/><circle cx="1474.5" cy="586.7" r="3.5"/><circle cx="1302.6" cy="655.8" r="3.5"/><circle cx="1134.6" cy="864.2" r="3.5"/><circle cx="1429.1" cy="646.9" r="3.5"/><circle cx="1206.6" cy="682.5" r="3.5"/><circle cx="1378.6" cy="624.2" r="3.5"/><circle cx="1120.3" cy="807.6" r="3.5"/><circle cx="1349" cy="667.1" r="3.5"/><circle cx="1365.7" cy="656.6" r="3.5"/><circle cx="1251.9" cy="703.3" r="3.5"/><circle cx="1114" cy="835.5" r="3.5"/><circle cx="1449.1" cy="567.7" r="3.5"/><circle cx="1103.6" cy="849.1" r="3.5"/><circle cx="1147.2" cy="859.2" r="3.5"/><circle cx="1161.2" cy="771.2" r="3.5"/><circle cx="1474.5" cy="586.5" r="3.5"/><circle cx="1351.4" cy="679.9" r="3.5"/><circle cx="1194.2" cy="816.1" r="3.5"/><circle cx="1464.2" cy="580.7" r="3.5"/><circle cx="1464.4" cy="609.3" r="3.5"/><circle cx="1184.4" cy="825.4" r="3.5"/><circle cx="1375.8" cy="631.5" r="3.5"/><circle cx="1425.5" cy="641.1" r="3.5"/><circle cx="1487.5" cy="583.1" r="3.5"/><circle cx="1421.4" cy="617.7" r="3.5"/><circle cx="1469" cy="600.2" r="3.5"/><circle cx="1416.1" cy="616.2" r="3.5"/><circle cx="1117.8" cy="817.9" r="3.5"/><circle cx="1447" cy="595.3" r="3.5"/><circle cx="1292.6" cy="662" r="3.5"/><circle cx="1390.6" cy="608.5" r="3.5"/><circle cx="1303" cy="701.8" r="3.5"/><circle cx="1380.7" cy="662.9" r="3.5"/><circle cx="1412.7" cy="611.3" r="3.5"/><circle cx="1426.9" cy="598.7" r="3.5"/><circle cx="1430.7" cy="635.6" r="3.5"/><circle cx="1435.9" cy="616.3" r="3.5"/><circle cx="1197.1" cy="724.1" r="3.5"/><circle cx="1382.2" cy="615.6" r="3.5"/><circle cx="1316.9" cy="664" r="3.5"/><circle cx="1189" cy="782.8" r="3.5"/><circle cx="1482.3" cy="588.1" r="3.5"/><circle cx="1103.1" cy="843.6" r="3.5"/><circle cx="1194.1" cy="754" r="3.5"/><circle cx="1481.3" cy="596.2" r="3.5"/><circle cx="1303.1" cy="705.6" r="3.5"/><circle cx="1467.9" cy="598.1" r="3.5"/><circle cx="1387.8" cy="597.1" r="3.5"/><circle cx="1484.4" cy="582.2" r="3.5"/><circle cx="1112.2" cy="845.2" r="3.5"/><circle cx="1200.3" cy="766.1" r="3.5"/><circle cx="1298.2" cy="721.6" r="3.5"/><circle cx="1159.9" cy="776" r="3.5"/><circle cx="1192.3" cy="752.2" r="3.5"/><circle cx="1105.3" cy="857.9" r="3.5"/><circle cx="1180.7" cy="864.6" r="3.5"/><circle cx="1460.8" cy="608.4" r="3.5"/><circle cx="1399.8" cy="652.8" r="3.5"/><circle cx="1383.4" cy="647.9" r="3.5"/><circle cx="1110.3" cy="858" r="3.5"/><circle cx="1145.2" cy="793.2" r="3.5"/><circle cx="1467.1" cy="603.2" r="3.5"/><circle cx="1248.9" cy="741" r="3.5"/><circle cx="1174.1" cy="824.2" r="3.5"/><circle cx="1101.2" cy="847.8" r="3.5"/><circle cx="1428.8" cy="600" r="3.5"/><circle cx="1200.9" cy="730.6" r="3.5"/><circle cx="1450.6" cy="610.7" r="3.5"/><circle cx="1474.2" cy="598.9" r="3.5"/><circle cx="1423.5" cy="643.5" r="3.5"/><circle cx="1247.5" cy="755.1" r="3.5"/><circle cx="1412.7" cy="630.8" r="3.5"/><circle cx="1132.1" cy="827" r="3.5"/><circle cx="1242.3" cy="685" r="3.5"/><circle cx="1232.5" cy="757" r="3.5"/><circle cx="1164.1" cy="858.6" r="3.5"/><circle cx="1488" cy="583.2" r="3.5"/><circle cx="1384.9" cy="613.8" r="3.5"/><circle cx="1101.2" cy="854.6" r="3.5"/><circle cx="1467.9" cy="589.9" r="3.5"/><circle cx="1480.4" cy="581.4" r="3.5"/><circle cx="1415.7" cy="631.8" r="3.5"/><circle cx="1276.7" cy="735.5" r="3.5"/><circle cx="1113.7" cy="834.3" r="3.5"/><circle cx="1454.2" cy="616.8" r="3.5"/><circle cx="1422.7" cy="600" r="3.5"/><circle cx="1118.4" cy="824.4" r="3.5"/><circle cx="1202" cy="788.6" r="3.5"/><circle cx="1417.3" cy="613.8" r="3.5"/><circle cx="1282.8" cy="739.1" r="3.5"/><circle cx="1190.1" cy="808.2" r="3.5"/><circle cx="1477.1" cy="589.5" r="3.5"/><circle cx="1485.5" cy="587.4" r="3.5"/><circle cx="1155" cy="804.2" r="3.5"/><circle cx="1290" cy="720.3" r="3.5"/><circle cx="1154.5" cy="811.7" r="3.5"/><circle cx="1121.6" cy="859.4" r="3.5"/><circle cx="1419.8" cy="601.8" r="3.5"/><circle cx="1423.8" cy="640.6" r="3.5"/><circle cx="1408.2" cy="618.1" r="3.5"/><circle cx="1131.2" cy="844.9" r="3.5"/><circle cx="1116.8" cy="811.8" r="3.5"/><circle cx="1470.6" cy="603.6" r="3.5"/><circle cx="1180.5" cy="737.7" r="3.5"/><circle cx="1478.6" cy="593.5" r="3.5"/><circle cx="1166.5" cy="863.8" r="3.5"/><circle cx="1301.1" cy="708.5" r="3.5"/><circle cx="1466.9" cy="578.2" r="3.5"/><circle cx="1452.3" cy="591.8" r="3.5"/><circle cx="1394.8" cy="610.3" r="3.5"/><circle cx="1252.1" cy="705.4" r="3.5"/><circle cx="1396" cy="613.6" r="3.5"/><circle cx="1449.7" cy="604.3" r="3.5"/><circle cx="1474.3" cy="588.5" r="3.5"/><circle cx="1373.9" cy="649.2" r="3.5"/><circle cx="1339.5" cy="694.9" r="3.5"/><circle cx="1341" cy="680.9" r="3.5"/><circle cx="1239" cy="704" r="3.5"/><circle cx="1261.3" cy="732.8" r="3.5"/><circle cx="1278.8" cy="714" r="3.5"/><circle cx="1449.8" cy="609.6" r="3.5"/><circle cx="1446.4" cy="590" r="3.5"/><circle cx="1432.7" cy="620" r="3.5"/><circle cx="1374.3" cy="635.4" r="3.5"/><circle cx="1443.9" cy="618.3" r="3.5"/><circle cx="1105.7" cy="838.9" r="3.5"/><circle cx="1398.4" cy="613.8" r="3.5"/><circle cx="1484.1" cy="597.9" r="3.5"/><circle cx="1239.3" cy="738.8" r="3.5"/><circle cx="1106.8" cy="829.6" r="3.5"/><circle cx="1283.7" cy="708.4" r="3.5"/><circle cx="1308.7" cy="673.2" r="3.5"/><circle cx="1101.4" cy="841.1" r="3.5"/><circle cx="1251.2" cy="771.1" r="3.5"/><circle cx="1127.2" cy="843.2" r="3.5"/><circle cx="1386.8" cy="587.4" r="3.5"/><circle cx="1430.8" cy="631.9" r="3.5"/><circle cx="1402.1" cy="656.6" r="3.5"/><circle cx="1306.1" cy="697.6" r="3.5"/><circle cx="1264" cy="726.5" r="3.5"/><circle cx="1446.3" cy="597.6" r="3.5"/><circle cx="1235.8" cy="739" r="3.5"/><circle cx="1388.1" cy="629.2" r="3.5"/><circle cx="1416.2" cy="635.8" r="3.5"/><circle cx="1445.1" cy="614.1" r="3.5"/><circle cx="1330.2" cy="697.7" r="3.5"/><circle cx="1336.7" cy="668.3" r="3.5"/><circle cx="1229.2" cy="698.6" r="3.5"/><circle cx="1461.7" cy="583.5" r="3.5"/><circle cx="1115.2" cy="855.6" r="3.5"/><circle cx="1269.1" cy="694.3" r="3.5"/><circle cx="1299.7" cy="757.5" r="3.5"/><circle cx="1468.7" cy="571.6" r="3.5"/><circle cx="1475.2" cy="585.3" r="3.5"/><circle cx="1427.9" cy="592.5" r="3.5"/><circle cx="1225.1" cy="773.1" r="3.5"/><circle cx="1224.5" cy="746.8" r="3.5"/><circle cx="1414.3" cy="604.2" r="3.5"/><circle cx="1297.3" cy="688.7" r="3.5"/><circle cx="1400.8" cy="642.9" r="3.5"/><circle cx="1446" cy="599.3" r="3.5"/><circle cx="1116.5" cy="841.1" r="3.5"/><circle cx="1391.6" cy="670" r="3.5"/><circle cx="1142.9" cy="834.4" r="3.5"/><circle cx="1437.4" cy="601.7" r="3.5"/><circle cx="1166.6" cy="756.5" r="3.5"/><circle cx="1151.2" cy="823.2" r="3.5"/><circle cx="1252.8" cy="717.6" r="3.5"/><circle cx="1320.6" cy="688.8" r="3.5"/><circle cx="1246" cy="768.9" r="3.5"/><circle cx="1446.9" cy="597" r="3.5"/><circle cx="1277.8" cy="758.3" r="3.5"/><circle cx="1403.2" cy="657.4" r="3.5"/><circle cx="1424.7" cy="604.1" r="3.5"/><circle cx="1139.2" cy="794.9" r="3.5"/><circle cx="1361.5" cy="660.3" r="3.5"/><circle cx="1322.1" cy="650" r="3.5"/><circle cx="1429.6" cy="629.6" r="3.5"/><circle cx="1401.4" cy="620.5" r="3.5"/><circle cx="1435.8" cy="611.1" r="3.5"/><circle cx="1429.5" cy="621.1" r="3.5"/><circle cx="1200.5" cy="753.2" r="3.5"/><circle cx="1359.1" cy="625.8" r="3.5"/><circle cx="1488" cy="582" r="3.5"/><circle cx="1476.7" cy="597.4" r="3.5"/><circle cx="1100.9" cy="857.3" r="3.5"/><circle cx="1222.2" cy="776.7" r="3.5"/><circle cx="1463.4" cy="604.2" r="3.5"/><circle cx="1351.1" cy="681.3" r="3.5"/><circle cx="1467.5" cy="585" r="3.5"/><circle cx="1102.5" cy="839.6" r="3.5"/><circle cx="1431.8" cy="602.4" r="3.5"/><circle cx="1305.8" cy="657.8" r="3.5"/><circle cx="1431.4" cy="599.3" r="3.5"/><circle cx="1476.3" cy="588.8" r="3.5"/><circle cx="1446.3" cy="608.7" r="3.5"/><circle cx="1358.2" cy="642.9" r="3.5"/><circle cx="1420.5" cy="604.8" r="3.5"/><circle cx="1235.1" cy="715.1" r="3.5"/><circle cx="1452.1" cy="615.7" r="3.5"/><circle cx="1196.6" cy="737.7" r="3.5"/><circle cx="1129.2" cy="850.9" r="3.5"/><circle cx="1448.7" cy="581.9" r="3.5"/><circle cx="1431.2" cy="625.5" r="3.5"/><circle cx="1097.2" cy="852.7" r="3.5"/><circle cx="1112.4" cy="830.5" r="3.5"/><circle cx="1337.4" cy="653.7" r="3.5"/><circle cx="1213.1" cy="713.1" r="3.5"/><circle cx="1433.8" cy="596.5" r="3.5"/><circle cx="1341.8" cy="673" r="3.5"/><circle cx="1213.1" cy="788.6" r="3.5"/><circle cx="1436.2" cy="602.2" r="3.5"/><circle cx="1102.7" cy="847.1" r="3.5"/><circle cx="1444" cy="616" r="3.5"/><circle cx="1389.7" cy="655.8" r="3.5"/><circle cx="1116.2" cy="833.4" r="3.5"/><circle cx="1211.9" cy="774.8" r="3.5"/><circle cx="1384.3" cy="606" r="3.5"/><circle cx="1110.1" cy="855.6" r="3.5"/><circle cx="1109" cy="837.8" r="3.5"/><circle cx="1426" cy="641.8" r="3.5"/><circle cx="1156.5" cy="816.1" r="3.5"/><circle cx="1163.4" cy="820.5" r="3.5"/><circle cx="1278.1" cy="667.2" r="3.5"/><circle cx="1461.7" cy="601.7" r="3.5"/><circle cx="1108.4" cy="837.8" r="3.5"/><circle cx="1193.2" cy="781.2" r="3.5"/><circle cx="1266.6" cy="694" r="3.5"/><circle cx="1121" cy="846.4" r="3.5"/><circle cx="1334.6" cy="640.7" r="3.5"/><circle cx="1473.4" cy="587.9" r="3.5"/><circle cx="1121.7" cy="803.9" r="3.5"/><circle cx="1339.9" cy="676.3" r="3.5"/><circle cx="1168.6" cy="787" r="3.5"/><circle cx="1323.4" cy="713.9" r="3.5"/><circle cx="1125.8" cy="797.7" r="3.5"/><circle cx="1448" cy="598.8" r="3.5"/><circle cx="1474.1" cy="594" r="3.5"/><circle cx="1189.1" cy="763" r="3.5"/><circle cx="1124.3" cy="810.7" r="3.5"/><circle cx="1479.4" cy="582.6" r="3.5"/><circle cx="1347.8" cy="634.3" r="3.5"/><circle cx="1119.5" cy="811.1" r="3.5"/><circle cx="1457.2" cy="575.3" r="3.5"/><circle cx="1197.2" cy="766.2" r="3.5"/><circle cx="1196.2" cy="732.9" r="3.5"/><circle cx="1233" cy="748.1" r="3.5"/><circle cx="1324.3" cy="699.4" r="3.5"/><circle cx="1423.8" cy="622.5" r="3.5"/><circle cx="1227.3" cy="777" r="3.5"/><circle cx="1319.4" cy="703.7" r="3.5"/><circle cx="1227.4" cy="793" r="3.5"/><circle cx="1477.4" cy="576.8" r="3.5"/><circle cx="1284.5" cy="726.3" r="3.5"/><circle cx="1254.2" cy="758.2" r="3.5"/></g><rect x="139.6" y="548.4" width="414.7" height="331.1" fill="none" stroke="#000" stroke-width="1.3"/><rect x="1077" y="546.2" width="427.9" height="334.3" fill="none" stroke="#000" stroke-width="1.3"/><g fill="#000"><g transform="translate(0.60,12.20) scale(0.8870,0.8958) translate(0.00,23.00)"><text x="0" y="0" font-size="40" font-weight="bold" stroke="#000" stroke-width="1.6" stroke-linejoin="round">a</text></g><g transform="translate(799.60,3.90) scale(1.0227,0.9281) translate(-1.00,31.00)"><text x="0" y="0" font-size="40" font-weight="bold" stroke="#000" stroke-width="1.6" stroke-linejoin="round">d</text></g><g transform="translate(1.90,493.30) scale(1.0182,0.9156) translate(-2.00,31.00)"><text x="0" y="0" font-size="40" font-weight="bold" stroke="#000" stroke-width="1.6" stroke-linejoin="round">b</text></g><g transform="translate(912.00,501.40) scale(1.0476,0.9042) translate(-1.00,23.00)"><text x="0" y="0" font-size="40" font-weight="bold" stroke="#000" stroke-width="1.6" stroke-linejoin="round">e</text></g><g transform="translate(0.80,1017.00) scale(1.0095,0.8917) translate(-1.00,23.00)"><text x="0" y="0" font-size="40" font-weight="bold" stroke="#000" stroke-width="1.6" stroke-linejoin="round">c</text></g><g transform="translate(961.40,1008.30) scale(1.0357,0.9219) translate(0.00,31.00)"><text x="0" y="0" font-size="40" font-weight="bold" stroke="#000" stroke-width="1.6" stroke-linejoin="round">f</text></g><g transform="translate(300.50,28.60) scale(1.1048,0.9737) translate(-2.00,19.00)"><text x="0" y="0" font-size="26" >End-to-end distance</text></g><g transform="translate(1209.00,25.00) scale(1.0803,1.0474) translate(-2.00,19.00)"><text x="0" y="0" font-size="26" >Foldedness</text></g><g transform="translate(7.50,256.80) scale(1.0143,1.0786) translate(-2.00,19.00)"><text x="0" y="0" font-size="26" >|<tspan font-style="italic">Z</tspan><tspan font-size="18" dy="9">2</tspan><tspan dy="-9">|</tspan></text></g><g transform="translate(1479.70,260.80) scale(1.0343,1.0750) translate(-2.00,19.00)"><text x="0" y="0" font-size="26" >|<tspan font-style="italic">Z</tspan><tspan font-size="18" dy="9">3</tspan><tspan dy="-9">|</tspan></text></g><g transform="translate(352.90,162.80) scale(1.0261,1.1000) translate(-2.00,15.00)"><text x="0" y="0" font-size="27" ><tspan font-weight="bold">r</tspan><tspan font-size="20" dy="6" font-style="italic">N</tspan></text></g><g transform="translate(1085.90,77.20) scale(0.8895,1.0857) translate(-2.00,15.00)"><text x="0" y="0" font-size="27" ><tspan font-weight="bold">r</tspan><tspan font-size="20" dy="6">1</tspan></text></g><g transform="translate(1134.70,178.00) scale(1.0217,1.0619) translate(-2.00,15.00)"><text x="0" y="0" font-size="27" ><tspan font-weight="bold">r</tspan><tspan font-size="20" dy="6" font-style="italic">N</tspan></text></g><g transform="translate(1205.70,115.00) scale(0.8867,1.0364) translate(-2.00,16.00)"><text x="0" y="0" font-size="27" ><tspan font-weight="bold">r</tspan><tspan font-size="20" dy="6">1</tspan><tspan dy="-6"> + </tspan><tspan font-weight="bold">r</tspan><tspan font-size="20" dy="6" font-style="italic">N</tspan></text></g><g transform="translate(264.70,104.10) rotate(-52) scale(1.0653) translate(-5.50,6.50)"><text x="0" y="0" font-size="24" font-weight="bold">r</text></g><g transform="translate(278.45,101.60) rotate(-52) scale(0.9500) translate(-5.00,6.50)"><text x="0" y="0" font-size="18" >1</text></g><g transform="translate(439.45,116.05) rotate(22) scale(0.8832) translate(-39.00,4.50)"><text x="0" y="0" font-size="27" ><tspan font-weight="bold">r</tspan><tspan font-size="20" dy="6" font-style="italic">N</tspan><tspan dy="-6"> − </tspan><tspan font-weight="bold">r</tspan><tspan font-size="20" dy="6" font-style="italic">1</tspan></text></g><g transform="translate(610.90,325.50) scale(1.0105,0.9800) translate(-1.00,20.00)"><text x="0" y="0" font-size="36" font-weight="bold">x</text></g><g transform="translate(610.90,369.60) scale(1.0105,1.0250) translate(-1.00,20.00)"><text x="0" y="0" font-size="36" font-weight="bold">x</text></g><g transform="translate(610.90,413.40) scale(1.0105,1.0000) translate(-1.00,20.00)"><text x="0" y="0" font-size="36" font-weight="bold">x</text></g><g transform="translate(639.20,330.10) scale(0.9917,0.9833) translate(-1.00,14.00)"><text x="0" y="0" font-size="24" >+</text></g><g transform="translate(639.20,424.30) scale(0.9917,1.1500) translate(-1.00,9.00)"><text x="0" y="0" font-size="24" >−</text></g><g transform="translate(660.60,330.10) scale(1.2400,1.0714) translate(-1.00,14.00)"><text x="0" y="0" font-size="26" >ε</text></g><g transform="translate(660.60,418.40) scale(1.2400,1.0714) translate(-1.00,14.00)"><text x="0" y="0" font-size="26" >ε</text></g><g transform="translate(674.80,339.20) scale(1.0250,1.0538) translate(0.00,13.00)"><text x="0" y="0" font-size="18" font-style="italic">i</text></g><g transform="translate(674.80,427.50) scale(1.0250,1.0538) translate(0.00,13.00)"><text x="0" y="0" font-size="18" font-style="italic">i</text></g><g transform="translate(694.80,312.30) scale(1.0400,1.1150) translate(0.00,15.00)"><text x="0" y="0" font-size="20" >∂<tspan font-style="italic">Z</tspan><tspan font-size="14" dy="5" font-style="italic">i</tspan></text></g><g transform="translate(694.80,396.50) scale(1.0400,1.1600) translate(0.00,15.00)"><text x="0" y="0" font-size="20" >∂<tspan font-style="italic">Z</tspan><tspan font-size="14" dy="5" font-style="italic">i</tspan></text></g><g transform="translate(694.80,343.30) scale(1.1524,0.9733) translate(0.00,15.00)"><text x="0" y="0" font-size="20" >∂<tspan font-weight="bold">x</tspan></text></g><g transform="translate(694.80,428.90) scale(1.1524,0.9400) translate(0.00,15.00)"><text x="0" y="0" font-size="20" >∂<tspan font-weight="bold">x</tspan></text></g><g transform="translate(59.70,615.90) scale(0.9912,1.1000) translate(-1.00,21.00)"><text x="0" y="0" font-size="22" >2 × 10<tspan font-size="14" dy="-11.4">2</tspan></text></g><g transform="translate(61.50,733.50) scale(1.0108,1.1190) translate(-2.00,21.00)"><text x="0" y="0" font-size="22" >1 x 10<tspan font-size="14" dy="-11.4">2</tspan></text></g><g transform="translate(113.10,857.80) scale(1.3100,1.1000) translate(-1.00,15.00)"><text x="0" y="0" font-size="22" >0</text></g><g transform="translate(150.40,893.60) scale(1.3600,1.0733) translate(-1.00,15.00)"><text x="0" y="0" font-size="22" >0</text></g><g transform="translate(252.60,893.60) scale(1.0690,1.0733) translate(-1.00,15.00)"><text x="0" y="0" font-size="22" >0.5</text></g><g transform="translate(364.00,893.60) scale(1.0000,1.0733) translate(-2.00,15.00)"><text x="0" y="0" font-size="22" >1.0</text></g><g transform="translate(474.70,893.60) scale(0.9750,1.0733) translate(-2.00,15.00)"><text x="0" y="0" font-size="22" >1.5</text></g><g transform="translate(331.90,937.40) scale(1.0133,1.1667) translate(-2.00,16.00)"><text x="0" y="0" font-size="22" >|<tspan font-style="italic">Z</tspan><tspan font-size="16" dy="8">2</tspan><tspan dy="-8">|</tspan></text></g><g transform="translate(2.00,767.80) rotate(-90) scale(1.0075,1.1286) translate(-2.00,19.00)"><text x="0" y="0" font-size="26" >|<tspan font-style="italic">r</tspan><tspan font-size="18" dy="6" font-style="italic">N,x</tspan><tspan dy="-6"> − </tspan><tspan font-style="italic">r</tspan><tspan font-size="18" dy="6">1,</tspan><tspan font-size="18" font-style="italic">x</tspan><tspan dy="-6">|</tspan></text></g><g transform="translate(981.00,593.00) scale(0.9674,1.0952) translate(-1.00,21.00)"><text x="0" y="0" font-size="22" >7.5 × 10<tspan font-size="14" dy="-11.4">2</tspan></text></g><g transform="translate(977.00,679.20) scale(1.0140,1.0476) translate(-1.00,21.00)"><text x="0" y="0" font-size="22" >5.0 × 10<tspan font-size="14" dy="-11.4">2</tspan></text></g><g transform="translate(978.00,766.40) scale(1.0023,1.0000) translate(-1.00,21.00)"><text x="0" y="0" font-size="22" >2.5 × 10<tspan font-size="14" dy="-11.4">2</tspan></text></g><g transform="translate(1051.20,859.60) scale(1.3000,0.9333) translate(-1.00,15.00)"><text x="0" y="0" font-size="22" >0</text></g><g transform="translate(1088.30,893.50) scale(1.3600,1.0733) translate(-1.00,15.00)"><text x="0" y="0" font-size="22" >0</text></g><g transform="translate(1225.90,893.50) scale(1.2500,1.0733) translate(-1.00,15.00)"><text x="0" y="0" font-size="22" >2</text></g><g transform="translate(1363.00,893.50) scale(1.0833,1.0733) translate(0.00,15.00)"><text x="0" y="0" font-size="22" >4</text></g><g transform="translate(1275.30,939.00) scale(1.0433,1.0583) translate(-2.00,16.00)"><text x="0" y="0" font-size="22" >|<tspan font-style="italic">Z</tspan><tspan font-size="16" dy="8">3</tspan><tspan dy="-8">|</tspan></text></g><g transform="translate(918.50,766.80) rotate(-90) scale(1.0075,1.1519) translate(-2.00,19.00)"><text x="0" y="0" font-size="26" >|<tspan font-style="italic">r</tspan><tspan font-size="18" dy="6">1,</tspan><tspan font-size="18" font-style="italic">x</tspan><tspan dy="-6"> + </tspan><tspan font-style="italic">r</tspan><tspan font-size="18" dy="6" font-style="italic">N,x</tspan><tspan dy="-6">|</tspan></text></g><g transform="translate(524.10,1172.00) scale(0.9900,1.1208) translate(-2.00,16.00)"><text x="0" y="0" font-size="22" >|<tspan font-style="italic">Z</tspan><tspan font-size="16" dy="8">2</tspan><tspan dy="-8">|</tspan></text></g><g transform="translate(1479.00,1176.90) scale(1.0033,1.0917) translate(-2.00,16.00)"><text x="0" y="0" font-size="22" >|<tspan font-style="italic">Z</tspan><tspan font-size="16" dy="8">3</tspan><tspan dy="-8">|</tspan></text></g><g transform="translate(665.00,1352.30) scale(1.0000,1.0250) translate(0.00,12.00)"><text x="0" y="0" font-size="22" font-style="italic">z</text></g><g transform="translate(679.80,1423.80) scale(0.8154,1.0000) translate(1.00,12.00)"><text x="0" y="0" font-size="22" font-style="italic">y</text></g><g transform="translate(754.80,1444.30) scale(0.9833,1.0750) translate(1.00,12.00)"><text x="0" y="0" font-size="22" font-style="italic">x</text></g><rect x="683.4" y="336.1" width="48.4" height="2.3"/><rect x="683.4" y="421.8" width="48.4" height="2.3"/></g></svg></body></html>
